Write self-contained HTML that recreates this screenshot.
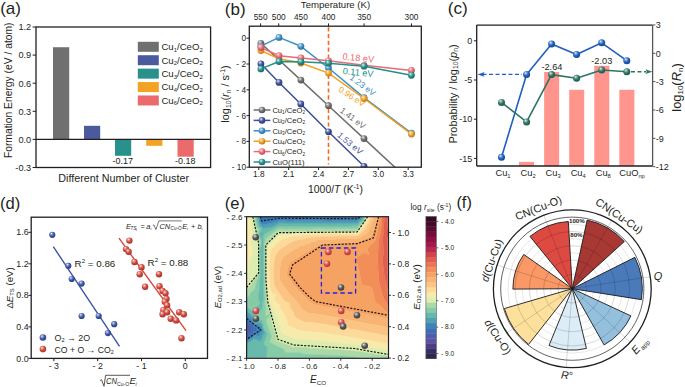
<!DOCTYPE html>
<html><head><meta charset="utf-8"><style>
html,body{margin:0;padding:0;background:#fff;}
svg{display:block;}
text{font-family:"Liberation Sans",sans-serif;}
</style></head><body>
<svg width="685" height="387" viewBox="0 0 685 387" font-family="Liberation Sans">
<defs><radialGradient id="g6e6e6e" cx="0.4" cy="0.36" r="0.68" fx="0.36" fy="0.3"><stop offset="0" stop-color="#f3f3f3"/><stop offset="0.25" stop-color="#a8a8a8"/><stop offset="0.55" stop-color="#6e6e6e"/><stop offset="1" stop-color="#4f4f4f"/></radialGradient><radialGradient id="g3f4e9a" cx="0.4" cy="0.36" r="0.68" fx="0.36" fy="0.3"><stop offset="0" stop-color="#f0f1f7"/><stop offset="0.25" stop-color="#8c95c2"/><stop offset="0.55" stop-color="#3f4e9a"/><stop offset="1" stop-color="#2d386f"/></radialGradient><radialGradient id="g3d8fc6" cx="0.4" cy="0.36" r="0.68" fx="0.36" fy="0.3"><stop offset="0" stop-color="#eff6fa"/><stop offset="0.25" stop-color="#8bbcdd"/><stop offset="0.55" stop-color="#3d8fc6"/><stop offset="1" stop-color="#2c678f"/></radialGradient><radialGradient id="gf4a020" cx="0.4" cy="0.36" r="0.68" fx="0.36" fy="0.3"><stop offset="0" stop-color="#fef7ed"/><stop offset="0.25" stop-color="#f8c679"/><stop offset="0.55" stop-color="#f4a020"/><stop offset="1" stop-color="#b07317"/></radialGradient><radialGradient id="gea6a73" cx="0.4" cy="0.36" r="0.68" fx="0.36" fy="0.3"><stop offset="0" stop-color="#fdf3f4"/><stop offset="0.25" stop-color="#f2a6ab"/><stop offset="0.55" stop-color="#ea6a73"/><stop offset="1" stop-color="#a84c53"/></radialGradient><radialGradient id="g23908a" cx="0.4" cy="0.36" r="0.68" fx="0.36" fy="0.3"><stop offset="0" stop-color="#edf6f6"/><stop offset="0.25" stop-color="#7bbcb9"/><stop offset="0.55" stop-color="#23908a"/><stop offset="1" stop-color="#196863"/></radialGradient><radialGradient id="g1f5fbf" cx="0.4" cy="0.36" r="0.68" fx="0.36" fy="0.3"><stop offset="0" stop-color="#edf2fa"/><stop offset="0.25" stop-color="#799fd9"/><stop offset="0.55" stop-color="#1f5fbf"/><stop offset="1" stop-color="#16448a"/></radialGradient><radialGradient id="g2d7565" cx="0.4" cy="0.36" r="0.68" fx="0.36" fy="0.3"><stop offset="0" stop-color="#eef4f3"/><stop offset="0.25" stop-color="#81aca3"/><stop offset="0.55" stop-color="#2d7565"/><stop offset="1" stop-color="#205449"/></radialGradient><radialGradient id="g3a56a8" cx="0.4" cy="0.36" r="0.68" fx="0.36" fy="0.3"><stop offset="0" stop-color="#eff1f8"/><stop offset="0.25" stop-color="#899acb"/><stop offset="0.55" stop-color="#3a56a8"/><stop offset="1" stop-color="#2a3e79"/></radialGradient><radialGradient id="gd4473a" cx="0.4" cy="0.36" r="0.68" fx="0.36" fy="0.3"><stop offset="0" stop-color="#fcf0ef"/><stop offset="0.25" stop-color="#e59189"/><stop offset="0.55" stop-color="#d4473a"/><stop offset="1" stop-color="#99332a"/></radialGradient><radialGradient id="ge04848" cx="0.4" cy="0.36" r="0.68" fx="0.36" fy="0.3"><stop offset="0" stop-color="#fdf0f0"/><stop offset="0.25" stop-color="#ec9191"/><stop offset="0.55" stop-color="#e04848"/><stop offset="1" stop-color="#a13434"/></radialGradient><radialGradient id="g555555" cx="0.4" cy="0.36" r="0.68" fx="0.36" fy="0.3"><stop offset="0" stop-color="#f1f1f1"/><stop offset="0.25" stop-color="#999999"/><stop offset="0.55" stop-color="#555555"/><stop offset="1" stop-color="#3d3d3d"/></radialGradient></defs>
<rect width="685" height="387" fill="#ffffff"/>
<text x="0.20" y="13.60" font-size="17.00" text-anchor="start" fill="#231f20">(a)</text>
<rect x="53.00" y="47.23" width="16.20" height="92.17" fill="#707070"/>
<rect x="84.00" y="125.80" width="16.20" height="13.60" fill="#4b5a9c"/>
<rect x="115.00" y="139.40" width="16.20" height="16.40" fill="#28918b"/>
<rect x="146.20" y="139.40" width="16.20" height="6.40" fill="#f4a221"/>
<rect x="177.50" y="139.40" width="16.20" height="17.30" fill="#eb6a6c"/>
<rect x="36.0" y="27.0" width="174.6" height="140.5" fill="none" stroke="#231f20" stroke-width="1.3"/>
<line x1="36.00" y1="139.40" x2="210.60" y2="139.40" stroke="#231f20" stroke-width="1.2"/>
<line x1="32.60" y1="27.00" x2="36.00" y2="27.00" stroke="#231f20" stroke-width="1.0"/>
<text x="31.20" y="30.30" font-size="9.20" text-anchor="end" fill="#231f20">1.2</text>
<line x1="32.60" y1="55.10" x2="36.00" y2="55.10" stroke="#231f20" stroke-width="1.0"/>
<text x="31.20" y="58.40" font-size="9.20" text-anchor="end" fill="#231f20">0.9</text>
<line x1="32.60" y1="83.20" x2="36.00" y2="83.20" stroke="#231f20" stroke-width="1.0"/>
<text x="31.20" y="86.50" font-size="9.20" text-anchor="end" fill="#231f20">0.6</text>
<line x1="32.60" y1="111.30" x2="36.00" y2="111.30" stroke="#231f20" stroke-width="1.0"/>
<text x="31.20" y="114.60" font-size="9.20" text-anchor="end" fill="#231f20">0.3</text>
<line x1="32.60" y1="139.40" x2="36.00" y2="139.40" stroke="#231f20" stroke-width="1.0"/>
<text x="31.20" y="142.70" font-size="9.20" text-anchor="end" fill="#231f20">0.0</text>
<line x1="32.60" y1="167.50" x2="36.00" y2="167.50" stroke="#231f20" stroke-width="1.0"/>
<text x="31.20" y="170.80" font-size="9.20" text-anchor="end" fill="#231f20">-0.3</text>
<text x="12.00" y="90.30" font-size="10.30" text-anchor="middle" fill="#231f20" transform="rotate(-90.00 12.00 90.30)">Formation Energy (eV / atom)</text>
<text x="122.80" y="164.00" font-size="9.00" text-anchor="middle" fill="#231f20">-0.17</text>
<text x="185.20" y="164.30" font-size="9.00" text-anchor="middle" fill="#231f20">-0.18</text>
<text x="123.70" y="182.00" font-size="10.75" text-anchor="middle" fill="#231f20">Different Number of Cluster</text>
<rect x="137.80" y="41.80" width="21.00" height="10.00" fill="#707070"/>
<text x="161.40" y="50.10" font-size="9.60" text-anchor="start" fill="#231f20">Cu<tspan dy="1.63" font-size="5.95">1</tspan><tspan dy="-1.63">&#8203;</tspan>/CeO<tspan dy="1.63" font-size="5.95">2</tspan><tspan dy="-1.63">&#8203;</tspan></text>
<rect x="137.80" y="55.22" width="21.00" height="10.00" fill="#4b5a9c"/>
<text x="161.40" y="63.52" font-size="9.60" text-anchor="start" fill="#231f20">Cu<tspan dy="1.63" font-size="5.95">2</tspan><tspan dy="-1.63">&#8203;</tspan>/CeO<tspan dy="1.63" font-size="5.95">2</tspan><tspan dy="-1.63">&#8203;</tspan></text>
<rect x="137.80" y="68.64" width="21.00" height="10.00" fill="#28918b"/>
<text x="161.40" y="76.94" font-size="9.60" text-anchor="start" fill="#231f20">Cu<tspan dy="1.63" font-size="5.95">3</tspan><tspan dy="-1.63">&#8203;</tspan>/CeO<tspan dy="1.63" font-size="5.95">2</tspan><tspan dy="-1.63">&#8203;</tspan></text>
<rect x="137.80" y="82.06" width="21.00" height="10.00" fill="#f4a221"/>
<text x="161.40" y="90.36" font-size="9.60" text-anchor="start" fill="#231f20">Cu<tspan dy="1.63" font-size="5.95">4</tspan><tspan dy="-1.63">&#8203;</tspan>/CeO<tspan dy="1.63" font-size="5.95">2</tspan><tspan dy="-1.63">&#8203;</tspan></text>
<rect x="137.80" y="95.48" width="21.00" height="10.00" fill="#eb6a6c"/>
<text x="161.40" y="103.78" font-size="9.60" text-anchor="start" fill="#231f20">Cu<tspan dy="1.63" font-size="5.95">6</tspan><tspan dy="-1.63">&#8203;</tspan>/CeO<tspan dy="1.63" font-size="5.95">2</tspan><tspan dy="-1.63">&#8203;</tspan></text>
<text x="224.80" y="14.60" font-size="17.00" text-anchor="start" fill="#231f20">(b)</text>
<clipPath id="clipb"><rect x="249.3" y="26.2" width="172.0" height="141.0"/></clipPath>
<line x1="328.50" y1="27.20" x2="328.50" y2="164.50" stroke="#f26a1b" stroke-width="1.6" stroke-dasharray="4.2,2.6"/>
<g clip-path="url(#clipb)">
<polyline points="260.90,43.30 300.90,80.10 328.50,105.70 364.00,138.60 411.40,182.50" fill="none" stroke="#6e6e6e" stroke-width="1.5" stroke-linejoin="round"/>
<polyline points="260.90,63.80 279.00,82.40 300.80,104.00 328.50,131.80 364.00,166.30 400.00,202.00" fill="none" stroke="#3f4e9a" stroke-width="1.5" stroke-linejoin="round"/>
<polyline points="260.90,46.20 279.00,37.40 300.90,46.30 328.50,68.00 364.00,97.60 411.40,133.20" fill="none" stroke="#3d8fc6" stroke-width="1.5" stroke-linejoin="round"/>
<polyline points="260.90,50.60 279.00,58.80 300.90,63.00 328.50,73.10 364.00,98.50 411.40,134.10" fill="none" stroke="#f4a020" stroke-width="1.5" stroke-linejoin="round"/>
<polyline points="260.90,47.50 279.00,55.70 300.90,57.90 328.50,60.80 364.00,65.30 411.40,70.40" fill="none" stroke="#ea6a73" stroke-width="1.5" stroke-linejoin="round"/>
<polyline points="260.90,68.90 279.00,61.50 300.90,61.80 328.50,63.20 364.00,66.20 411.40,75.30" fill="none" stroke="#23908a" stroke-width="1.5" stroke-linejoin="round"/>
<circle cx="260.90" cy="43.30" r="3.4" fill="url(#g6e6e6e)"/>
<circle cx="300.90" cy="80.10" r="3.4" fill="url(#g6e6e6e)"/>
<circle cx="328.50" cy="105.70" r="3.4" fill="url(#g6e6e6e)"/>
<circle cx="364.00" cy="138.60" r="3.4" fill="url(#g6e6e6e)"/>
<circle cx="260.90" cy="63.80" r="3.4" fill="url(#g3f4e9a)"/>
<circle cx="279.00" cy="82.40" r="3.4" fill="url(#g3f4e9a)"/>
<circle cx="300.80" cy="104.00" r="3.4" fill="url(#g3f4e9a)"/>
<circle cx="328.50" cy="131.80" r="3.4" fill="url(#g3f4e9a)"/>
<circle cx="364.00" cy="166.30" r="3.4" fill="url(#g3f4e9a)"/>
<circle cx="260.90" cy="46.20" r="3.4" fill="url(#g3d8fc6)"/>
<circle cx="279.00" cy="37.40" r="3.4" fill="url(#g3d8fc6)"/>
<circle cx="300.90" cy="46.30" r="3.4" fill="url(#g3d8fc6)"/>
<circle cx="328.50" cy="68.00" r="3.4" fill="url(#g3d8fc6)"/>
<circle cx="364.00" cy="97.60" r="3.4" fill="url(#g3d8fc6)"/>
<circle cx="411.40" cy="133.20" r="3.4" fill="url(#g3d8fc6)"/>
<circle cx="260.90" cy="50.60" r="3.4" fill="url(#gf4a020)"/>
<circle cx="279.00" cy="58.80" r="3.4" fill="url(#gf4a020)"/>
<circle cx="300.90" cy="63.00" r="3.4" fill="url(#gf4a020)"/>
<circle cx="328.50" cy="73.10" r="3.4" fill="url(#gf4a020)"/>
<circle cx="364.00" cy="98.50" r="3.4" fill="url(#gf4a020)"/>
<circle cx="411.40" cy="134.10" r="3.4" fill="url(#gf4a020)"/>
<circle cx="260.90" cy="47.50" r="3.4" fill="url(#gea6a73)"/>
<circle cx="279.00" cy="55.70" r="3.4" fill="url(#gea6a73)"/>
<circle cx="300.90" cy="57.90" r="3.4" fill="url(#gea6a73)"/>
<circle cx="328.50" cy="60.80" r="3.4" fill="url(#gea6a73)"/>
<circle cx="364.00" cy="65.30" r="3.4" fill="url(#gea6a73)"/>
<circle cx="411.40" cy="70.40" r="3.4" fill="url(#gea6a73)"/>
<circle cx="260.90" cy="68.90" r="3.4" fill="url(#g23908a)"/>
<circle cx="279.00" cy="61.50" r="3.4" fill="url(#g23908a)"/>
<circle cx="300.90" cy="61.80" r="3.4" fill="url(#g23908a)"/>
<circle cx="328.50" cy="63.20" r="3.4" fill="url(#g23908a)"/>
<circle cx="364.00" cy="66.20" r="3.4" fill="url(#g23908a)"/>
<circle cx="411.40" cy="75.30" r="3.4" fill="url(#g23908a)"/>
</g>
<rect x="249.3" y="26.2" width="172.0" height="141.0" fill="none" stroke="#231f20" stroke-width="1.3"/>
<line x1="258.80" y1="167.20" x2="258.80" y2="170.00" stroke="#231f20" stroke-width="1.0"/>
<text x="258.80" y="177.30" font-size="8.30" text-anchor="middle" fill="#231f20">1.8</text>
<line x1="288.68" y1="167.20" x2="288.68" y2="170.00" stroke="#231f20" stroke-width="1.0"/>
<text x="288.68" y="177.30" font-size="8.30" text-anchor="middle" fill="#231f20">2.1</text>
<line x1="318.56" y1="167.20" x2="318.56" y2="170.00" stroke="#231f20" stroke-width="1.0"/>
<text x="318.56" y="177.30" font-size="8.30" text-anchor="middle" fill="#231f20">2.4</text>
<line x1="348.44" y1="167.20" x2="348.44" y2="170.00" stroke="#231f20" stroke-width="1.0"/>
<text x="348.44" y="177.30" font-size="8.30" text-anchor="middle" fill="#231f20">2.7</text>
<line x1="378.32" y1="167.20" x2="378.32" y2="170.00" stroke="#231f20" stroke-width="1.0"/>
<text x="378.32" y="177.30" font-size="8.30" text-anchor="middle" fill="#231f20">3.0</text>
<line x1="408.20" y1="167.20" x2="408.20" y2="170.00" stroke="#231f20" stroke-width="1.0"/>
<text x="408.20" y="177.30" font-size="8.30" text-anchor="middle" fill="#231f20">3.3</text>
<line x1="246.50" y1="38.20" x2="249.30" y2="38.20" stroke="#231f20" stroke-width="1.0"/>
<text x="246.00" y="41.20" font-size="8.30" text-anchor="end" fill="#231f20">0</text>
<line x1="246.50" y1="64.00" x2="249.30" y2="64.00" stroke="#231f20" stroke-width="1.0"/>
<text x="246.00" y="67.00" font-size="8.30" text-anchor="end" fill="#231f20">- 2</text>
<line x1="246.50" y1="89.80" x2="249.30" y2="89.80" stroke="#231f20" stroke-width="1.0"/>
<text x="246.00" y="92.80" font-size="8.30" text-anchor="end" fill="#231f20">- 4</text>
<line x1="246.50" y1="115.60" x2="249.30" y2="115.60" stroke="#231f20" stroke-width="1.0"/>
<text x="246.00" y="118.60" font-size="8.30" text-anchor="end" fill="#231f20">- 6</text>
<line x1="246.50" y1="141.40" x2="249.30" y2="141.40" stroke="#231f20" stroke-width="1.0"/>
<text x="246.00" y="144.40" font-size="8.30" text-anchor="end" fill="#231f20">- 8</text>
<line x1="246.50" y1="167.20" x2="249.30" y2="167.20" stroke="#231f20" stroke-width="1.0"/>
<text x="246.00" y="170.20" font-size="8.30" text-anchor="end" fill="#231f20">- 10</text>
<line x1="260.61" y1="23.40" x2="260.61" y2="26.20" stroke="#231f20" stroke-width="1.0"/>
<text x="260.61" y="19.80" font-size="8.30" text-anchor="middle" fill="#231f20">550</text>
<line x1="278.72" y1="23.40" x2="278.72" y2="26.20" stroke="#231f20" stroke-width="1.0"/>
<text x="278.72" y="19.80" font-size="8.30" text-anchor="middle" fill="#231f20">500</text>
<line x1="300.85" y1="23.40" x2="300.85" y2="26.20" stroke="#231f20" stroke-width="1.0"/>
<text x="300.85" y="19.80" font-size="8.30" text-anchor="middle" fill="#231f20">450</text>
<line x1="328.52" y1="23.40" x2="328.52" y2="26.20" stroke="#231f20" stroke-width="1.0"/>
<text x="328.52" y="19.80" font-size="8.30" text-anchor="middle" fill="#231f20">400</text>
<line x1="364.09" y1="23.40" x2="364.09" y2="26.20" stroke="#231f20" stroke-width="1.0"/>
<text x="364.09" y="19.80" font-size="8.30" text-anchor="middle" fill="#231f20">350</text>
<line x1="411.52" y1="23.40" x2="411.52" y2="26.20" stroke="#231f20" stroke-width="1.0"/>
<text x="411.52" y="19.80" font-size="8.30" text-anchor="middle" fill="#231f20">300</text>
<text x="335.50" y="7.50" font-size="9.60" text-anchor="middle" fill="#231f20">Temperature (K)</text>
<text x="335.50" y="193.30" font-size="10.40" text-anchor="middle" fill="#231f20">1000/<tspan font-style="italic">T</tspan> (K<tspan dy="-3.95" font-size="6.45">-1</tspan><tspan dy="3.95">&#8203;</tspan>)</text>
<text x="229.00" y="94.00" font-size="10.90" text-anchor="middle" fill="#231f20" transform="rotate(-90.00 229.00 94.00)">log<tspan dy="1.85" font-size="6.76">10</tspan><tspan dy="-1.85">&#8203;</tspan>(<tspan font-style="italic">r</tspan><tspan dy="1.85" font-size="6.76">n</tspan><tspan dy="-1.85">&#8203;</tspan> / s<tspan dy="-4.14" font-size="6.76">-1</tspan><tspan dy="4.14">&#8203;</tspan>)</text>
<line x1="253.60" y1="110.00" x2="270.40" y2="110.00" stroke="#6e6e6e" stroke-width="1.5"/>
<circle cx="262.00" cy="110.00" r="3.3" fill="url(#g6e6e6e)"/>
<text x="272.40" y="112.80" font-size="7.60" text-anchor="start" fill="#231f20">Cu<tspan dy="1.29" font-size="4.71">1</tspan><tspan dy="-1.29">&#8203;</tspan>/CeO<tspan dy="1.29" font-size="4.71">2</tspan><tspan dy="-1.29">&#8203;</tspan></text>
<line x1="253.60" y1="120.40" x2="270.40" y2="120.40" stroke="#3f4e9a" stroke-width="1.5"/>
<circle cx="262.00" cy="120.40" r="3.3" fill="url(#g3f4e9a)"/>
<text x="272.40" y="123.20" font-size="7.60" text-anchor="start" fill="#231f20">Cu<tspan dy="1.29" font-size="4.71">2</tspan><tspan dy="-1.29">&#8203;</tspan>/CeO<tspan dy="1.29" font-size="4.71">2</tspan><tspan dy="-1.29">&#8203;</tspan></text>
<line x1="253.60" y1="130.80" x2="270.40" y2="130.80" stroke="#3d8fc6" stroke-width="1.5"/>
<circle cx="262.00" cy="130.80" r="3.3" fill="url(#g3d8fc6)"/>
<text x="272.40" y="133.60" font-size="7.60" text-anchor="start" fill="#231f20">Cu<tspan dy="1.29" font-size="4.71">3</tspan><tspan dy="-1.29">&#8203;</tspan>/CeO<tspan dy="1.29" font-size="4.71">2</tspan><tspan dy="-1.29">&#8203;</tspan></text>
<line x1="253.60" y1="141.20" x2="270.40" y2="141.20" stroke="#f4a020" stroke-width="1.5"/>
<circle cx="262.00" cy="141.20" r="3.3" fill="url(#gf4a020)"/>
<text x="272.40" y="144.00" font-size="7.60" text-anchor="start" fill="#231f20">Cu<tspan dy="1.29" font-size="4.71">4</tspan><tspan dy="-1.29">&#8203;</tspan>/CeO<tspan dy="1.29" font-size="4.71">2</tspan><tspan dy="-1.29">&#8203;</tspan></text>
<line x1="253.60" y1="151.60" x2="270.40" y2="151.60" stroke="#ea6a73" stroke-width="1.5"/>
<circle cx="262.00" cy="151.60" r="3.3" fill="url(#gea6a73)"/>
<text x="272.40" y="154.40" font-size="7.60" text-anchor="start" fill="#231f20">Cu<tspan dy="1.29" font-size="4.71">6</tspan><tspan dy="-1.29">&#8203;</tspan>/CeO<tspan dy="1.29" font-size="4.71">2</tspan><tspan dy="-1.29">&#8203;</tspan></text>
<line x1="253.60" y1="162.00" x2="270.40" y2="162.00" stroke="#23908a" stroke-width="1.5"/>
<circle cx="262.00" cy="162.00" r="3.3" fill="url(#g23908a)"/>
<text x="272.40" y="164.80" font-size="7.60" text-anchor="start" fill="#231f20">CuO(111)</text>
<text x="358.00" y="61.00" font-size="9.20" text-anchor="middle" fill="#ea6a73" transform="rotate(5.50 358.00 61.00)">0.18 eV</text>
<text x="357.80" y="75.60" font-size="9.20" text-anchor="middle" fill="#23908a" transform="rotate(6.00 357.80 75.60)">0.11 eV</text>
<text x="361.00" y="87.60" font-size="8.60" text-anchor="middle" fill="#3d8fc6" transform="rotate(36.50 361.00 87.60)">1.23 eV</text>
<text x="350.20" y="99.00" font-size="8.60" text-anchor="middle" fill="#f4a020" transform="rotate(33.00 350.20 99.00)">0.96 eV</text>
<text x="351.00" y="120.60" font-size="8.60" text-anchor="middle" fill="#6e6e6e" transform="rotate(37.00 351.00 120.60)">1.41 eV</text>
<text x="348.20" y="145.60" font-size="8.60" text-anchor="middle" fill="#3f4e9a" transform="rotate(40.00 348.20 145.60)">1.53 eV</text>
<text x="447.80" y="13.70" font-size="17.20" text-anchor="start" fill="#231f20">(c)</text>
<rect x="519.07" y="161.90" width="15.00" height="4.10" fill="#ff958c"/>
<rect x="544.14" y="72.00" width="15.00" height="94.00" fill="#ff958c"/>
<rect x="569.21" y="89.80" width="15.00" height="76.20" fill="#ff958c"/>
<rect x="594.28" y="65.80" width="15.00" height="100.20" fill="#ff958c"/>
<rect x="619.35" y="89.80" width="15.00" height="76.20" fill="#ff958c"/>
<line x1="482.50" y1="74.40" x2="522.00" y2="74.40" stroke="#1f5fbf" stroke-width="1.4" stroke-dasharray="4,2.5"/>
<path d="M477.6,74.4 L484.5,72.0 L483.2,74.4 L484.5,76.8 Z" fill="#1f5fbf"/>
<line x1="631.00" y1="71.70" x2="646.00" y2="71.70" stroke="#2d7565" stroke-width="1.4" stroke-dasharray="4,2.5"/>
<path d="M652.4,71.7 L645.5,69.3 L646.8,71.7 L645.5,74.1 Z" fill="#2d7565"/>
<polyline points="501.50,157.30 526.60,74.40 551.60,44.00 576.60,54.40 601.70,42.80 626.80,60.70" fill="none" stroke="#1f5fbf" stroke-width="1.6" stroke-linejoin="round"/>
<polyline points="501.50,102.40 526.60,121.90 551.60,74.60 576.60,78.20 601.70,70.00 626.80,71.70" fill="none" stroke="#2d7565" stroke-width="1.6" stroke-linejoin="round"/>
<circle cx="501.50" cy="157.30" r="3.5" fill="url(#g1f5fbf)"/>
<circle cx="526.60" cy="74.40" r="3.5" fill="url(#g1f5fbf)"/>
<circle cx="551.60" cy="44.00" r="3.5" fill="url(#g1f5fbf)"/>
<circle cx="576.60" cy="54.40" r="3.5" fill="url(#g1f5fbf)"/>
<circle cx="601.70" cy="42.80" r="3.5" fill="url(#g1f5fbf)"/>
<circle cx="626.80" cy="60.70" r="3.5" fill="url(#g1f5fbf)"/>
<circle cx="501.50" cy="102.40" r="3.5" fill="url(#g2d7565)"/>
<circle cx="526.60" cy="121.90" r="3.5" fill="url(#g2d7565)"/>
<circle cx="551.60" cy="74.60" r="3.5" fill="url(#g2d7565)"/>
<circle cx="576.60" cy="78.20" r="3.5" fill="url(#g2d7565)"/>
<circle cx="601.70" cy="70.00" r="3.5" fill="url(#g2d7565)"/>
<circle cx="626.80" cy="71.70" r="3.5" fill="url(#g2d7565)"/>
<line x1="476.70" y1="25.10" x2="652.60" y2="25.10" stroke="#231f20" stroke-width="1.3"/>
<line x1="476.70" y1="25.10" x2="476.70" y2="166.00" stroke="#231f20" stroke-width="1.3"/>
<line x1="476.70" y1="166.00" x2="652.60" y2="166.00" stroke="#231f20" stroke-width="1.3"/>
<line x1="652.60" y1="25.10" x2="652.60" y2="166.00" stroke="#555555" stroke-width="1.3"/>
<line x1="473.90" y1="40.80" x2="476.70" y2="40.80" stroke="#231f20" stroke-width="1.0"/>
<text x="472.30" y="44.00" font-size="9.00" text-anchor="end" fill="#231f20">0</text>
<line x1="473.90" y1="80.00" x2="476.70" y2="80.00" stroke="#231f20" stroke-width="1.0"/>
<text x="472.30" y="83.20" font-size="9.00" text-anchor="end" fill="#231f20">-5</text>
<line x1="473.90" y1="119.20" x2="476.70" y2="119.20" stroke="#231f20" stroke-width="1.0"/>
<text x="472.30" y="122.40" font-size="9.00" text-anchor="end" fill="#231f20">-10</text>
<line x1="473.90" y1="158.40" x2="476.70" y2="158.40" stroke="#231f20" stroke-width="1.0"/>
<text x="472.30" y="161.60" font-size="9.00" text-anchor="end" fill="#231f20">-15</text>
<line x1="652.60" y1="24.95" x2="655.40" y2="24.95" stroke="#555555" stroke-width="1.0"/>
<text x="655.80" y="28.15" font-size="9.00" text-anchor="start" fill="#231f20">3</text>
<line x1="652.60" y1="53.30" x2="655.40" y2="53.30" stroke="#555555" stroke-width="1.0"/>
<text x="655.80" y="56.50" font-size="9.00" text-anchor="start" fill="#231f20">0</text>
<line x1="652.60" y1="81.65" x2="655.40" y2="81.65" stroke="#555555" stroke-width="1.0"/>
<text x="655.80" y="84.85" font-size="9.00" text-anchor="start" fill="#231f20">-3</text>
<line x1="652.60" y1="110.00" x2="655.40" y2="110.00" stroke="#555555" stroke-width="1.0"/>
<text x="655.80" y="113.20" font-size="9.00" text-anchor="start" fill="#231f20">-6</text>
<line x1="652.60" y1="138.35" x2="655.40" y2="138.35" stroke="#555555" stroke-width="1.0"/>
<text x="655.80" y="141.55" font-size="9.00" text-anchor="start" fill="#231f20">-9</text>
<line x1="652.60" y1="166.70" x2="655.40" y2="166.70" stroke="#555555" stroke-width="1.0"/>
<text x="655.80" y="169.90" font-size="9.00" text-anchor="start" fill="#231f20">-12</text>
<text x="503.00" y="176.30" font-size="9.30" text-anchor="middle" fill="#231f20">Cu<tspan dy="1.58" font-size="5.77">1</tspan><tspan dy="-1.58">&#8203;</tspan></text>
<text x="528.07" y="176.30" font-size="9.30" text-anchor="middle" fill="#231f20">Cu<tspan dy="1.58" font-size="5.77">2</tspan><tspan dy="-1.58">&#8203;</tspan></text>
<text x="553.14" y="176.30" font-size="9.30" text-anchor="middle" fill="#231f20">Cu<tspan dy="1.58" font-size="5.77">3</tspan><tspan dy="-1.58">&#8203;</tspan></text>
<text x="578.21" y="176.30" font-size="9.30" text-anchor="middle" fill="#231f20">Cu<tspan dy="1.58" font-size="5.77">4</tspan><tspan dy="-1.58">&#8203;</tspan></text>
<text x="603.28" y="176.30" font-size="9.30" text-anchor="middle" fill="#231f20">Cu<tspan dy="1.58" font-size="5.77">8</tspan><tspan dy="-1.58">&#8203;</tspan></text>
<text x="632.05" y="176.30" font-size="9.30" text-anchor="middle" fill="#231f20">CuO<tspan dy="1.58" font-size="5.77">np</tspan><tspan dy="-1.58">&#8203;</tspan></text>
<text x="551.90" y="70.00" font-size="9.20" text-anchor="middle" fill="#231f20">-2.64</text>
<text x="601.80" y="64.20" font-size="9.20" text-anchor="middle" fill="#231f20">-2.03</text>
<text x="456.50" y="94.00" font-size="10.90" text-anchor="middle" fill="#231f20" transform="rotate(-90.00 456.50 94.00)">Probability / log<tspan dy="1.85" font-size="6.76">10</tspan><tspan dy="-1.85">&#8203;</tspan>(<tspan font-style="italic">p</tspan><tspan dy="1.85" font-size="6.76">n</tspan><tspan dy="-1.85">&#8203;</tspan>)</text>
<text x="680.80" y="87.50" font-size="12.90" text-anchor="middle" fill="#231f20" transform="rotate(-90.00 680.80 87.50)">log<tspan dy="2.19" font-size="8.00">10</tspan><tspan dy="-2.19">&#8203;</tspan>(<tspan font-style="italic">R</tspan><tspan dy="2.19" font-size="8.00">n</tspan><tspan dy="-2.19">&#8203;</tspan>)</text>
<text x="0.00" y="209.40" font-size="16.60" text-anchor="start" fill="#231f20">(d)</text>
<rect x="31.2" y="217.2" width="176.3" height="141.2" fill="none" stroke="#231f20" stroke-width="1.3"/>
<line x1="28.40" y1="358.40" x2="31.20" y2="358.40" stroke="#231f20" stroke-width="1.0"/>
<text x="28.60" y="361.50" font-size="8.80" text-anchor="end" fill="#231f20">0.0</text>
<line x1="28.40" y1="326.88" x2="31.20" y2="326.88" stroke="#231f20" stroke-width="1.0"/>
<text x="28.60" y="329.98" font-size="8.80" text-anchor="end" fill="#231f20">0.4</text>
<line x1="28.40" y1="295.36" x2="31.20" y2="295.36" stroke="#231f20" stroke-width="1.0"/>
<text x="28.60" y="298.46" font-size="8.80" text-anchor="end" fill="#231f20">0.8</text>
<line x1="28.40" y1="263.84" x2="31.20" y2="263.84" stroke="#231f20" stroke-width="1.0"/>
<text x="28.60" y="266.94" font-size="8.80" text-anchor="end" fill="#231f20">1.2</text>
<line x1="28.40" y1="232.32" x2="31.20" y2="232.32" stroke="#231f20" stroke-width="1.0"/>
<text x="28.60" y="235.42" font-size="8.80" text-anchor="end" fill="#231f20">1.6</text>
<line x1="53.90" y1="358.40" x2="53.90" y2="361.20" stroke="#231f20" stroke-width="1.0"/>
<text x="53.90" y="368.60" font-size="8.80" text-anchor="middle" fill="#231f20">- 3</text>
<line x1="97.70" y1="358.40" x2="97.70" y2="361.20" stroke="#231f20" stroke-width="1.0"/>
<text x="97.70" y="368.60" font-size="8.80" text-anchor="middle" fill="#231f20">- 2</text>
<line x1="141.50" y1="358.40" x2="141.50" y2="361.20" stroke="#231f20" stroke-width="1.0"/>
<text x="141.50" y="368.60" font-size="8.80" text-anchor="middle" fill="#231f20">- 1</text>
<line x1="185.30" y1="358.40" x2="185.30" y2="361.20" stroke="#231f20" stroke-width="1.0"/>
<text x="185.30" y="368.60" font-size="8.80" text-anchor="middle" fill="#231f20">0</text>
<line x1="53.30" y1="246.60" x2="119.50" y2="346.40" stroke="#3a56a8" stroke-width="1.4"/>
<line x1="119.00" y1="238.20" x2="186.00" y2="330.60" stroke="#d4473a" stroke-width="1.4"/>
<circle cx="52.30" cy="234.80" r="3.1" fill="url(#g3a56a8)"/>
<circle cx="68.30" cy="265.80" r="3.1" fill="url(#g3a56a8)"/>
<circle cx="71.70" cy="279.00" r="3.1" fill="url(#g3a56a8)"/>
<circle cx="81.60" cy="283.60" r="3.1" fill="url(#g3a56a8)"/>
<circle cx="81.60" cy="316.00" r="3.1" fill="url(#g3a56a8)"/>
<circle cx="98.70" cy="316.00" r="3.1" fill="url(#g3a56a8)"/>
<circle cx="107.90" cy="333.10" r="3.1" fill="url(#g3a56a8)"/>
<circle cx="114.20" cy="324.20" r="3.1" fill="url(#g3a56a8)"/>
<circle cx="129.40" cy="240.60" r="3.2" fill="url(#gd4473a)"/>
<circle cx="126.00" cy="249.10" r="3.2" fill="url(#gd4473a)"/>
<circle cx="128.60" cy="251.70" r="3.2" fill="url(#gd4473a)"/>
<circle cx="134.50" cy="262.00" r="3.2" fill="url(#gd4473a)"/>
<circle cx="141.50" cy="267.20" r="3.2" fill="url(#gd4473a)"/>
<circle cx="139.70" cy="274.20" r="3.2" fill="url(#gd4473a)"/>
<circle cx="159.00" cy="274.20" r="3.2" fill="url(#gd4473a)"/>
<circle cx="145.10" cy="286.70" r="3.2" fill="url(#gd4473a)"/>
<circle cx="159.50" cy="286.30" r="3.2" fill="url(#gd4473a)"/>
<circle cx="162.60" cy="290.90" r="3.2" fill="url(#gd4473a)"/>
<circle cx="165.50" cy="293.30" r="3.2" fill="url(#gd4473a)"/>
<circle cx="166.50" cy="299.00" r="3.2" fill="url(#gd4473a)"/>
<circle cx="164.80" cy="301.80" r="3.2" fill="url(#gd4473a)"/>
<circle cx="167.10" cy="305.30" r="3.2" fill="url(#gd4473a)"/>
<circle cx="163.40" cy="310.00" r="3.2" fill="url(#gd4473a)"/>
<circle cx="162.60" cy="314.20" r="3.2" fill="url(#gd4473a)"/>
<circle cx="167.10" cy="312.20" r="3.2" fill="url(#gd4473a)"/>
<circle cx="170.70" cy="318.80" r="3.2" fill="url(#gd4473a)"/>
<circle cx="176.10" cy="320.40" r="3.2" fill="url(#gd4473a)"/>
<circle cx="179.20" cy="312.20" r="3.2" fill="url(#gd4473a)"/>
<circle cx="183.80" cy="314.20" r="3.2" fill="url(#gd4473a)"/>
<circle cx="181.50" cy="338.20" r="3.2" fill="url(#gd4473a)"/>
<text x="74.60" y="266.80" font-size="9.80" text-anchor="start" fill="#231f20">R<tspan dy="-3.72" font-size="6.08">2</tspan><tspan dy="3.72">&#8203;</tspan> = 0.86</text>
<text x="147.60" y="266.20" font-size="9.80" text-anchor="start" fill="#231f20">R<tspan dy="-3.72" font-size="6.08">2</tspan><tspan dy="3.72">&#8203;</tspan> = 0.88</text>
<circle cx="42.90" cy="337.50" r="3.3" fill="url(#g3a56a8)"/>
<text x="54.50" y="340.90" font-size="8.90" text-anchor="start" fill="#231f20">O<tspan dy="1.51" font-size="5.52">2</tspan><tspan dy="-1.51">&#8203;</tspan> → 2O</text>
<circle cx="42.90" cy="349.10" r="3.3" fill="url(#gd4473a)"/>
<text x="54.50" y="352.60" font-size="8.70" text-anchor="start" fill="#231f20">CO + O → CO<tspan dy="1.48" font-size="5.39">2</tspan><tspan dy="-1.48">&#8203;</tspan></text>
<text x="12.60" y="288.00" font-size="9.60" text-anchor="middle" fill="#231f20" transform="rotate(-90.00 12.60 288.00)">Δ<tspan font-style="italic">E</tspan><tspan dy="1.63" font-size="5.95">TS</tspan><tspan dy="-1.63">&#8203;</tspan> (eV)</text>
<text x="125.90" y="228.80" font-size="7.40" font-style="italic" fill="#231f20">E</text>
<text x="130.60" y="230.30" font-size="4.60" font-style="italic" fill="#231f20">TS</text>
<text x="136.00" y="231.30" font-size="3.40" font-style="italic" fill="#231f20">i</text>
<text x="140.6" y="228.8" font-size="7.4" fill="#231f20">=</text>
<text x="146.30" y="228.80" font-size="7.40" font-style="italic" fill="#231f20">a</text>
<text x="150.60" y="230.30" font-size="4.20" font-style="italic" fill="#231f20">i</text>
<path d="M152.8,225.6 L154.0,224.9 L155.9,229.6 L158.9,220.9 L181.8,220.9" fill="none" stroke="#231f20" stroke-width="0.6"/>
<text x="159.40" y="228.80" font-size="7.40" font-style="italic" fill="#231f20">CN</text>
<text x="170.60" y="230.30" font-size="4.60" font-style="italic" fill="#231f20">Cu-O</text>
<text x="182.20" y="228.80" font-size="7.40" font-style="italic" fill="#231f20">E</text>
<text x="187.00" y="230.30" font-size="4.20" font-style="italic" fill="#231f20">i</text>
<text x="191.0" y="228.8" font-size="7.4" fill="#231f20">+</text>
<text x="197.40" y="228.80" font-size="7.40" font-style="italic" fill="#231f20">b</text>
<text x="201.60" y="230.30" font-size="4.20" font-style="italic" fill="#231f20">i</text>
<path d="M100.2,380.6 L101.5,379.7 L104.0,386.2 L105.6,375.3 L130.0,375.3" fill="none" stroke="#231f20" stroke-width="0.75"/>
<text x="105.9" y="383.6" font-size="9.2" font-style="italic" fill="#231f20" textLength="11.0" lengthAdjust="spacingAndGlyphs">CN</text>
<text x="117.0" y="385.6" font-size="5.6" fill="#231f20" textLength="12.3" lengthAdjust="spacingAndGlyphs">Cu-O</text>
<text x="129.5" y="383.6" font-size="9.2" font-style="italic" fill="#231f20" textLength="6.4" lengthAdjust="spacingAndGlyphs">E</text>
<text x="135.4" y="386.0" font-size="5.2" font-style="italic" fill="#231f20">i</text>
<text x="224.80" y="209.40" font-size="16.60" text-anchor="start" fill="#231f20">(e)</text>
<clipPath id="clipe"><rect x="246.6" y="216.7" width="141.9" height="141.60000000000002"/></clipPath>
<g clip-path="url(#clipe)">
<path d="M387.6,228.6L387.6,228.7L387.6,229.7L387.6,230.7L387.6,231.7L387.6,232.7L387.6,233.7L387.6,234.7L387.6,235.7L387.6,236.7L387.6,236.9L387.6,236.7L387.5,235.7L387.5,234.7L387.5,233.7L387.4,232.7L387.4,231.7L387.5,230.7L387.5,229.7L387.6,228.7Z" fill="#d14350" stroke="#d14350" stroke-width="0.6" fill-rule="evenodd"/>
<path d="M384.6,216.7L385.6,216.7L386.6,216.7L387.6,216.7L387.6,217.7L387.6,218.7L387.6,219.7L387.6,220.7L387.6,221.7L387.6,222.7L387.6,223.7L387.6,224.7L387.6,225.7L387.6,226.7L387.6,227.7L387.6,228.6L387.6,228.7L387.5,229.7L387.5,230.7L387.4,231.7L387.4,232.7L387.5,233.7L387.5,234.7L387.5,235.7L387.6,236.7L387.6,236.9L387.6,237.7L387.6,238.7L387.6,239.7L387.6,240.7L387.6,241.7L387.6,242.7L387.6,243.7L387.6,244.7L387.6,245.7L387.6,246.7L387.6,247.7L387.6,248.7L387.6,249.7L387.6,250.7L387.6,251.7L387.6,252.7L387.6,253.7L387.6,254.7L387.6,255.7L387.6,256.7L387.6,257.7L387.6,258.7L387.6,259.7L387.6,260.7L387.6,261.7L387.6,262.7L387.6,263.7L387.6,264.7L387.6,265.7L387.6,266.7L387.6,267.7L387.6,268.7L387.6,269.7L387.6,270.7L387.6,271.7L387.6,272.7L387.6,273.7L387.6,274.7L387.6,275.7L387.6,276.7L387.6,277.7L387.6,278.7L387.6,279.7L387.6,280.7L387.6,281.7L387.6,282.7L387.6,283.7L387.6,284.7L387.6,285.7L387.6,286.7L387.6,287.6L387.3,286.7L387.0,285.7L386.7,284.7L386.6,284.4L386.4,283.7L386.1,282.7L385.8,281.7L385.6,281.2L385.4,280.7L385.2,279.7L385.0,278.7L384.8,277.7L384.6,276.7L384.6,276.6L384.4,275.7L384.3,274.7L384.1,273.7L384.0,272.7L383.9,271.7L383.8,270.7L383.6,269.7L383.6,269.5L383.5,268.7L383.4,267.7L383.3,266.7L383.2,265.7L383.0,264.7L382.9,263.7L382.8,262.7L382.7,261.7L382.6,260.8L382.6,260.7L382.5,259.7L382.6,258.8L382.6,258.7L382.8,257.7L383.0,256.7L383.2,255.7L383.3,254.7L383.4,253.7L383.4,252.7L383.4,251.7L383.3,250.7L383.3,249.7L383.2,248.7L383.2,247.7L383.2,246.7L383.1,245.7L383.1,244.7L383.0,243.7L383.0,242.7L382.9,241.7L382.9,240.7L382.9,239.7L382.8,238.7L382.8,237.7L382.9,236.7L383.1,235.7L383.3,234.7L383.6,233.7L383.6,233.6L383.8,232.7L384.1,231.7L384.1,230.7L383.8,229.7L383.9,228.7L383.9,227.7L383.9,226.7L384.0,225.7L384.0,224.7L384.0,223.7L384.1,222.7L384.1,221.7L384.1,220.7L384.2,219.7L384.2,218.7L384.2,217.7L384.3,216.7Z" fill="#e15d50" stroke="#e15d50" stroke-width="0.6" fill-rule="evenodd"/>
<path d="M382.6,216.7L383.6,216.7L384.3,216.7L384.2,217.7L384.2,218.7L384.2,219.7L384.1,220.7L384.1,221.7L384.1,222.7L384.0,223.7L384.0,224.7L384.0,225.7L383.9,226.7L383.9,227.7L383.9,228.7L383.8,229.7L384.1,230.7L384.1,231.7L383.8,232.7L383.6,233.6L383.6,233.7L383.3,234.7L383.1,235.7L382.9,236.7L382.8,237.7L382.8,238.7L382.9,239.7L382.9,240.7L382.9,241.7L383.0,242.7L383.0,243.7L383.1,244.7L383.1,245.7L383.2,246.7L383.2,247.7L383.2,248.7L383.3,249.7L383.3,250.7L383.4,251.7L383.4,252.7L383.4,253.7L383.3,254.7L383.2,255.7L383.0,256.7L382.8,257.7L382.6,258.7L382.6,258.8L382.5,259.7L382.6,260.7L382.6,260.8L382.7,261.7L382.8,262.7L382.9,263.7L383.0,264.7L383.2,265.7L383.3,266.7L383.4,267.7L383.5,268.7L383.6,269.5L383.6,269.7L383.8,270.7L383.9,271.7L384.0,272.7L384.1,273.7L384.3,274.7L384.4,275.7L384.6,276.6L384.6,276.7L384.8,277.7L385.0,278.7L385.2,279.7L385.4,280.7L385.6,281.2L385.8,281.7L386.1,282.7L386.4,283.7L386.6,284.4L386.7,284.7L387.0,285.7L387.3,286.7L387.6,287.6L387.6,287.7L387.6,288.7L387.6,289.7L387.6,290.7L387.6,291.7L387.6,292.7L387.6,293.7L387.6,294.7L387.6,295.7L387.6,296.7L387.6,297.7L387.6,298.7L387.6,299.7L387.6,300.7L387.6,301.7L387.6,302.7L387.6,303.7L387.6,303.8L387.5,303.7L386.7,302.7L386.6,302.6L385.8,301.7L385.6,301.4L385.0,300.7L384.6,300.2L384.3,299.7L384.0,298.7L383.7,297.7L383.6,297.5L383.4,296.7L383.0,295.7L382.7,294.7L382.6,294.3L382.4,293.7L382.1,292.7L381.8,291.7L381.6,291.1L381.5,290.7L381.2,289.7L380.9,288.7L380.7,287.7L380.6,287.4L380.4,286.7L380.1,285.7L379.9,284.7L379.6,283.7L379.6,283.7L379.3,282.7L379.1,281.7L378.8,280.7L378.6,279.7L378.6,279.6L378.6,278.7L378.5,277.7L378.5,276.7L378.4,275.7L378.4,274.7L378.3,273.7L378.3,272.7L378.2,271.7L378.2,270.7L378.1,269.7L378.1,268.7L378.0,267.7L378.0,266.7L378.0,265.7L377.9,264.7L377.9,263.7L377.8,262.7L377.8,261.7L377.7,260.7L377.7,259.7L377.7,258.7L377.8,257.7L377.8,256.7L377.9,255.7L377.9,254.7L377.9,253.7L378.0,252.7L378.0,251.7L378.0,250.7L378.1,249.7L378.2,248.7L378.3,247.7L378.3,246.7L378.3,245.7L378.2,244.7L378.2,243.7L378.2,242.7L378.3,241.7L378.6,240.7L378.6,240.6L378.8,239.7L379.1,238.7L379.3,237.7L379.6,236.7L379.6,236.7L379.9,235.7L380.1,234.7L380.4,233.7L380.6,232.8L380.6,232.7L380.8,231.7L380.8,230.7L380.9,229.7L381.0,228.7L381.1,227.7L381.4,226.7L381.4,225.7L381.5,224.7L381.5,223.7L381.5,222.7L381.6,221.7L381.6,220.7L381.6,220.5L381.6,219.7L381.7,218.7L381.7,217.7L381.8,216.7Z" fill="#eb7653" stroke="#eb7653" stroke-width="0.6" fill-rule="evenodd"/>
<path d="M379.6,217.2L379.8,216.7L380.6,216.7L381.6,216.7L381.8,216.7L381.7,217.7L381.7,218.7L381.6,219.7L381.6,220.5L381.6,220.7L381.6,221.7L381.5,222.7L381.5,223.7L381.5,224.7L381.4,225.7L381.4,226.7L381.1,227.7L381.0,228.7L380.9,229.7L380.8,230.7L380.8,231.7L380.6,232.7L380.6,232.8L380.4,233.7L380.1,234.7L379.9,235.7L379.6,236.7L379.6,236.7L379.3,237.7L379.1,238.7L378.8,239.7L378.6,240.6L378.6,240.7L378.3,241.7L378.2,242.7L378.2,243.7L378.2,244.7L378.3,245.7L378.3,246.7L378.3,247.7L378.2,248.7L378.1,249.7L378.0,250.7L378.0,251.7L378.0,252.7L377.9,253.7L377.9,254.7L377.9,255.7L377.8,256.7L377.8,257.7L377.7,258.7L377.7,259.7L377.7,260.7L377.8,261.7L377.8,262.7L377.9,263.7L377.9,264.7L378.0,265.7L378.0,266.7L378.0,267.7L378.1,268.7L378.1,269.7L378.2,270.7L378.2,271.7L378.3,272.7L378.3,273.7L378.4,274.7L378.4,275.7L378.5,276.7L378.5,277.7L378.6,278.7L378.6,279.6L378.6,279.7L378.8,280.7L379.1,281.7L379.3,282.7L379.6,283.7L379.6,283.7L379.9,284.7L380.1,285.7L380.4,286.7L380.6,287.4L380.7,287.7L380.9,288.7L381.2,289.7L381.5,290.7L381.6,291.1L381.8,291.7L382.1,292.7L382.4,293.7L382.6,294.3L382.7,294.7L383.0,295.7L383.4,296.7L383.6,297.5L383.7,297.7L384.0,298.7L384.3,299.7L384.6,300.2L385.0,300.7L385.6,301.4L385.8,301.7L386.6,302.6L386.7,302.7L387.5,303.7L387.6,303.8L387.6,304.7L387.6,305.7L387.6,306.7L387.6,307.7L387.6,308.7L387.6,309.7L387.6,310.7L387.6,311.7L387.6,311.8L387.2,311.7L386.6,311.6L385.6,311.2L384.9,310.7L384.6,310.3L384.1,309.7L383.6,309.1L383.2,308.7L382.6,308.0L382.4,307.7L381.6,306.8L381.5,306.7L380.7,305.7L380.6,305.6L379.6,305.0L378.6,304.7L378.5,304.7L377.6,304.1L376.9,303.7L376.6,303.5L375.6,302.9L375.4,302.7L375.2,301.7L375.0,300.7L374.8,299.7L374.6,298.9L374.5,298.7L374.3,297.7L374.1,296.7L373.9,295.7L373.6,294.7L373.6,294.5L373.4,293.7L373.2,292.7L373.0,291.7L372.7,290.7L372.6,290.0L372.5,289.7L372.1,288.7L371.8,287.7L371.6,287.3L370.6,287.0L369.6,286.8L369.4,286.7L368.6,286.5L367.6,286.2L366.6,286.0L365.6,285.7L365.5,285.7L364.6,285.5L363.6,285.2L362.6,285.0L361.7,284.7L361.6,284.6L361.4,283.7L361.3,282.7L361.1,281.7L360.9,280.7L360.7,279.7L360.6,279.0L360.6,278.7L360.4,277.7L360.2,276.7L360.0,275.7L359.8,274.7L359.7,273.7L359.6,273.4L359.5,272.7L359.3,271.7L359.0,270.7L358.8,269.7L358.6,269.1L358.5,268.7L358.2,267.7L357.9,266.7L357.6,265.7L357.6,265.5L357.4,264.7L357.1,263.7L356.8,262.7L356.6,262.0L356.5,261.7L356.2,260.7L356.0,259.7L355.7,258.7L356.5,257.7L356.6,257.6L357.6,257.0L358.0,256.7L358.6,256.3L359.4,255.7L359.6,255.6L360.6,254.9L360.9,254.7L361.6,254.3L362.4,253.7L362.6,253.6L363.6,253.2L364.6,252.8L365.6,253.0L366.6,253.6L366.7,253.7L367.6,254.3L368.3,254.7L368.6,254.9L368.9,254.7L368.7,253.7L368.6,253.3L368.4,252.7L368.1,251.7L367.8,250.7L367.6,250.1L367.5,249.7L367.5,248.7L367.6,248.6L368.4,247.7L368.6,247.4L369.3,246.7L369.6,246.3L370.1,245.7L370.6,245.2L371.0,244.7L371.6,244.1L371.9,243.7L372.6,242.9L372.8,242.7L373.6,242.2L374.6,241.9L374.7,241.7L375.1,240.7L375.4,239.7L375.6,238.7L375.6,238.7L375.9,237.7L376.1,236.7L376.3,235.7L376.6,234.7L376.6,234.7L376.8,233.7L377.1,232.7L377.3,231.7L377.6,230.7L377.6,230.6L377.8,229.7L378.0,228.7L378.2,227.7L378.3,226.7L378.5,225.7L378.6,225.1L378.7,224.7L378.9,223.7L379.1,222.7L379.1,221.7L379.2,220.7L379.2,219.7L379.3,218.7L379.4,217.7Z" fill="#f28f59" stroke="#f28f59" stroke-width="0.6" fill-rule="evenodd"/>
<path d="M377.6,216.7L378.6,216.7L379.6,216.7L379.8,216.7L379.6,217.2L379.4,217.7L379.3,218.7L379.2,219.7L379.2,220.7L379.1,221.7L379.1,222.7L378.9,223.7L378.7,224.7L378.6,225.1L378.5,225.7L378.3,226.7L378.2,227.7L378.0,228.7L377.8,229.7L377.6,230.6L377.6,230.7L377.3,231.7L377.1,232.7L376.8,233.7L376.6,234.7L376.6,234.7L376.3,235.7L376.1,236.7L375.9,237.7L375.6,238.7L375.6,238.7L375.4,239.7L375.1,240.7L374.7,241.7L374.6,241.9L373.6,242.2L372.8,242.7L372.6,242.9L371.9,243.7L371.6,244.1L371.0,244.7L370.6,245.2L370.1,245.7L369.6,246.3L369.3,246.7L368.6,247.4L368.4,247.7L367.6,248.6L367.5,248.7L367.5,249.7L367.6,250.1L367.8,250.7L368.1,251.7L368.4,252.7L368.6,253.3L368.7,253.7L368.9,254.7L368.6,254.9L368.3,254.7L367.6,254.3L366.7,253.7L366.6,253.6L365.6,253.0L364.6,252.8L363.6,253.2L362.6,253.6L362.4,253.7L361.6,254.3L360.9,254.7L360.6,254.9L359.6,255.6L359.4,255.7L358.6,256.3L358.0,256.7L357.6,257.0L356.6,257.6L356.5,257.7L355.7,258.7L356.0,259.7L356.2,260.7L356.5,261.7L356.6,262.0L356.8,262.7L357.1,263.7L357.4,264.7L357.6,265.5L357.6,265.7L357.9,266.7L358.2,267.7L358.5,268.7L358.6,269.1L358.8,269.7L359.0,270.7L359.3,271.7L359.5,272.7L359.6,273.4L359.7,273.7L359.8,274.7L360.0,275.7L360.2,276.7L360.4,277.7L360.6,278.7L360.6,279.0L360.7,279.7L360.9,280.7L361.1,281.7L361.3,282.7L361.4,283.7L361.6,284.6L361.7,284.7L362.6,285.0L363.6,285.2L364.6,285.5L365.5,285.7L365.6,285.7L366.6,286.0L367.6,286.2L368.6,286.5L369.4,286.7L369.6,286.8L370.6,287.0L371.6,287.3L371.8,287.7L372.1,288.7L372.5,289.7L372.6,290.0L372.7,290.7L373.0,291.7L373.2,292.7L373.4,293.7L373.6,294.5L373.6,294.7L373.9,295.7L374.1,296.7L374.3,297.7L374.5,298.7L374.6,298.9L374.8,299.7L375.0,300.7L375.2,301.7L375.4,302.7L375.6,302.9L376.6,303.5L376.9,303.7L377.6,304.1L378.5,304.7L378.6,304.7L379.6,305.0L380.6,305.6L380.7,305.7L381.5,306.7L381.6,306.8L382.4,307.7L382.6,308.0L383.2,308.7L383.6,309.1L384.1,309.7L384.6,310.3L384.9,310.7L385.6,311.2L386.6,311.6L387.2,311.7L387.6,311.8L387.6,312.7L387.6,313.7L387.6,314.7L387.6,315.7L387.6,316.7L387.6,317.7L387.6,318.3L386.6,318.1L385.6,317.9L384.6,317.7L384.5,317.7L383.6,317.5L382.6,317.3L381.6,317.2L380.6,317.0L379.6,316.8L379.2,316.7L378.6,316.6L377.6,316.4L376.6,316.2L375.6,316.0L374.6,315.8L373.9,315.7L373.6,315.6L372.6,315.5L371.6,315.3L370.6,315.1L369.6,314.9L368.6,314.7L368.6,314.7L367.6,314.5L366.6,314.3L365.6,314.1L364.6,313.9L363.6,313.8L363.3,313.7L362.6,313.6L361.6,313.4L360.6,313.2L359.6,313.0L358.6,312.8L358.1,312.7L357.6,312.6L356.6,312.4L355.6,312.2L354.6,312.0L353.6,311.8L352.8,311.7L352.6,311.7L351.6,311.5L350.6,311.3L349.6,311.1L348.6,310.9L347.6,310.7L347.6,310.7L346.6,310.5L345.6,310.3L344.6,310.1L343.6,309.9L342.6,309.7L342.4,309.7L341.6,309.5L340.6,309.4L339.6,309.2L338.6,309.0L337.6,308.8L337.2,308.7L336.6,308.6L335.6,308.4L334.6,308.2L333.6,308.0L332.6,307.8L331.9,307.7L331.6,307.6L330.6,307.4L329.6,307.3L328.6,307.1L327.6,306.9L326.7,306.7L326.6,306.7L325.6,306.5L324.6,306.3L323.6,306.1L322.6,306.0L321.6,305.8L321.2,305.7L320.6,305.6L319.6,305.4L318.6,305.2L317.6,305.1L316.6,304.9L315.6,304.7L315.6,304.7L314.6,304.5L313.6,304.3L312.6,303.7L312.6,303.7L311.6,303.0L311.2,302.7L310.6,302.2L309.9,301.7L309.6,301.5L308.6,300.7L308.6,300.7L307.6,300.0L307.3,299.7L306.7,298.7L306.6,298.6L305.7,297.7L305.6,297.6L304.8,296.7L304.6,296.5L303.8,295.7L303.6,295.4L302.9,294.7L302.6,294.4L301.9,293.7L301.6,293.4L300.9,292.7L300.6,292.4L299.9,291.7L299.6,291.4L298.9,290.7L298.6,290.4L297.8,289.7L297.6,289.5L297.1,288.7L296.6,288.1L296.3,287.7L295.6,286.8L295.5,286.7L294.8,285.7L294.6,285.5L294.0,284.7L293.6,284.2L293.1,283.7L292.6,283.0L292.4,282.7L291.7,281.7L291.6,281.6L290.9,280.7L290.6,280.3L290.1,279.7L289.6,279.1L289.2,278.7L288.8,277.7L288.6,277.5L288.0,276.7L287.6,276.2L287.2,275.7L286.7,274.7L286.7,273.7L286.9,272.7L287.3,271.7L287.6,270.7L287.6,270.3L287.6,269.7L287.9,268.7L288.2,267.7L288.5,266.7L288.6,266.5L289.0,265.7L289.3,264.7L289.6,263.8L289.6,263.7L290.3,262.7L290.6,262.4L291.6,261.7L291.6,261.7L292.6,261.0L293.1,260.7L293.6,260.4L294.6,259.7L294.6,259.7L295.6,259.1L296.2,258.7L296.6,258.5L297.6,257.8L297.8,257.7L298.6,257.2L299.3,256.7L299.6,256.5L300.6,255.9L300.8,255.7L301.6,255.0L302.6,254.7L302.6,254.7L303.6,254.1L304.2,253.7L304.6,253.3L305.3,252.7L305.6,252.4L306.6,251.8L306.7,251.7L307.6,251.4L308.6,251.3L309.5,250.7L309.6,250.6L310.6,249.7L310.6,249.7L311.6,249.1L312.3,248.7L312.6,248.5L313.6,248.3L314.6,247.8L314.8,247.7L315.6,246.9L315.9,246.7L316.6,246.3L317.6,245.7L317.6,245.7L318.6,245.2L319.6,245.1L320.4,244.7L320.6,244.6L321.5,243.7L321.6,243.6L322.6,243.5L323.6,243.5L324.6,243.5L325.6,243.4L326.6,243.4L327.6,243.4L328.6,243.3L329.6,243.3L330.6,243.2L331.6,243.2L332.6,243.2L333.6,243.1L334.6,243.1L335.6,243.0L336.6,243.0L337.6,243.0L338.6,242.9L339.6,242.9L340.6,242.8L341.6,242.8L342.6,242.8L343.6,242.7L344.4,242.7L344.6,242.7L345.6,242.7L346.6,242.6L347.6,242.6L348.6,242.5L349.6,242.5L350.6,242.5L351.6,242.4L352.6,242.4L353.6,242.3L354.6,242.3L355.6,242.3L356.6,242.2L357.6,242.1L358.6,241.8L358.8,241.7L359.6,241.4L360.6,241.0L361.6,240.7L361.6,240.7L362.6,240.3L363.6,239.7L363.6,239.7L364.6,239.2L365.6,238.8L366.0,238.7L366.6,238.5L367.6,238.3L368.6,238.0L369.4,237.7L369.6,237.6L370.6,236.9L370.8,236.7L371.6,235.8L371.7,235.7L372.3,234.7L372.6,233.7L372.6,233.6L372.8,232.7L373.1,231.7L373.3,230.7L373.6,229.7L373.6,229.7L373.9,228.7L374.2,227.7L374.5,226.7L374.6,226.4L374.8,225.7L375.1,224.7L375.3,223.7L375.6,222.8L375.6,222.7L376.0,221.7L376.3,220.7L376.5,219.7L376.6,219.5L376.8,218.7L377.0,217.7L377.3,216.7Z" fill="#f6a262" stroke="#f6a262" stroke-width="0.6" fill-rule="evenodd"/>
<path d="M374.6,216.7L375.6,216.7L376.6,216.7L377.3,216.7L377.0,217.7L376.8,218.7L376.6,219.5L376.5,219.7L376.3,220.7L376.0,221.7L375.6,222.7L375.6,222.8L375.3,223.7L375.1,224.7L374.8,225.7L374.6,226.4L374.5,226.7L374.2,227.7L373.9,228.7L373.6,229.7L373.6,229.7L373.3,230.7L373.1,231.7L372.8,232.7L372.6,233.6L372.6,233.7L372.3,234.7L371.7,235.7L371.6,235.8L370.8,236.7L370.6,236.9L369.6,237.6L369.4,237.7L368.6,238.0L367.6,238.3L366.6,238.5L366.0,238.7L365.6,238.8L364.6,239.2L363.6,239.7L363.6,239.7L362.6,240.3L361.6,240.7L361.6,240.7L360.6,241.0L359.6,241.4L358.8,241.7L358.6,241.8L357.6,242.1L356.6,242.2L355.6,242.3L354.6,242.3L353.6,242.3L352.6,242.4L351.6,242.4L350.6,242.5L349.6,242.5L348.6,242.5L347.6,242.6L346.6,242.6L345.6,242.7L344.6,242.7L344.4,242.7L343.6,242.7L342.6,242.8L341.6,242.8L340.6,242.8L339.6,242.9L338.6,242.9L337.6,243.0L336.6,243.0L335.6,243.0L334.6,243.1L333.6,243.1L332.6,243.2L331.6,243.2L330.6,243.2L329.6,243.3L328.6,243.3L327.6,243.4L326.6,243.4L325.6,243.4L324.6,243.5L323.6,243.5L322.6,243.5L321.6,243.6L321.5,243.7L320.6,244.6L320.4,244.7L319.6,245.1L318.6,245.2L317.6,245.7L317.6,245.7L316.6,246.3L315.9,246.7L315.6,246.9L314.8,247.7L314.6,247.8L313.6,248.3L312.6,248.5L312.3,248.7L311.6,249.1L310.6,249.7L310.6,249.7L309.6,250.6L309.5,250.7L308.6,251.3L307.6,251.4L306.7,251.7L306.6,251.8L305.6,252.4L305.3,252.7L304.6,253.3L304.2,253.7L303.6,254.1L302.6,254.7L302.6,254.7L301.6,255.0L300.8,255.7L300.6,255.9L299.6,256.5L299.3,256.7L298.6,257.2L297.8,257.7L297.6,257.8L296.6,258.5L296.2,258.7L295.6,259.1L294.6,259.7L294.6,259.7L293.6,260.4L293.1,260.7L292.6,261.0L291.6,261.7L291.6,261.7L290.6,262.4L290.3,262.7L289.6,263.7L289.6,263.8L289.3,264.7L289.0,265.7L288.6,266.5L288.5,266.7L288.2,267.7L287.9,268.7L287.6,269.7L287.6,270.3L287.6,270.7L287.3,271.7L286.9,272.7L286.7,273.7L286.7,274.7L287.2,275.7L287.6,276.2L288.0,276.7L288.6,277.5L288.8,277.7L289.2,278.7L289.6,279.1L290.1,279.7L290.6,280.3L290.9,280.7L291.6,281.6L291.7,281.7L292.4,282.7L292.6,283.0L293.1,283.7L293.6,284.2L294.0,284.7L294.6,285.5L294.8,285.7L295.5,286.7L295.6,286.8L296.3,287.7L296.6,288.1L297.1,288.7L297.6,289.5L297.8,289.7L298.6,290.4L298.9,290.7L299.6,291.4L299.9,291.7L300.6,292.4L300.9,292.7L301.6,293.4L301.9,293.7L302.6,294.4L302.9,294.7L303.6,295.4L303.8,295.7L304.6,296.5L304.8,296.7L305.6,297.6L305.7,297.7L306.6,298.6L306.7,298.7L307.3,299.7L307.6,300.0L308.6,300.7L308.6,300.7L309.6,301.5L309.9,301.7L310.6,302.2L311.2,302.7L311.6,303.0L312.6,303.7L312.6,303.7L313.6,304.3L314.6,304.5L315.6,304.7L315.6,304.7L316.6,304.9L317.6,305.1L318.6,305.2L319.6,305.4L320.6,305.6L321.2,305.7L321.6,305.8L322.6,306.0L323.6,306.1L324.6,306.3L325.6,306.5L326.6,306.7L326.7,306.7L327.6,306.9L328.6,307.1L329.6,307.3L330.6,307.4L331.6,307.6L331.9,307.7L332.6,307.8L333.6,308.0L334.6,308.2L335.6,308.4L336.6,308.6L337.2,308.7L337.6,308.8L338.6,309.0L339.6,309.2L340.6,309.4L341.6,309.5L342.4,309.7L342.6,309.7L343.6,309.9L344.6,310.1L345.6,310.3L346.6,310.5L347.6,310.7L347.6,310.7L348.6,310.9L349.6,311.1L350.6,311.3L351.6,311.5L352.6,311.7L352.8,311.7L353.6,311.8L354.6,312.0L355.6,312.2L356.6,312.4L357.6,312.6L358.1,312.7L358.6,312.8L359.6,313.0L360.6,313.2L361.6,313.4L362.6,313.6L363.3,313.7L363.6,313.8L364.6,313.9L365.6,314.1L366.6,314.3L367.6,314.5L368.6,314.7L368.6,314.7L369.6,314.9L370.6,315.1L371.6,315.3L372.6,315.5L373.6,315.6L373.9,315.7L374.6,315.8L375.6,316.0L376.6,316.2L377.6,316.4L378.6,316.6L379.2,316.7L379.6,316.8L380.6,317.0L381.6,317.2L382.6,317.3L383.6,317.5L384.5,317.7L384.6,317.7L385.6,317.9L386.6,318.1L387.6,318.3L387.6,318.7L387.6,319.7L387.6,320.7L387.6,321.7L387.6,322.7L387.6,323.7L387.6,324.7L387.6,325.7L387.6,326.7L387.6,327.2L386.6,327.1L385.6,326.9L384.6,326.7L384.5,326.7L383.6,326.5L382.6,326.3L381.6,326.2L380.6,326.0L379.6,325.8L379.2,325.7L378.6,325.6L377.6,325.4L376.6,325.2L375.6,325.0L374.6,324.8L373.9,324.7L373.6,324.6L372.6,324.5L371.6,324.3L370.6,324.1L369.6,323.9L368.6,323.7L368.6,323.7L367.6,323.5L366.6,323.3L365.6,323.1L364.6,322.9L363.6,322.8L363.3,322.7L362.6,322.6L361.6,322.4L360.6,322.2L359.6,322.0L358.6,321.8L358.1,321.7L357.6,321.6L356.6,321.4L355.6,321.2L354.6,321.0L353.6,320.8L352.9,320.7L352.6,320.7L351.6,320.5L350.6,320.3L349.6,320.1L348.6,319.9L347.6,319.7L347.6,319.7L346.6,319.5L345.6,319.3L344.6,319.1L343.6,318.9L342.6,318.7L342.4,318.7L341.6,318.5L340.6,318.4L339.6,318.2L338.6,318.0L337.6,317.8L337.2,317.7L336.6,317.6L335.6,317.4L334.6,317.2L333.6,317.0L332.6,316.8L332.0,316.7L331.6,316.6L330.6,316.4L329.6,316.3L328.6,316.1L327.6,315.9L326.8,315.7L326.6,315.7L325.6,315.5L324.6,315.3L323.6,315.1L322.6,315.0L321.6,314.8L321.1,314.7L320.6,314.6L319.6,314.5L318.6,314.4L317.6,314.2L316.6,314.1L315.6,313.9L314.7,313.7L314.6,313.7L313.6,313.5L312.6,313.5L311.6,313.4L310.6,313.4L309.6,313.1L308.6,312.9L307.9,312.7L307.6,312.6L306.6,312.1L306.1,311.7L305.6,311.4L304.6,310.7L304.5,310.7L303.6,310.1L303.0,309.7L302.6,309.4L301.7,308.7L301.6,308.6L300.6,307.7L300.6,307.7L300.3,306.7L299.9,305.7L299.6,305.2L299.3,304.7L298.6,303.7L298.6,303.7L297.8,302.7L297.6,302.4L297.1,301.7L296.6,301.1L296.2,300.7L295.6,300.0L295.4,299.7L294.6,298.9L294.4,298.7L293.6,297.9L293.4,297.7L292.6,296.9L292.4,296.7L291.6,295.9L291.4,295.7L290.6,294.9L290.4,294.7L289.7,293.7L289.6,293.6L288.9,292.7L288.6,292.3L288.1,291.7L287.6,291.1L287.3,290.7L286.6,289.8L286.6,289.7L286.0,288.7L285.6,288.3L285.3,287.7L284.6,286.8L284.5,286.7L283.6,285.9L283.3,285.7L282.6,284.8L282.6,284.7L282.3,283.7L282.2,282.7L281.6,281.7L281.6,281.7L280.6,281.2L279.8,280.7L279.6,279.9L279.5,279.7L279.5,278.7L279.6,278.3L279.8,277.7L279.9,276.7L279.6,275.7L279.6,275.6L279.3,274.7L279.3,273.7L279.3,272.7L279.4,271.7L279.6,270.9L279.6,270.7L279.8,269.7L279.8,268.7L279.8,267.7L279.9,266.7L280.4,265.7L280.6,265.0L280.7,264.7L280.6,264.4L280.5,263.7L280.6,263.0L280.7,262.7L281.0,261.7L281.3,260.7L281.6,259.9L281.7,259.7L282.3,258.7L282.6,258.2L282.9,257.7L283.6,256.9L283.7,256.7L284.6,255.8L284.8,255.7L285.6,255.0L286.1,254.7L286.6,254.4L287.6,253.7L287.6,253.7L288.6,253.1L289.2,252.7L289.6,252.4L290.6,251.7L290.7,251.7L291.6,251.1L292.2,250.7L292.6,250.4L293.6,249.7L293.6,249.7L294.6,249.1L295.6,248.8L296.0,248.7L296.6,248.5L297.6,248.0L298.2,247.7L298.6,247.3L299.1,246.7L299.6,245.7L299.7,245.7L300.6,245.4L301.4,245.7L301.6,245.8L302.6,246.0L303.6,245.7L303.6,245.7L304.6,244.8L304.7,244.7L305.6,244.0L306.6,243.7L307.6,244.0L308.6,244.0L309.2,243.7L309.6,243.4L310.3,242.7L310.6,242.4L311.6,241.8L312.6,241.8L313.6,242.0L314.6,241.9L314.9,241.7L315.6,240.9L316.1,240.7L316.6,240.5L317.6,240.2L318.6,239.8L319.6,239.8L320.6,240.0L321.3,239.7L321.6,239.5L322.6,239.5L323.6,239.5L324.6,239.5L325.6,239.4L326.6,239.4L327.6,239.4L328.6,239.4L329.6,239.3L330.6,239.3L331.6,239.3L332.6,239.3L333.6,239.2L334.6,239.2L335.6,239.2L336.6,239.1L337.6,239.1L338.6,239.1L339.6,239.0L340.6,239.0L341.6,239.0L342.6,239.0L343.6,238.9L344.6,238.9L345.6,238.9L346.6,238.8L347.6,238.8L348.6,238.8L349.6,238.8L350.6,238.7L351.6,238.7L351.9,238.7L352.6,238.7L353.6,238.7L354.6,238.6L355.6,238.6L356.6,238.6L357.6,238.5L358.6,238.1L359.6,237.7L359.6,237.7L360.6,237.2L361.3,236.7L361.6,236.3L362.4,235.7L362.6,235.6L363.6,235.2L364.6,234.8L365.3,234.7L365.6,234.5L366.3,233.7L366.6,233.4L367.2,232.7L367.6,232.2L368.1,231.7L368.5,230.7L368.6,230.4L368.8,229.7L369.2,228.7L369.6,227.7L369.6,227.6L370.0,226.7L370.5,225.7L370.6,225.5L370.9,224.7L371.2,223.7L371.6,222.8L371.7,222.7L372.1,221.7L372.6,220.7L372.6,220.7L373.1,219.7L373.4,218.7L373.6,217.7L373.6,217.7L373.9,216.7Z" fill="#f9b373" stroke="#f9b373" stroke-width="0.6" fill-rule="evenodd"/>
<path d="M371.6,217.2L372.6,216.8L372.7,216.7L373.6,216.7L373.9,216.7L373.6,217.7L373.6,217.7L373.4,218.7L373.1,219.7L372.6,220.7L372.6,220.7L372.1,221.7L371.7,222.7L371.6,222.8L371.2,223.7L370.9,224.7L370.6,225.5L370.5,225.7L370.0,226.7L369.6,227.6L369.6,227.7L369.2,228.7L368.8,229.7L368.6,230.4L368.5,230.7L368.1,231.7L367.6,232.2L367.2,232.7L366.6,233.4L366.3,233.7L365.6,234.5L365.3,234.7L364.6,234.8L363.6,235.2L362.6,235.6L362.4,235.7L361.6,236.3L361.3,236.7L360.6,237.2L359.6,237.7L359.6,237.7L358.6,238.1L357.6,238.5L356.6,238.6L355.6,238.6L354.6,238.6L353.6,238.7L352.6,238.7L351.9,238.7L351.6,238.7L350.6,238.7L349.6,238.8L348.6,238.8L347.6,238.8L346.6,238.8L345.6,238.9L344.6,238.9L343.6,238.9L342.6,239.0L341.6,239.0L340.6,239.0L339.6,239.0L338.6,239.1L337.6,239.1L336.6,239.1L335.6,239.2L334.6,239.2L333.6,239.2L332.6,239.3L331.6,239.3L330.6,239.3L329.6,239.3L328.6,239.4L327.6,239.4L326.6,239.4L325.6,239.4L324.6,239.5L323.6,239.5L322.6,239.5L321.6,239.5L321.3,239.7L320.6,240.0L319.6,239.8L318.6,239.8L317.6,240.2L316.6,240.5L316.1,240.7L315.6,240.9L314.9,241.7L314.6,241.9L313.6,242.0L312.6,241.8L311.6,241.8L310.6,242.4L310.3,242.7L309.6,243.4L309.2,243.7L308.6,244.0L307.6,244.0L306.6,243.7L305.6,244.0L304.7,244.7L304.6,244.8L303.6,245.7L303.6,245.7L302.6,246.0L301.6,245.8L301.4,245.7L300.6,245.4L299.7,245.7L299.6,245.7L299.1,246.7L298.6,247.3L298.2,247.7L297.6,248.0L296.6,248.5L296.0,248.7L295.6,248.8L294.6,249.1L293.6,249.7L293.6,249.7L292.6,250.4L292.2,250.7L291.6,251.1L290.7,251.7L290.6,251.7L289.6,252.4L289.2,252.7L288.6,253.1L287.6,253.7L287.6,253.7L286.6,254.4L286.1,254.7L285.6,255.0L284.8,255.7L284.6,255.8L283.7,256.7L283.6,256.9L282.9,257.7L282.6,258.2L282.3,258.7L281.7,259.7L281.6,259.9L281.3,260.7L281.0,261.7L280.7,262.7L280.6,263.0L280.5,263.7L280.6,264.4L280.7,264.7L280.6,265.0L280.4,265.7L279.9,266.7L279.8,267.7L279.8,268.7L279.8,269.7L279.6,270.7L279.6,270.9L279.4,271.7L279.3,272.7L279.3,273.7L279.3,274.7L279.6,275.6L279.6,275.7L279.9,276.7L279.8,277.7L279.6,278.3L279.5,278.7L279.5,279.7L279.6,279.9L279.8,280.7L280.6,281.2L281.6,281.7L281.6,281.7L282.2,282.7L282.3,283.7L282.6,284.7L282.6,284.8L283.3,285.7L283.6,285.9L284.5,286.7L284.6,286.8L285.3,287.7L285.6,288.3L286.0,288.7L286.6,289.7L286.6,289.8L287.3,290.7L287.6,291.1L288.1,291.7L288.6,292.3L288.9,292.7L289.6,293.6L289.7,293.7L290.4,294.7L290.6,294.9L291.4,295.7L291.6,295.9L292.4,296.7L292.6,296.9L293.4,297.7L293.6,297.9L294.4,298.7L294.6,298.9L295.4,299.7L295.6,300.0L296.2,300.7L296.6,301.1L297.1,301.7L297.6,302.4L297.8,302.7L298.6,303.7L298.6,303.7L299.3,304.7L299.6,305.2L299.9,305.7L300.3,306.7L300.6,307.7L300.6,307.7L301.6,308.6L301.7,308.7L302.6,309.4L303.0,309.7L303.6,310.1L304.5,310.7L304.6,310.7L305.6,311.4L306.1,311.7L306.6,312.1L307.6,312.6L307.9,312.7L308.6,312.9L309.6,313.1L310.6,313.4L311.6,313.4L312.6,313.5L313.6,313.5L314.6,313.7L314.7,313.7L315.6,313.9L316.6,314.1L317.6,314.2L318.6,314.4L319.6,314.5L320.6,314.6L321.1,314.7L321.6,314.8L322.6,315.0L323.6,315.1L324.6,315.3L325.6,315.5L326.6,315.7L326.8,315.7L327.6,315.9L328.6,316.1L329.6,316.3L330.6,316.4L331.6,316.6L332.0,316.7L332.6,316.8L333.6,317.0L334.6,317.2L335.6,317.4L336.6,317.6L337.2,317.7L337.6,317.8L338.6,318.0L339.6,318.2L340.6,318.4L341.6,318.5L342.4,318.7L342.6,318.7L343.6,318.9L344.6,319.1L345.6,319.3L346.6,319.5L347.6,319.7L347.6,319.7L348.6,319.9L349.6,320.1L350.6,320.3L351.6,320.5L352.6,320.7L352.9,320.7L353.6,320.8L354.6,321.0L355.6,321.2L356.6,321.4L357.6,321.6L358.1,321.7L358.6,321.8L359.6,322.0L360.6,322.2L361.6,322.4L362.6,322.6L363.3,322.7L363.6,322.8L364.6,322.9L365.6,323.1L366.6,323.3L367.6,323.5L368.6,323.7L368.6,323.7L369.6,323.9L370.6,324.1L371.6,324.3L372.6,324.5L373.6,324.6L373.9,324.7L374.6,324.8L375.6,325.0L376.6,325.2L377.6,325.4L378.6,325.6L379.2,325.7L379.6,325.8L380.6,326.0L381.6,326.2L382.6,326.3L383.6,326.5L384.5,326.7L384.6,326.7L385.6,326.9L386.6,327.1L387.6,327.2L387.6,327.7L387.6,328.7L387.6,329.7L387.6,330.7L387.6,331.7L387.6,332.7L387.6,333.7L387.6,334.7L387.6,335.7L386.6,335.6L385.6,335.5L384.6,335.3L383.6,335.1L382.6,334.9L381.6,334.7L381.3,334.7L380.6,334.6L379.6,334.4L378.6,334.2L377.6,334.0L376.6,333.8L376.0,333.7L375.6,333.6L374.6,333.4L373.6,333.2L372.6,333.1L371.6,332.9L370.7,332.7L370.6,332.7L369.6,332.5L368.6,332.3L367.6,332.1L366.6,331.9L365.6,331.7L365.4,331.7L364.6,331.6L363.6,331.4L362.6,331.2L361.6,331.0L360.6,330.8L360.0,330.7L359.6,330.6L358.6,330.4L357.6,330.2L356.6,330.0L355.6,329.8L354.6,329.7L354.6,329.7L353.6,329.5L352.6,329.3L351.6,329.2L350.6,328.9L349.6,328.7L349.2,328.7L348.6,328.6L347.6,328.4L346.6,328.3L345.6,328.1L344.6,327.9L343.8,327.7L343.6,327.7L342.6,327.5L341.6,327.4L340.6,327.2L339.6,327.0L338.6,326.8L338.3,326.7L337.6,326.6L336.6,326.5L335.6,326.3L334.6,326.1L333.6,325.9L332.7,325.7L332.6,325.7L331.6,325.5L330.6,325.4L329.6,325.2L328.6,325.0L327.6,324.8L327.1,324.7L326.6,324.6L325.6,324.4L324.6,324.3L323.6,324.1L322.6,323.9L321.6,323.7L321.4,323.7L320.6,323.5L319.6,323.4L318.6,323.3L317.6,323.2L316.6,323.1L315.6,323.0L314.6,322.8L314.2,322.7L313.6,322.6L312.6,322.5L311.6,322.5L310.6,322.4L309.6,322.4L308.6,322.3L307.6,322.2L306.6,322.2L305.6,322.1L304.6,321.9L304.2,321.7L303.6,321.5L302.6,321.2L301.6,320.8L301.3,320.7L300.6,320.4L299.6,319.8L299.4,319.7L298.6,319.3L297.6,318.7L297.6,318.7L296.6,317.9L296.3,317.7L295.6,317.0L295.3,316.7L294.6,316.1L294.3,315.7L293.8,314.7L293.6,313.9L293.6,313.7L293.3,312.7L292.7,311.7L292.6,311.5L292.1,310.7L291.6,309.8L291.6,309.7L291.0,308.7L290.6,308.1L290.4,307.7L290.0,306.7L289.8,305.7L289.7,304.7L289.6,303.9L289.5,303.7L289.0,302.7L288.6,302.5L287.6,302.5L286.6,302.6L285.6,302.1L285.3,301.7L284.6,300.8L284.5,300.7L283.8,299.7L283.6,299.5L283.0,298.7L282.6,298.1L282.3,297.7L281.6,296.7L281.6,296.6L280.9,295.7L280.6,295.3L280.2,294.7L279.6,293.8L279.5,293.7L278.9,292.7L278.6,292.3L278.2,291.7L277.6,290.9L277.5,290.7L276.8,289.7L276.6,289.4L276.2,288.7L275.6,287.9L275.5,287.7L275.2,286.7L274.6,285.9L274.3,285.7L274.0,284.7L274.1,283.7L274.1,282.7L274.0,281.7L273.9,280.7L273.6,279.9L273.5,279.7L273.4,278.7L273.4,277.7L273.5,276.7L273.4,275.7L273.3,274.7L273.3,273.7L273.3,272.7L273.3,271.7L273.4,270.7L273.4,269.7L273.4,268.7L273.5,267.7L273.6,266.9L273.6,266.7L273.7,265.7L273.7,264.7L273.7,263.7L273.8,262.7L273.9,261.7L274.0,260.7L274.2,259.7L274.5,258.7L274.6,258.1L274.7,257.7L275.0,256.7L275.4,255.7L275.6,255.1L275.8,254.7L276.3,253.7L276.6,253.2L276.9,252.7L277.6,251.9L277.8,251.7L278.6,250.8L278.7,250.7L279.6,249.9L279.8,249.7L280.6,249.0L281.0,248.7L281.6,248.3L282.4,247.7L282.6,247.6L283.6,246.9L283.9,246.7L284.6,246.2L285.3,245.7L285.6,245.5L286.6,244.8L286.8,244.7L287.6,244.3L288.6,243.8L288.7,243.7L289.6,243.2L290.4,242.7L290.6,242.6L291.6,242.0L292.1,241.7L292.6,241.5L293.6,240.9L294.0,240.7L294.6,240.4L295.6,240.1L296.6,240.2L297.6,239.9L298.2,239.7L298.6,239.5L299.6,239.3L300.6,239.3L301.6,239.3L302.6,239.2L303.6,238.9L304.2,238.7L304.6,238.5L305.6,238.3L306.6,238.1L307.6,238.2L308.6,238.0L309.5,237.7L309.6,237.7L310.6,237.3L311.6,237.1L312.6,237.0L313.6,237.2L314.6,237.2L315.6,236.9L316.4,236.7L316.6,236.6L317.6,236.4L318.6,236.4L319.6,236.4L320.6,236.4L321.6,236.3L322.6,236.3L323.6,236.3L324.6,236.3L325.6,236.3L326.6,236.3L327.6,236.2L328.6,236.2L329.6,236.2L330.6,236.2L331.6,236.2L332.6,236.2L333.6,236.1L334.6,236.1L335.6,236.1L336.6,236.1L337.6,236.1L338.6,236.0L339.6,236.0L340.6,236.0L341.6,236.0L342.6,236.0L343.6,235.9L344.6,235.9L345.6,235.9L346.6,235.9L347.6,235.9L348.6,235.8L349.6,235.8L350.6,235.8L351.6,235.8L352.6,235.7L353.6,235.7L354.6,235.7L355.6,235.7L356.6,235.8L356.9,235.7L357.6,235.6L358.6,235.1L359.0,234.7L359.6,234.1L360.1,233.7L360.6,233.1L361.1,232.7L361.6,232.3L362.2,231.7L362.6,231.1L363.2,230.7L363.6,230.4L364.6,229.8L364.7,229.7L365.3,228.7L365.6,228.0L365.7,227.7L366.1,226.7L366.6,225.7L366.6,225.7L367.2,224.7L367.6,223.9L367.7,223.7L368.2,222.7L368.6,222.0L368.8,221.7L369.3,220.7L369.6,220.2L369.9,219.7L370.4,218.7L370.6,218.3L371.0,217.7Z" fill="#fcc484" stroke="#fcc484" stroke-width="0.6" fill-rule="evenodd"/>
<path d="M369.6,216.7L370.6,216.7L371.6,216.7L372.6,216.7L372.7,216.7L372.6,216.8L371.6,217.2L371.0,217.7L370.6,218.3L370.4,218.7L369.9,219.7L369.6,220.2L369.3,220.7L368.8,221.7L368.6,222.0L368.2,222.7L367.7,223.7L367.6,223.9L367.2,224.7L366.6,225.7L366.6,225.7L366.1,226.7L365.7,227.7L365.6,228.0L365.3,228.7L364.7,229.7L364.6,229.8L363.6,230.4L363.2,230.7L362.6,231.1L362.2,231.7L361.6,232.3L361.1,232.7L360.6,233.1L360.1,233.7L359.6,234.1L359.0,234.7L358.6,235.1L357.6,235.6L356.9,235.7L356.6,235.8L355.6,235.7L354.6,235.7L353.6,235.7L352.6,235.7L351.6,235.8L350.6,235.8L349.6,235.8L348.6,235.8L347.6,235.9L346.6,235.9L345.6,235.9L344.6,235.9L343.6,235.9L342.6,236.0L341.6,236.0L340.6,236.0L339.6,236.0L338.6,236.0L337.6,236.1L336.6,236.1L335.6,236.1L334.6,236.1L333.6,236.1L332.6,236.2L331.6,236.2L330.6,236.2L329.6,236.2L328.6,236.2L327.6,236.2L326.6,236.3L325.6,236.3L324.6,236.3L323.6,236.3L322.6,236.3L321.6,236.3L320.6,236.4L319.6,236.4L318.6,236.4L317.6,236.4L316.6,236.6L316.4,236.7L315.6,236.9L314.6,237.2L313.6,237.2L312.6,237.0L311.6,237.1L310.6,237.3L309.6,237.7L309.5,237.7L308.6,238.0L307.6,238.2L306.6,238.1L305.6,238.3L304.6,238.5L304.2,238.7L303.6,238.9L302.6,239.2L301.6,239.3L300.6,239.3L299.6,239.3L298.6,239.5L298.2,239.7L297.6,239.9L296.6,240.2L295.6,240.1L294.6,240.4L294.0,240.7L293.6,240.9L292.6,241.5L292.1,241.7L291.6,242.0L290.6,242.6L290.4,242.7L289.6,243.2L288.7,243.7L288.6,243.8L287.6,244.3L286.8,244.7L286.6,244.8L285.6,245.5L285.3,245.7L284.6,246.2L283.9,246.7L283.6,246.9L282.6,247.6L282.4,247.7L281.6,248.3L281.0,248.7L280.6,249.0L279.8,249.7L279.6,249.9L278.7,250.7L278.6,250.8L277.8,251.7L277.6,251.9L276.9,252.7L276.6,253.2L276.3,253.7L275.8,254.7L275.6,255.1L275.4,255.7L275.0,256.7L274.7,257.7L274.6,258.1L274.5,258.7L274.2,259.7L274.0,260.7L273.9,261.7L273.8,262.7L273.7,263.7L273.7,264.7L273.7,265.7L273.6,266.7L273.6,266.9L273.5,267.7L273.4,268.7L273.4,269.7L273.4,270.7L273.3,271.7L273.3,272.7L273.3,273.7L273.3,274.7L273.4,275.7L273.5,276.7L273.4,277.7L273.4,278.7L273.5,279.7L273.6,279.9L273.9,280.7L274.0,281.7L274.1,282.7L274.1,283.7L274.0,284.7L274.3,285.7L274.6,285.9L275.2,286.7L275.5,287.7L275.6,287.9L276.2,288.7L276.6,289.4L276.8,289.7L277.5,290.7L277.6,290.9L278.2,291.7L278.6,292.3L278.9,292.7L279.5,293.7L279.6,293.8L280.2,294.7L280.6,295.3L280.9,295.7L281.6,296.6L281.6,296.7L282.3,297.7L282.6,298.1L283.0,298.7L283.6,299.5L283.8,299.7L284.5,300.7L284.6,300.8L285.3,301.7L285.6,302.1L286.6,302.6L287.6,302.5L288.6,302.5L289.0,302.7L289.5,303.7L289.6,303.9L289.7,304.7L289.8,305.7L290.0,306.7L290.4,307.7L290.6,308.1L291.0,308.7L291.6,309.7L291.6,309.8L292.1,310.7L292.6,311.5L292.7,311.7L293.3,312.7L293.6,313.7L293.6,313.9L293.8,314.7L294.3,315.7L294.6,316.1L295.3,316.7L295.6,317.0L296.3,317.7L296.6,317.9L297.6,318.7L297.6,318.7L298.6,319.3L299.4,319.7L299.6,319.8L300.6,320.4L301.3,320.7L301.6,320.8L302.6,321.2L303.6,321.5L304.2,321.7L304.6,321.9L305.6,322.1L306.6,322.2L307.6,322.2L308.6,322.3L309.6,322.4L310.6,322.4L311.6,322.5L312.6,322.5L313.6,322.6L314.2,322.7L314.6,322.8L315.6,323.0L316.6,323.1L317.6,323.2L318.6,323.3L319.6,323.4L320.6,323.5L321.4,323.7L321.6,323.7L322.6,323.9L323.6,324.1L324.6,324.3L325.6,324.4L326.6,324.6L327.1,324.7L327.6,324.8L328.6,325.0L329.6,325.2L330.6,325.4L331.6,325.5L332.6,325.7L332.7,325.7L333.6,325.9L334.6,326.1L335.6,326.3L336.6,326.5L337.6,326.6L338.3,326.7L338.6,326.8L339.6,327.0L340.6,327.2L341.6,327.4L342.6,327.5L343.6,327.7L343.8,327.7L344.6,327.9L345.6,328.1L346.6,328.3L347.6,328.4L348.6,328.6L349.2,328.7L349.6,328.7L350.6,328.9L351.6,329.2L352.6,329.3L353.6,329.5L354.6,329.7L354.6,329.7L355.6,329.8L356.6,330.0L357.6,330.2L358.6,330.4L359.6,330.6L360.0,330.7L360.6,330.8L361.6,331.0L362.6,331.2L363.6,331.4L364.6,331.6L365.4,331.7L365.6,331.7L366.6,331.9L367.6,332.1L368.6,332.3L369.6,332.5L370.6,332.7L370.7,332.7L371.6,332.9L372.6,333.1L373.6,333.2L374.6,333.4L375.6,333.6L376.0,333.7L376.6,333.8L377.6,334.0L378.6,334.2L379.6,334.4L380.6,334.6L381.3,334.7L381.6,334.7L382.6,334.9L383.6,335.1L384.6,335.3L385.6,335.5L386.6,335.6L387.6,335.7L387.6,335.7L387.6,336.7L387.6,337.7L387.6,338.7L387.6,339.7L387.6,340.7L387.6,341.7L387.6,342.7L387.6,343.6L386.6,343.5L385.6,343.4L384.6,343.3L383.6,343.1L382.6,342.9L381.6,342.7L381.4,342.7L380.6,342.6L379.6,342.4L378.6,342.2L377.6,342.0L376.6,341.8L375.9,341.7L375.6,341.6L374.6,341.5L373.6,341.3L372.6,341.1L371.6,340.9L370.6,340.7L370.5,340.7L369.6,340.5L368.6,340.3L367.6,340.2L366.6,340.0L365.6,339.8L365.1,339.7L364.6,339.6L363.6,339.4L362.6,339.2L361.6,339.0L360.6,338.9L359.7,338.7L359.6,338.7L358.6,338.5L357.6,338.3L356.6,338.1L355.6,337.9L354.6,337.7L354.2,337.7L353.6,337.6L352.6,337.5L351.6,337.3L350.6,337.2L349.6,337.0L348.6,336.8L347.6,336.7L347.6,336.7L346.6,336.6L345.6,336.4L344.6,336.3L343.6,336.1L342.6,335.9L341.6,335.8L341.0,335.7L340.6,335.6L339.6,335.5L338.6,335.3L337.6,335.2L336.6,335.0L335.6,334.8L334.6,334.7L334.5,334.7L333.6,334.6L332.6,334.4L331.6,334.2L330.6,334.1L329.6,333.9L328.6,333.8L328.1,333.7L327.6,333.6L326.6,333.5L325.6,333.3L324.6,333.1L323.6,333.0L322.6,332.8L321.7,332.7L321.6,332.7L320.6,332.5L319.6,332.4L318.6,332.3L317.6,332.2L316.6,332.1L315.6,332.0L314.6,331.9L313.6,331.8L312.6,331.7L312.6,331.7L311.6,331.6L310.6,331.5L309.6,331.4L308.6,331.3L307.6,331.3L306.6,331.2L305.6,331.2L304.6,331.1L303.6,331.1L302.6,331.0L301.6,330.9L300.6,330.8L300.4,330.7L299.6,330.4L298.6,330.1L297.6,329.7L297.5,329.7L296.6,329.4L295.6,329.0L294.7,328.7L294.6,328.7L293.6,328.2L292.6,327.7L292.6,327.7L291.6,327.2L290.6,326.7L290.5,326.7L289.6,326.2L288.6,325.7L288.6,325.7L287.9,324.7L287.6,323.7L287.6,323.7L287.3,322.7L287.1,321.7L286.8,320.7L286.6,320.1L286.5,319.7L286.2,318.7L285.7,317.7L285.6,317.5L285.2,316.7L284.8,315.7L284.6,315.3L284.3,314.7L283.8,313.7L283.6,313.3L283.2,312.7L282.6,311.8L282.6,311.7L281.9,310.7L281.6,310.3L281.1,309.7L280.6,309.0L280.4,308.7L279.9,307.7L280.2,306.7L279.8,305.7L279.6,305.3L279.3,304.7L278.6,304.1L277.8,303.7L277.6,303.5L276.7,302.7L276.6,302.5L276.1,301.7L275.6,300.8L275.5,300.7L274.9,299.7L274.6,299.1L274.4,298.7L274.1,297.7L274.6,297.1L275.0,296.7L275.6,295.9L275.7,295.7L275.6,295.3L275.4,294.7L274.6,293.9L274.2,293.7L273.6,293.4L273.1,293.7L272.9,294.7L272.6,295.1L272.4,294.7L272.1,293.7L271.6,292.7L271.6,292.7L271.2,291.7L270.8,290.7L270.6,290.2L270.4,289.7L270.2,288.7L269.9,287.7L269.7,286.7L269.7,285.7L269.6,285.0L269.6,284.7L269.5,283.7L269.4,282.7L269.3,281.7L269.2,280.7L269.1,279.7L269.1,278.7L269.1,277.7L269.1,276.7L269.1,275.7L269.1,274.7L269.1,273.7L269.1,272.7L269.1,271.7L269.2,270.7L269.1,269.7L269.1,268.7L269.1,267.7L269.2,266.7L269.2,265.7L269.3,264.7L269.2,263.7L269.2,262.7L269.2,261.7L269.3,260.7L269.3,259.7L269.4,258.7L269.5,257.7L269.6,257.2L269.7,256.7L269.8,255.7L270.0,254.7L270.1,253.7L270.4,252.7L270.6,251.7L270.6,251.6L270.8,250.7L271.1,249.7L271.6,248.7L271.6,248.6L272.5,247.7L272.6,247.5L273.4,246.7L273.6,246.5L274.4,245.7L274.6,245.5L275.4,244.7L275.6,244.6L276.5,243.7L276.6,243.7L277.6,242.8L277.8,242.7L278.6,242.1L279.1,241.7L279.6,241.3L280.4,240.7L280.6,240.6L281.6,239.8L281.7,239.7L282.6,239.1L283.5,238.7L283.6,238.7L284.6,238.4L285.6,238.1L286.5,237.7L286.6,237.7L287.6,237.4L288.6,237.0L289.6,236.7L289.6,236.7L290.6,236.4L291.6,236.1L292.6,235.8L293.6,235.7L293.7,235.7L294.6,235.6L295.6,235.5L296.6,235.5L297.6,235.4L298.6,235.4L299.6,235.4L300.6,235.2L301.6,235.1L302.6,235.1L303.6,235.0L304.6,234.9L305.6,234.8L306.6,234.7L306.7,234.7L307.6,234.6L308.6,234.6L309.6,234.4L310.6,234.4L311.6,234.4L312.6,234.4L313.6,234.3L314.6,234.5L315.6,234.2L316.6,234.1L317.6,234.1L318.6,234.2L319.6,234.3L320.6,234.2L321.6,234.0L322.6,234.0L323.6,234.0L324.6,234.0L325.6,234.0L326.6,234.0L327.6,234.0L328.6,234.0L329.6,233.9L330.6,233.9L331.6,233.9L332.6,233.9L333.6,233.9L334.6,233.9L335.6,233.9L336.6,233.8L337.6,233.8L338.6,233.8L339.6,233.8L340.6,233.9L341.6,234.0L342.6,233.8L343.6,233.8L344.6,233.7L345.6,233.7L346.6,233.7L347.2,233.7L347.6,233.7L348.6,233.7L349.6,233.7L350.6,233.7L351.6,233.7L352.6,233.6L353.6,233.6L354.6,233.6L355.6,233.6L356.6,233.6L357.6,233.4L358.3,232.7L358.6,232.5L359.3,231.7L359.6,231.1L360.1,230.7L360.6,230.2L360.9,229.7L361.6,228.7L361.6,228.6L362.5,227.7L362.6,227.6L363.2,226.7L363.6,226.1L363.8,225.7L364.3,224.7L364.6,224.3L365.0,223.7L365.6,222.8L365.7,222.7L366.4,221.7L366.6,221.3L366.9,220.7L367.5,219.7L367.6,219.5L368.1,218.7L368.6,218.0L368.8,217.7L369.4,216.7Z" fill="#fdda9a" stroke="#fdda9a" stroke-width="0.6" fill-rule="evenodd"/>
<path d="M247.6,216.7L248.6,216.7L249.6,216.7L250.3,216.7L250.5,217.7L250.6,218.1L250.8,218.7L251.1,219.7L251.3,220.7L251.5,221.7L251.6,222.7L251.6,223.7L251.6,224.7L251.6,225.7L251.6,226.7L251.6,227.7L251.6,228.7L251.6,228.7L251.7,229.7L251.9,230.7L252.2,231.7L252.4,232.7L252.6,233.7L252.6,233.7L252.7,234.7L252.6,235.0L252.3,235.7L251.9,236.7L251.6,237.5L251.5,237.7L251.3,238.7L251.4,239.7L251.6,240.7L251.6,241.7L251.6,241.8L251.7,242.7L251.9,243.7L252.1,244.7L252.2,245.7L252.4,246.7L252.5,247.7L252.6,248.1L252.7,248.7L252.9,249.7L253.0,250.7L253.0,251.7L253.0,252.7L253.0,253.7L253.0,254.7L252.9,255.7L252.6,256.1L252.2,256.7L251.6,257.6L251.6,257.7L250.9,258.7L250.6,259.1L250.2,259.7L249.6,260.7L249.6,260.7L249.2,261.7L249.1,262.7L249.0,263.7L248.7,264.7L248.7,265.7L248.8,266.7L248.9,267.7L249.0,268.7L249.2,269.7L249.3,270.7L249.1,271.7L248.6,272.7L248.6,272.7L248.0,273.7L247.6,274.2L247.2,274.7L246.6,275.4L246.6,274.7L246.6,273.7L246.6,272.7L246.6,271.7L246.6,270.7L246.6,269.7L246.6,268.7L246.6,267.7L246.6,266.7L246.6,265.7L246.6,264.7L246.6,263.7L246.6,262.7L246.6,261.7L246.6,260.7L246.6,259.7L246.6,258.7L246.6,257.7L246.6,256.7L246.6,255.7L246.6,254.7L246.6,253.7L246.6,252.7L246.6,251.7L246.6,250.7L246.6,249.7L246.6,248.7L246.6,247.7L246.6,246.7L246.6,245.7L246.6,244.7L246.6,243.7L246.6,242.7L246.6,241.7L246.6,240.7L246.6,239.7L246.6,238.7L246.6,237.7L246.6,236.7L246.6,235.7L246.6,234.7L246.6,233.7L246.6,232.7L246.6,231.7L246.6,230.7L246.6,229.7L246.6,228.7L246.6,227.7L246.6,226.7L246.6,225.7L246.6,224.7L246.6,223.7L246.6,222.7L246.6,221.7L246.6,220.7L246.6,219.7L246.6,218.7L246.6,217.7L246.6,216.7ZM367.6,217.6L368.3,216.7L368.6,216.7L369.4,216.7L368.8,217.7L368.6,218.0L368.1,218.7L367.6,219.5L367.5,219.7L366.9,220.7L366.6,221.3L366.4,221.7L365.7,222.7L365.6,222.8L365.0,223.7L364.6,224.3L364.3,224.7L363.8,225.7L363.6,226.1L363.2,226.7L362.6,227.6L362.5,227.7L361.6,228.6L361.6,228.7L360.9,229.7L360.6,230.2L360.1,230.7L359.6,231.1L359.3,231.7L358.6,232.5L358.3,232.7L357.6,233.4L356.6,233.6L355.6,233.6L354.6,233.6L353.6,233.6L352.6,233.6L351.6,233.7L350.6,233.7L349.6,233.7L348.6,233.7L347.6,233.7L347.2,233.7L346.6,233.7L345.6,233.7L344.6,233.7L343.6,233.8L342.6,233.8L341.6,234.0L340.6,233.9L339.6,233.8L338.6,233.8L337.6,233.8L336.6,233.8L335.6,233.9L334.6,233.9L333.6,233.9L332.6,233.9L331.6,233.9L330.6,233.9L329.6,233.9L328.6,234.0L327.6,234.0L326.6,234.0L325.6,234.0L324.6,234.0L323.6,234.0L322.6,234.0L321.6,234.0L320.6,234.2L319.6,234.3L318.6,234.2L317.6,234.1L316.6,234.1L315.6,234.2L314.6,234.5L313.6,234.3L312.6,234.4L311.6,234.4L310.6,234.4L309.6,234.4L308.6,234.6L307.6,234.6L306.7,234.7L306.6,234.7L305.6,234.8L304.6,234.9L303.6,235.0L302.6,235.1L301.6,235.1L300.6,235.2L299.6,235.4L298.6,235.4L297.6,235.4L296.6,235.5L295.6,235.5L294.6,235.6L293.7,235.7L293.6,235.7L292.6,235.8L291.6,236.1L290.6,236.4L289.6,236.7L289.6,236.7L288.6,237.0L287.6,237.4L286.6,237.7L286.5,237.7L285.6,238.1L284.6,238.4L283.6,238.7L283.5,238.7L282.6,239.1L281.7,239.7L281.6,239.8L280.6,240.6L280.4,240.7L279.6,241.3L279.1,241.7L278.6,242.1L277.8,242.7L277.6,242.8L276.6,243.7L276.5,243.7L275.6,244.6L275.4,244.7L274.6,245.5L274.4,245.7L273.6,246.5L273.4,246.7L272.6,247.5L272.5,247.7L271.6,248.6L271.6,248.7L271.1,249.7L270.8,250.7L270.6,251.6L270.6,251.7L270.4,252.7L270.1,253.7L270.0,254.7L269.8,255.7L269.7,256.7L269.6,257.2L269.5,257.7L269.4,258.7L269.3,259.7L269.3,260.7L269.2,261.7L269.2,262.7L269.2,263.7L269.3,264.7L269.2,265.7L269.2,266.7L269.1,267.7L269.1,268.7L269.1,269.7L269.2,270.7L269.1,271.7L269.1,272.7L269.1,273.7L269.1,274.7L269.1,275.7L269.1,276.7L269.1,277.7L269.1,278.7L269.1,279.7L269.2,280.7L269.3,281.7L269.4,282.7L269.5,283.7L269.6,284.7L269.6,285.0L269.7,285.7L269.7,286.7L269.9,287.7L270.2,288.7L270.4,289.7L270.6,290.2L270.8,290.7L271.2,291.7L271.6,292.7L271.6,292.7L272.1,293.7L272.4,294.7L272.6,295.1L272.9,294.7L273.1,293.7L273.6,293.4L274.2,293.7L274.6,293.9L275.4,294.7L275.6,295.3L275.7,295.7L275.6,295.9L275.0,296.7L274.6,297.1L274.1,297.7L274.4,298.7L274.6,299.1L274.9,299.7L275.5,300.7L275.6,300.8L276.1,301.7L276.6,302.5L276.7,302.7L277.6,303.5L277.8,303.7L278.6,304.1L279.3,304.7L279.6,305.3L279.8,305.7L280.2,306.7L279.9,307.7L280.4,308.7L280.6,309.0L281.1,309.7L281.6,310.3L281.9,310.7L282.6,311.7L282.6,311.8L283.2,312.7L283.6,313.3L283.8,313.7L284.3,314.7L284.6,315.3L284.8,315.7L285.2,316.7L285.6,317.5L285.7,317.7L286.2,318.7L286.5,319.7L286.6,320.1L286.8,320.7L287.1,321.7L287.3,322.7L287.6,323.7L287.6,323.7L287.9,324.7L288.6,325.7L288.6,325.7L289.6,326.2L290.5,326.7L290.6,326.7L291.6,327.2L292.6,327.7L292.6,327.7L293.6,328.2L294.6,328.7L294.7,328.7L295.6,329.0L296.6,329.4L297.5,329.7L297.6,329.7L298.6,330.1L299.6,330.4L300.4,330.7L300.6,330.8L301.6,330.9L302.6,331.0L303.6,331.1L304.6,331.1L305.6,331.2L306.6,331.2L307.6,331.3L308.6,331.3L309.6,331.4L310.6,331.5L311.6,331.6L312.6,331.7L312.6,331.7L313.6,331.8L314.6,331.9L315.6,332.0L316.6,332.1L317.6,332.2L318.6,332.3L319.6,332.4L320.6,332.5L321.6,332.7L321.7,332.7L322.6,332.8L323.6,333.0L324.6,333.1L325.6,333.3L326.6,333.5L327.6,333.6L328.1,333.7L328.6,333.8L329.6,333.9L330.6,334.1L331.6,334.2L332.6,334.4L333.6,334.6L334.5,334.7L334.6,334.7L335.6,334.8L336.6,335.0L337.6,335.2L338.6,335.3L339.6,335.5L340.6,335.6L341.0,335.7L341.6,335.8L342.6,335.9L343.6,336.1L344.6,336.3L345.6,336.4L346.6,336.6L347.6,336.7L347.6,336.7L348.6,336.8L349.6,337.0L350.6,337.2L351.6,337.3L352.6,337.5L353.6,337.6L354.2,337.7L354.6,337.7L355.6,337.9L356.6,338.1L357.6,338.3L358.6,338.5L359.6,338.7L359.7,338.7L360.6,338.9L361.6,339.0L362.6,339.2L363.6,339.4L364.6,339.6L365.1,339.7L365.6,339.8L366.6,340.0L367.6,340.2L368.6,340.3L369.6,340.5L370.5,340.7L370.6,340.7L371.6,340.9L372.6,341.1L373.6,341.3L374.6,341.5L375.6,341.6L375.9,341.7L376.6,341.8L377.6,342.0L378.6,342.2L379.6,342.4L380.6,342.6L381.4,342.7L381.6,342.7L382.6,342.9L383.6,343.1L384.6,343.3L385.6,343.4L386.6,343.5L387.6,343.6L387.6,343.7L387.6,344.7L387.6,345.7L387.6,346.7L387.6,347.7L387.6,348.7L387.6,349.7L387.6,350.7L387.6,350.9L386.6,350.7L386.3,350.7L385.6,350.6L384.6,350.4L383.6,350.3L382.6,350.1L381.6,349.9L380.6,349.8L380.2,349.7L379.6,349.6L378.6,349.4L377.6,349.2L376.6,349.0L375.6,348.8L374.7,348.7L374.6,348.7L373.6,348.5L372.6,348.3L371.6,348.1L370.6,347.9L369.6,347.8L369.1,347.7L368.6,347.6L367.6,347.4L366.6,347.2L365.6,347.0L364.6,346.9L363.6,346.7L363.6,346.7L362.6,346.5L361.6,346.3L360.6,346.1L359.6,346.0L358.6,345.8L358.0,345.7L357.6,345.6L356.6,345.4L355.6,345.2L354.6,345.1L353.6,345.0L352.6,344.9L351.6,344.8L350.9,344.7L350.6,344.7L349.6,344.6L348.6,344.4L347.6,344.3L346.6,344.2L345.6,344.1L344.6,344.0L343.6,343.9L342.6,343.8L341.7,343.7L341.6,343.7L340.6,343.6L339.6,343.5L338.6,343.4L337.6,343.3L336.6,343.1L335.6,343.0L334.6,342.9L333.6,342.8L332.7,342.7L332.6,342.7L331.6,342.6L330.6,342.5L329.6,342.4L328.6,342.3L327.6,342.1L326.6,342.0L325.6,341.9L324.6,341.8L323.8,341.7L323.6,341.7L322.6,341.6L321.6,341.5L320.6,341.4L319.6,341.3L318.6,341.1L317.6,341.1L316.6,341.0L315.6,340.9L314.6,340.9L313.6,340.8L312.8,340.7L312.6,340.7L311.6,340.6L310.6,340.6L309.6,340.5L308.6,340.4L307.6,340.3L306.6,340.3L305.6,340.2L304.6,340.2L303.6,340.1L302.6,340.0L301.6,340.0L300.6,339.9L299.6,339.9L298.6,339.8L297.6,339.8L296.7,339.7L296.6,339.7L295.6,339.3L294.6,339.0L293.8,338.7L293.6,338.6L292.6,338.3L291.6,337.9L290.9,337.7L290.6,337.6L289.6,337.2L288.6,336.9L288.1,336.7L287.6,336.5L286.6,336.1L285.6,335.7L285.6,335.7L284.6,335.3L283.6,334.9L283.1,334.7L282.6,334.5L281.7,333.7L281.6,333.5L281.4,332.7L281.1,331.7L280.8,330.7L280.6,329.8L280.6,329.7L280.3,328.7L280.0,327.7L279.8,326.7L279.6,326.1L279.5,325.7L279.2,324.7L278.8,323.7L278.6,323.1L278.5,322.7L278.1,321.7L277.8,320.7L277.6,320.2L277.4,319.7L277.0,318.7L276.6,317.8L276.5,317.7L276.0,316.7L275.6,315.7L275.6,315.7L275.1,314.7L274.6,313.7L274.6,313.7L274.2,312.7L273.7,311.7L273.6,311.5L273.3,310.7L272.9,309.7L272.6,309.0L272.5,308.7L272.1,307.7L271.7,306.7L271.6,306.5L271.3,305.7L271.0,304.7L270.6,303.9L270.5,303.7L270.2,302.7L269.9,301.7L269.6,300.9L269.5,300.7L269.4,299.7L269.2,298.7L269.0,297.7L268.8,296.7L268.6,296.0L268.5,295.7L268.4,294.7L268.3,293.7L268.1,292.7L268.0,291.7L267.9,290.7L267.8,289.7L267.6,288.7L267.6,288.6L267.5,287.7L267.4,286.7L267.3,285.7L267.3,284.7L267.2,283.7L267.1,282.7L267.0,281.7L266.9,280.7L266.8,279.7L266.8,278.7L266.8,277.7L266.8,276.7L266.8,275.7L266.8,274.7L266.8,273.7L266.8,272.7L266.8,271.7L266.8,270.7L266.8,269.7L266.8,268.7L266.8,267.7L266.8,266.7L266.8,265.7L266.8,264.7L266.8,263.7L266.8,262.7L266.8,261.7L266.8,260.7L266.8,259.7L266.8,258.7L266.9,257.7L266.9,256.7L266.9,255.7L266.9,254.7L267.0,253.7L267.0,252.7L267.0,251.7L267.1,250.7L267.2,249.7L267.2,248.7L267.3,247.7L267.3,246.7L267.6,246.1L267.9,245.7L268.6,244.9L268.8,244.7L269.6,243.9L269.8,243.7L270.6,242.9L270.8,242.7L271.6,241.9L271.8,241.7L272.6,240.9L272.8,240.7L273.6,240.0L273.9,239.7L274.6,239.0L274.9,238.7L275.6,238.1L276.0,237.7L276.6,237.2L277.1,236.7L277.6,236.3L278.2,235.7L278.6,235.3L279.3,234.7L279.6,234.5L280.6,234.5L281.6,234.4L282.6,234.3L283.6,234.1L284.6,234.0L285.6,234.0L286.6,233.9L287.6,233.8L288.6,233.7L289.6,233.7L289.7,233.7L290.6,233.6L291.6,233.5L292.6,233.5L293.6,233.5L294.6,233.4L295.6,233.4L296.6,233.4L297.6,233.4L298.6,233.3L299.6,233.3L300.6,233.3L301.6,233.3L302.6,233.2L303.6,233.2L304.6,233.1L305.6,233.1L306.6,233.1L307.6,233.0L308.6,233.0L309.6,233.0L310.6,233.0L311.6,233.0L312.6,233.0L313.6,233.0L314.6,233.0L315.6,232.9L316.6,232.9L317.6,232.9L318.6,232.9L319.6,233.0L320.6,232.9L321.6,232.8L322.6,232.8L323.6,232.8L324.6,232.8L325.6,232.8L326.6,232.8L327.6,232.8L328.6,232.8L328.8,232.7L329.6,232.3L330.6,232.6L331.4,232.7L331.6,232.7L332.6,232.7L333.1,232.7L333.6,232.7L334.6,232.7L335.6,232.7L336.6,232.6L337.6,232.6L338.6,232.6L339.6,232.6L340.0,232.7L340.6,232.8L341.1,232.7L341.6,232.6L342.6,232.6L343.6,232.5L344.6,232.5L345.6,232.5L346.6,232.5L347.6,232.5L348.6,232.5L349.6,232.5L350.6,232.5L351.6,232.4L352.6,232.4L353.6,232.4L354.6,232.4L355.6,232.4L356.6,232.3L357.6,232.0L358.0,231.7L358.4,230.7L358.6,230.4L359.1,229.7L359.6,229.2L360.2,228.7L360.5,227.7L360.6,227.6L361.3,226.7L361.6,226.3L362.0,225.7L362.6,225.0L362.8,224.7L363.6,224.1L364.0,223.7L364.5,222.7L364.6,222.5L365.3,221.7L365.6,220.8L365.7,220.7L366.0,219.7L366.6,218.7L366.6,218.7L367.5,217.7Z" fill="#f7ebab" stroke="#f7ebab" stroke-width="0.6" fill-rule="evenodd"/>
<path d="M250.6,216.7L251.6,216.7L252.6,216.7L253.5,216.7L253.6,217.2L253.7,217.7L253.9,218.7L254.1,219.7L254.3,220.7L254.5,221.7L254.6,222.2L254.7,222.7L254.9,223.7L255.2,224.7L255.4,225.7L255.6,226.5L255.6,226.7L255.9,227.7L256.1,228.7L256.6,229.6L256.7,229.7L256.6,229.8L256.3,230.7L256.5,231.7L256.6,231.9L256.8,232.7L257.0,233.7L257.2,234.7L257.4,235.7L257.6,236.4L257.7,236.7L257.9,237.7L258.2,238.7L258.5,239.7L258.6,240.1L258.7,240.7L258.9,241.7L259.1,242.7L259.1,243.7L259.1,244.7L259.1,245.7L259.1,246.7L258.9,247.7L258.9,248.7L258.9,249.7L258.9,250.7L258.9,251.7L258.9,252.7L258.9,253.7L258.9,254.7L258.9,255.7L258.9,256.7L258.9,257.7L258.9,258.7L258.9,259.7L258.9,260.7L258.9,261.7L258.9,262.7L258.9,263.7L258.9,264.7L258.9,265.7L258.9,266.7L258.9,267.7L258.9,268.7L258.9,269.7L258.9,270.7L258.9,271.7L258.9,272.7L258.7,273.7L258.6,273.8L257.9,274.7L257.6,275.0L257.0,275.7L256.6,276.4L256.3,276.7L255.9,277.7L255.6,278.0L255.1,278.7L254.6,279.3L254.2,279.7L253.8,280.7L253.6,281.1L253.1,281.7L252.6,282.3L252.3,282.7L251.6,283.5L251.4,283.7L251.3,284.7L250.8,285.7L250.6,285.9L250.0,286.7L249.6,287.1L249.1,287.7L248.6,288.2L248.1,288.7L247.6,289.1L246.9,289.7L246.6,290.0L246.6,289.7L246.6,288.7L246.6,287.7L246.6,286.7L246.6,285.7L246.6,284.7L246.6,283.7L246.6,282.7L246.6,281.7L246.6,280.7L246.6,279.7L246.6,278.7L246.6,277.7L246.6,276.7L246.6,275.7L246.6,275.4L247.2,274.7L247.6,274.2L248.0,273.7L248.6,272.7L248.6,272.7L249.1,271.7L249.3,270.7L249.2,269.7L249.0,268.7L248.9,267.7L248.8,266.7L248.7,265.7L248.7,264.7L249.0,263.7L249.1,262.7L249.2,261.7L249.6,260.7L249.6,260.7L250.2,259.7L250.6,259.1L250.9,258.7L251.6,257.7L251.6,257.6L252.2,256.7L252.6,256.1L252.9,255.7L253.0,254.7L253.0,253.7L253.0,252.7L253.0,251.7L253.0,250.7L252.9,249.7L252.7,248.7L252.6,248.1L252.5,247.7L252.4,246.7L252.2,245.7L252.1,244.7L251.9,243.7L251.7,242.7L251.6,241.8L251.6,241.7L251.6,240.7L251.4,239.7L251.3,238.7L251.5,237.7L251.6,237.5L251.9,236.7L252.3,235.7L252.6,235.0L252.7,234.7L252.6,233.7L252.6,233.7L252.4,232.7L252.2,231.7L251.9,230.7L251.7,229.7L251.6,228.7L251.6,228.7L251.6,227.7L251.6,226.7L251.6,225.7L251.6,224.7L251.6,223.7L251.6,222.7L251.5,221.7L251.3,220.7L251.1,219.7L250.8,218.7L250.6,218.1L250.5,217.7L250.3,216.7ZM366.6,217.1L367.0,216.7L367.6,216.7L368.3,216.7L367.6,217.6L367.5,217.7L366.6,218.7L366.6,218.7L366.0,219.7L365.7,220.7L365.6,220.8L365.3,221.7L364.6,222.5L364.5,222.7L364.0,223.7L363.6,224.1L362.8,224.7L362.6,225.0L362.0,225.7L361.6,226.3L361.3,226.7L360.6,227.6L360.5,227.7L360.2,228.7L359.6,229.2L359.1,229.7L358.6,230.4L358.4,230.7L358.0,231.7L357.6,232.0L356.6,232.3L355.6,232.4L354.6,232.4L353.6,232.4L352.6,232.4L351.6,232.4L350.6,232.5L349.6,232.5L348.6,232.5L347.6,232.5L346.6,232.5L345.6,232.5L344.6,232.5L343.6,232.5L342.6,232.6L341.6,232.6L341.1,232.7L340.6,232.8L340.0,232.7L339.6,232.6L338.6,232.6L337.6,232.6L336.6,232.6L335.6,232.7L334.6,232.7L333.6,232.7L333.1,232.7L332.6,232.7L331.6,232.7L331.4,232.7L330.6,232.6L329.6,232.3L328.8,232.7L328.6,232.8L327.6,232.8L326.6,232.8L325.6,232.8L324.6,232.8L323.6,232.8L322.6,232.8L321.6,232.8L320.6,232.9L319.6,233.0L318.6,232.9L317.6,232.9L316.6,232.9L315.6,232.9L314.6,233.0L313.6,233.0L312.6,233.0L311.6,233.0L310.6,233.0L309.6,233.0L308.6,233.0L307.6,233.0L306.6,233.1L305.6,233.1L304.6,233.1L303.6,233.2L302.6,233.2L301.6,233.3L300.6,233.3L299.6,233.3L298.6,233.3L297.6,233.4L296.6,233.4L295.6,233.4L294.6,233.4L293.6,233.5L292.6,233.5L291.6,233.5L290.6,233.6L289.7,233.7L289.6,233.7L288.6,233.7L287.6,233.8L286.6,233.9L285.6,234.0L284.6,234.0L283.6,234.1L282.6,234.3L281.6,234.4L280.6,234.5L279.6,234.5L279.3,234.7L278.6,235.3L278.2,235.7L277.6,236.3L277.1,236.7L276.6,237.2L276.0,237.7L275.6,238.1L274.9,238.7L274.6,239.0L273.9,239.7L273.6,240.0L272.8,240.7L272.6,240.9L271.8,241.7L271.6,241.9L270.8,242.7L270.6,242.9L269.8,243.7L269.6,243.9L268.8,244.7L268.6,244.9L267.9,245.7L267.6,246.1L267.3,246.7L267.3,247.7L267.2,248.7L267.2,249.7L267.1,250.7L267.0,251.7L267.0,252.7L267.0,253.7L266.9,254.7L266.9,255.7L266.9,256.7L266.9,257.7L266.8,258.7L266.8,259.7L266.8,260.7L266.8,261.7L266.8,262.7L266.8,263.7L266.8,264.7L266.8,265.7L266.8,266.7L266.8,267.7L266.8,268.7L266.8,269.7L266.8,270.7L266.8,271.7L266.8,272.7L266.8,273.7L266.8,274.7L266.8,275.7L266.8,276.7L266.8,277.7L266.8,278.7L266.8,279.7L266.9,280.7L267.0,281.7L267.1,282.7L267.2,283.7L267.3,284.7L267.3,285.7L267.4,286.7L267.5,287.7L267.6,288.6L267.6,288.7L267.8,289.7L267.9,290.7L268.0,291.7L268.1,292.7L268.3,293.7L268.4,294.7L268.5,295.7L268.6,296.0L268.8,296.7L269.0,297.7L269.2,298.7L269.4,299.7L269.5,300.7L269.6,300.9L269.9,301.7L270.2,302.7L270.5,303.7L270.6,303.9L271.0,304.7L271.3,305.7L271.6,306.5L271.7,306.7L272.1,307.7L272.5,308.7L272.6,309.0L272.9,309.7L273.3,310.7L273.6,311.5L273.7,311.7L274.2,312.7L274.6,313.7L274.6,313.7L275.1,314.7L275.6,315.7L275.6,315.7L276.0,316.7L276.5,317.7L276.6,317.8L277.0,318.7L277.4,319.7L277.6,320.2L277.8,320.7L278.1,321.7L278.5,322.7L278.6,323.1L278.8,323.7L279.2,324.7L279.5,325.7L279.6,326.1L279.8,326.7L280.0,327.7L280.3,328.7L280.6,329.7L280.6,329.8L280.8,330.7L281.1,331.7L281.4,332.7L281.6,333.5L281.7,333.7L282.6,334.5L283.1,334.7L283.6,334.9L284.6,335.3L285.6,335.7L285.6,335.7L286.6,336.1L287.6,336.5L288.1,336.7L288.6,336.9L289.6,337.2L290.6,337.6L290.9,337.7L291.6,337.9L292.6,338.3L293.6,338.6L293.8,338.7L294.6,339.0L295.6,339.3L296.6,339.7L296.7,339.7L297.6,339.8L298.6,339.8L299.6,339.9L300.6,339.9L301.6,340.0L302.6,340.0L303.6,340.1L304.6,340.2L305.6,340.2L306.6,340.3L307.6,340.3L308.6,340.4L309.6,340.5L310.6,340.6L311.6,340.6L312.6,340.7L312.8,340.7L313.6,340.8L314.6,340.9L315.6,340.9L316.6,341.0L317.6,341.1L318.6,341.1L319.6,341.3L320.6,341.4L321.6,341.5L322.6,341.6L323.6,341.7L323.8,341.7L324.6,341.8L325.6,341.9L326.6,342.0L327.6,342.1L328.6,342.3L329.6,342.4L330.6,342.5L331.6,342.6L332.6,342.7L332.7,342.7L333.6,342.8L334.6,342.9L335.6,343.0L336.6,343.1L337.6,343.3L338.6,343.4L339.6,343.5L340.6,343.6L341.6,343.7L341.7,343.7L342.6,343.8L343.6,343.9L344.6,344.0L345.6,344.1L346.6,344.2L347.6,344.3L348.6,344.4L349.6,344.6L350.6,344.7L350.9,344.7L351.6,344.8L352.6,344.9L353.6,345.0L354.6,345.1L355.6,345.2L356.6,345.4L357.6,345.6L358.0,345.7L358.6,345.8L359.6,346.0L360.6,346.1L361.6,346.3L362.6,346.5L363.6,346.7L363.6,346.7L364.6,346.9L365.6,347.0L366.6,347.2L367.6,347.4L368.6,347.6L369.1,347.7L369.6,347.8L370.6,347.9L371.6,348.1L372.6,348.3L373.6,348.5L374.6,348.7L374.7,348.7L375.6,348.8L376.6,349.0L377.6,349.2L378.6,349.4L379.6,349.6L380.2,349.7L380.6,349.8L381.6,349.9L382.6,350.1L383.6,350.3L384.6,350.4L385.6,350.6L386.3,350.7L386.6,350.7L387.6,350.9L387.6,351.7L387.6,352.7L387.6,353.7L387.6,354.7L387.6,355.7L387.6,356.3L386.6,356.1L385.6,355.9L384.6,355.8L384.2,355.7L383.6,355.6L382.6,355.5L381.6,355.3L380.6,355.2L379.6,355.0L378.6,354.9L377.6,354.7L377.4,354.7L376.6,354.6L375.6,354.4L374.6,354.2L373.6,354.0L372.6,353.9L371.6,353.7L371.6,353.7L370.6,353.5L369.6,353.3L368.6,353.2L367.6,353.0L366.6,352.8L365.9,352.7L365.6,352.6L364.6,352.5L363.6,352.3L362.6,352.1L361.6,352.0L360.6,351.9L359.6,351.8L359.0,351.7L358.6,351.7L357.6,351.6L356.6,351.5L355.6,351.3L354.6,351.2L353.6,351.1L352.6,350.9L351.6,350.7L351.4,350.7L350.6,350.6L349.6,350.6L348.6,350.5L347.6,350.4L346.6,350.4L345.6,350.3L344.6,350.3L343.6,350.2L342.6,350.1L341.6,350.1L340.6,350.0L339.6,350.0L338.6,349.9L337.6,349.9L336.6,349.8L335.6,349.7L334.9,349.7L334.6,349.7L333.6,349.6L332.6,349.6L331.6,349.5L330.6,349.4L329.6,349.4L328.6,349.3L327.6,349.3L326.6,349.2L325.6,349.2L324.6,349.1L323.6,349.1L322.6,349.0L321.6,349.0L320.6,349.0L319.6,348.9L318.6,348.9L317.6,348.8L316.6,348.8L315.6,348.7L315.1,348.7L314.6,348.7L313.6,348.6L312.6,348.6L311.6,348.5L310.6,348.4L309.6,348.4L308.6,348.3L307.6,348.1L306.6,347.8L305.6,347.7L305.5,347.7L304.6,347.6L303.6,347.6L302.6,347.5L301.6,347.5L300.6,347.4L299.6,347.4L298.6,347.3L297.6,347.2L296.6,347.2L295.6,347.2L294.6,347.2L293.6,347.2L292.6,347.2L291.6,347.0L291.3,346.7L290.6,346.1L289.8,345.7L289.6,345.6L288.6,345.3L287.6,344.9L287.0,344.7L286.6,344.6L285.6,344.2L284.6,343.9L284.1,343.7L283.6,343.5L282.6,343.2L281.6,342.8L281.3,342.7L280.6,342.5L279.6,342.1L278.6,341.8L278.5,341.7L277.6,341.3L276.6,340.8L276.4,340.7L275.7,339.7L276.0,338.7L275.9,337.7L275.6,336.8L275.6,336.7L275.3,335.7L275.0,334.7L274.8,333.7L274.6,333.1L274.5,332.7L274.2,331.7L273.9,330.7L273.7,329.7L273.6,329.4L273.4,328.7L272.9,327.7L272.6,326.7L272.6,326.7L272.3,325.7L272.1,324.7L271.8,323.7L271.6,323.0L271.5,322.7L271.2,321.7L271.0,320.7L270.7,319.7L270.6,318.7L271.6,317.8L271.7,317.7L271.6,317.5L271.4,316.7L271.2,315.7L271.1,314.7L270.7,313.7L270.6,313.5L270.2,312.7L269.6,311.7L269.6,311.7L268.7,310.7L268.7,309.7L268.6,308.9L268.6,308.7L268.3,307.7L268.0,306.7L267.8,305.7L267.6,305.1L267.5,304.7L267.2,303.7L266.9,302.7L267.0,301.7L267.0,300.7L266.9,299.7L266.9,298.7L266.8,297.7L266.7,296.7L266.6,295.8L266.6,295.7L266.5,294.7L266.4,293.7L266.4,292.7L266.3,291.7L266.2,290.7L266.1,289.7L266.1,288.7L266.0,287.7L265.9,286.7L265.8,285.7L265.8,284.7L265.7,283.7L265.6,282.7L265.6,282.6L265.5,281.7L265.5,280.7L265.4,279.7L265.4,278.7L265.4,277.7L265.4,276.7L265.4,275.7L265.4,274.7L265.4,273.7L265.4,272.7L265.4,271.7L265.4,270.7L265.4,269.7L265.4,268.7L265.4,267.7L265.4,266.7L265.4,265.7L265.4,264.7L265.4,263.7L265.4,262.7L265.4,261.7L265.4,260.7L265.4,259.7L265.4,258.7L265.4,257.7L265.4,256.7L265.4,255.7L265.4,254.7L265.4,253.7L265.4,252.7L265.4,251.7L265.4,250.7L265.4,249.7L265.4,248.7L265.3,247.7L265.3,246.7L265.3,245.7L265.4,244.7L265.6,244.1L266.0,243.7L266.6,243.1L267.0,242.7L267.6,242.1L267.9,241.7L268.3,240.7L268.6,240.4L269.3,239.7L269.6,239.4L270.3,238.7L270.6,238.4L271.6,237.7L271.6,237.7L272.6,236.8L272.7,236.7L273.6,235.8L273.7,235.7L274.6,234.8L274.7,234.7L275.6,233.8L275.7,233.7L276.6,232.8L276.7,232.7L277.6,232.0L278.3,231.7L278.6,231.6L279.6,231.6L280.6,231.6L281.6,231.6L282.6,231.6L283.6,231.6L284.6,231.6L285.6,231.5L286.6,231.5L287.6,231.5L288.6,231.5L289.6,231.5L290.6,231.5L291.6,231.5L292.6,231.5L293.6,231.5L294.6,231.5L295.6,231.5L296.6,231.5L297.6,231.5L298.6,231.4L299.6,231.4L300.6,231.4L301.6,231.4L302.6,231.4L303.6,231.4L304.6,231.4L305.6,231.4L306.6,231.4L307.6,231.4L308.6,231.4L309.6,231.4L310.6,231.3L311.6,231.3L312.6,231.3L313.6,231.3L314.6,231.3L315.6,231.3L316.6,231.3L317.6,231.3L318.6,231.3L319.6,231.3L320.6,231.3L321.6,231.3L322.6,231.3L323.6,231.2L324.6,231.3L325.6,231.3L326.6,231.3L327.6,231.3L328.6,231.2L329.6,230.7L329.6,230.7L329.7,230.7L330.6,230.8L331.6,231.2L332.6,231.2L333.6,231.2L334.6,231.2L335.6,231.2L336.6,231.1L337.6,231.1L338.6,231.1L339.6,231.1L340.6,231.1L341.6,231.1L342.6,231.1L343.6,231.1L344.6,231.1L345.6,231.1L346.6,231.1L347.6,231.1L348.6,231.1L349.6,231.0L350.6,231.0L351.6,231.0L352.6,231.0L353.6,230.9L354.6,230.9L355.6,230.9L356.6,230.9L356.8,230.7L357.6,230.2L357.9,229.7L358.4,228.7L358.6,228.4L359.3,227.7L359.6,227.2L359.8,226.7L360.6,225.8L360.7,225.7L361.5,224.7L361.6,224.6L362.6,223.8L362.7,223.7L363.6,223.2L363.9,222.7L364.6,221.7L364.6,221.5L364.8,220.7L364.8,219.7L365.1,218.7L365.6,218.1L366.0,217.7Z" fill="#dcedb0" stroke="#dcedb0" stroke-width="0.6" fill-rule="evenodd"/>
<path d="M253.6,216.7L254.6,216.7L255.3,216.7L255.4,217.7L255.5,218.7L255.6,219.4L255.6,219.7L255.8,220.7L256.0,221.7L256.2,222.7L256.4,223.7L256.6,224.3L256.8,224.7L257.0,225.7L257.3,226.7L257.5,227.7L257.6,227.9L258.4,228.7L258.6,228.9L259.3,229.7L258.6,230.6L258.5,230.7L257.8,231.7L257.9,232.7L258.1,233.7L258.4,234.7L258.6,235.7L258.6,235.8L258.8,236.7L259.2,237.7L259.6,238.5L259.7,238.7L260.1,239.7L260.3,240.7L260.5,241.7L260.5,242.7L260.5,243.7L260.5,244.7L260.4,245.7L260.1,246.7L259.6,247.7L259.6,248.7L259.6,249.7L259.6,250.7L259.6,251.7L259.6,252.7L259.6,253.7L259.6,254.7L259.6,255.7L259.6,256.7L259.6,257.7L259.6,258.7L259.6,259.7L259.6,260.7L259.6,261.7L259.6,262.7L259.6,263.7L259.6,264.7L259.6,265.7L259.6,266.7L259.6,267.7L259.6,268.7L259.6,269.7L259.6,270.7L259.6,271.7L259.6,272.7L259.6,273.7L259.6,274.2L259.5,274.7L258.7,275.7L258.6,276.0L258.2,276.7L258.2,277.7L258.0,278.7L257.6,279.2L257.2,279.7L256.8,280.7L256.8,281.7L256.6,282.4L256.5,282.7L255.7,283.7L255.6,284.0L255.5,284.7L255.5,285.7L255.5,286.7L255.4,287.7L255.1,288.7L254.6,289.3L254.2,289.7L253.6,290.3L253.1,290.7L252.6,291.2L252.0,291.7L251.6,292.0L250.8,292.7L250.6,292.9L249.8,293.7L249.8,294.7L249.8,295.7L249.6,296.0L248.7,296.7L248.6,296.8L247.6,297.5L247.3,297.7L246.6,298.2L246.6,297.7L246.6,296.7L246.6,295.7L246.6,294.7L246.6,293.7L246.6,292.7L246.6,291.7L246.6,290.7L246.6,290.0L246.9,289.7L247.6,289.1L248.1,288.7L248.6,288.2L249.1,287.7L249.6,287.1L250.0,286.7L250.6,285.9L250.8,285.7L251.3,284.7L251.4,283.7L251.6,283.5L252.3,282.7L252.6,282.3L253.1,281.7L253.6,281.1L253.8,280.7L254.2,279.7L254.6,279.3L255.1,278.7L255.6,278.0L255.9,277.7L256.3,276.7L256.6,276.4L257.0,275.7L257.6,275.0L257.9,274.7L258.6,273.8L258.7,273.7L258.9,272.7L258.9,271.7L258.9,270.7L258.9,269.7L258.9,268.7L258.9,267.7L258.9,266.7L258.9,265.7L258.9,264.7L258.9,263.7L258.9,262.7L258.9,261.7L258.9,260.7L258.9,259.7L258.9,258.7L258.9,257.7L258.9,256.7L258.9,255.7L258.9,254.7L258.9,253.7L258.9,252.7L258.9,251.7L258.9,250.7L258.9,249.7L258.9,248.7L258.9,247.7L259.1,246.7L259.1,245.7L259.1,244.7L259.1,243.7L259.1,242.7L258.9,241.7L258.7,240.7L258.6,240.1L258.5,239.7L258.2,238.7L257.9,237.7L257.7,236.7L257.6,236.4L257.4,235.7L257.2,234.7L257.0,233.7L256.8,232.7L256.6,231.9L256.5,231.7L256.3,230.7L256.6,229.8L256.7,229.7L256.6,229.6L256.1,228.7L255.9,227.7L255.6,226.7L255.6,226.5L255.4,225.7L255.2,224.7L254.9,223.7L254.7,222.7L254.6,222.2L254.5,221.7L254.3,220.7L254.1,219.7L253.9,218.7L253.7,217.7L253.6,217.2L253.5,216.7ZM364.6,217.4L365.4,216.7L365.6,216.7L366.6,216.7L367.0,216.7L366.6,217.1L366.0,217.7L365.6,218.1L365.1,218.7L364.8,219.7L364.8,220.7L364.6,221.5L364.6,221.7L363.9,222.7L363.6,223.2L362.7,223.7L362.6,223.8L361.6,224.6L361.5,224.7L360.7,225.7L360.6,225.8L359.8,226.7L359.6,227.2L359.3,227.7L358.6,228.4L358.4,228.7L357.9,229.7L357.6,230.2L356.8,230.7L356.6,230.9L355.6,230.9L354.6,230.9L353.6,230.9L352.6,231.0L351.6,231.0L350.6,231.0L349.6,231.0L348.6,231.1L347.6,231.1L346.6,231.1L345.6,231.1L344.6,231.1L343.6,231.1L342.6,231.1L341.6,231.1L340.6,231.1L339.6,231.1L338.6,231.1L337.6,231.1L336.6,231.1L335.6,231.2L334.6,231.2L333.6,231.2L332.6,231.2L331.6,231.2L330.6,230.8L329.7,230.7L329.6,230.7L329.6,230.7L328.6,231.2L327.6,231.3L326.6,231.3L325.6,231.3L324.6,231.3L323.6,231.2L322.6,231.3L321.6,231.3L320.6,231.3L319.6,231.3L318.6,231.3L317.6,231.3L316.6,231.3L315.6,231.3L314.6,231.3L313.6,231.3L312.6,231.3L311.6,231.3L310.6,231.3L309.6,231.4L308.6,231.4L307.6,231.4L306.6,231.4L305.6,231.4L304.6,231.4L303.6,231.4L302.6,231.4L301.6,231.4L300.6,231.4L299.6,231.4L298.6,231.4L297.6,231.5L296.6,231.5L295.6,231.5L294.6,231.5L293.6,231.5L292.6,231.5L291.6,231.5L290.6,231.5L289.6,231.5L288.6,231.5L287.6,231.5L286.6,231.5L285.6,231.5L284.6,231.6L283.6,231.6L282.6,231.6L281.6,231.6L280.6,231.6L279.6,231.6L278.6,231.6L278.3,231.7L277.6,232.0L276.7,232.7L276.6,232.8L275.7,233.7L275.6,233.8L274.7,234.7L274.6,234.8L273.7,235.7L273.6,235.8L272.7,236.7L272.6,236.8L271.6,237.7L271.6,237.7L270.6,238.4L270.3,238.7L269.6,239.4L269.3,239.7L268.6,240.4L268.3,240.7L267.9,241.7L267.6,242.1L267.0,242.7L266.6,243.1L266.0,243.7L265.6,244.1L265.4,244.7L265.3,245.7L265.3,246.7L265.3,247.7L265.4,248.7L265.4,249.7L265.4,250.7L265.4,251.7L265.4,252.7L265.4,253.7L265.4,254.7L265.4,255.7L265.4,256.7L265.4,257.7L265.4,258.7L265.4,259.7L265.4,260.7L265.4,261.7L265.4,262.7L265.4,263.7L265.4,264.7L265.4,265.7L265.4,266.7L265.4,267.7L265.4,268.7L265.4,269.7L265.4,270.7L265.4,271.7L265.4,272.7L265.4,273.7L265.4,274.7L265.4,275.7L265.4,276.7L265.4,277.7L265.4,278.7L265.4,279.7L265.5,280.7L265.5,281.7L265.6,282.6L265.6,282.7L265.7,283.7L265.8,284.7L265.8,285.7L265.9,286.7L266.0,287.7L266.1,288.7L266.1,289.7L266.2,290.7L266.3,291.7L266.4,292.7L266.4,293.7L266.5,294.7L266.6,295.7L266.6,295.8L266.7,296.7L266.8,297.7L266.9,298.7L266.9,299.7L267.0,300.7L267.0,301.7L266.9,302.7L267.2,303.7L267.5,304.7L267.6,305.1L267.8,305.7L268.0,306.7L268.3,307.7L268.6,308.7L268.6,308.9L268.7,309.7L268.7,310.7L269.6,311.7L269.6,311.7L270.2,312.7L270.6,313.5L270.7,313.7L271.1,314.7L271.2,315.7L271.4,316.7L271.6,317.5L271.7,317.7L271.6,317.8L270.6,318.7L270.7,319.7L271.0,320.7L271.2,321.7L271.5,322.7L271.6,323.0L271.8,323.7L272.1,324.7L272.3,325.7L272.6,326.7L272.6,326.7L272.9,327.7L273.4,328.7L273.6,329.4L273.7,329.7L273.9,330.7L274.2,331.7L274.5,332.7L274.6,333.1L274.8,333.7L275.0,334.7L275.3,335.7L275.6,336.7L275.6,336.8L275.9,337.7L276.0,338.7L275.7,339.7L276.4,340.7L276.6,340.8L277.6,341.3L278.5,341.7L278.6,341.8L279.6,342.1L280.6,342.5L281.3,342.7L281.6,342.8L282.6,343.2L283.6,343.5L284.1,343.7L284.6,343.9L285.6,344.2L286.6,344.6L287.0,344.7L287.6,344.9L288.6,345.3L289.6,345.6L289.8,345.7L290.6,346.1L291.3,346.7L291.6,347.0L292.6,347.2L293.6,347.2L294.6,347.2L295.6,347.2L296.6,347.2L297.6,347.2L298.6,347.3L299.6,347.4L300.6,347.4L301.6,347.5L302.6,347.5L303.6,347.6L304.6,347.6L305.5,347.7L305.6,347.7L306.6,347.8L307.6,348.1L308.6,348.3L309.6,348.4L310.6,348.4L311.6,348.5L312.6,348.6L313.6,348.6L314.6,348.7L315.1,348.7L315.6,348.7L316.6,348.8L317.6,348.8L318.6,348.9L319.6,348.9L320.6,349.0L321.6,349.0L322.6,349.0L323.6,349.1L324.6,349.1L325.6,349.2L326.6,349.2L327.6,349.3L328.6,349.3L329.6,349.4L330.6,349.4L331.6,349.5L332.6,349.6L333.6,349.6L334.6,349.7L334.9,349.7L335.6,349.7L336.6,349.8L337.6,349.9L338.6,349.9L339.6,350.0L340.6,350.0L341.6,350.1L342.6,350.1L343.6,350.2L344.6,350.3L345.6,350.3L346.6,350.4L347.6,350.4L348.6,350.5L349.6,350.6L350.6,350.6L351.4,350.7L351.6,350.7L352.6,350.9L353.6,351.1L354.6,351.2L355.6,351.3L356.6,351.5L357.6,351.6L358.6,351.7L359.0,351.7L359.6,351.8L360.6,351.9L361.6,352.0L362.6,352.1L363.6,352.3L364.6,352.5L365.6,352.6L365.9,352.7L366.6,352.8L367.6,353.0L368.6,353.2L369.6,353.3L370.6,353.5L371.6,353.7L371.6,353.7L372.6,353.9L373.6,354.0L374.6,354.2L375.6,354.4L376.6,354.6L377.4,354.7L377.6,354.7L378.6,354.9L379.6,355.0L380.6,355.2L381.6,355.3L382.6,355.5L383.6,355.6L384.2,355.7L384.6,355.8L385.6,355.9L386.6,356.1L387.6,356.3L387.6,356.7L387.6,357.7L386.6,357.7L385.6,357.7L384.6,357.7L383.6,357.7L382.6,357.7L381.6,357.7L380.6,357.7L379.6,357.7L378.6,357.7L377.6,357.7L376.6,357.7L375.6,357.7L374.6,357.7L373.6,357.7L372.6,357.7L371.6,357.7L370.6,357.7L369.6,357.7L368.6,357.7L367.6,357.7L366.6,357.7L365.6,357.7L364.6,357.7L363.6,357.7L362.6,357.7L361.6,357.7L360.6,357.7L359.6,357.7L358.7,357.7L358.6,357.7L357.6,357.6L356.6,357.5L355.6,357.4L354.6,357.3L353.6,357.2L352.6,357.1L351.6,357.0L350.6,356.9L349.6,356.7L349.1,356.7L348.6,356.6L347.6,356.5L346.6,356.4L345.6,356.3L344.6,356.2L343.6,356.1L342.6,356.0L341.6,355.9L340.6,355.9L339.6,355.8L338.6,355.7L337.8,355.7L337.6,355.7L336.6,355.6L335.6,355.6L334.6,355.5L333.6,355.5L332.6,355.5L331.6,355.4L330.6,355.4L329.6,355.3L328.6,355.3L327.6,355.3L326.6,355.2L325.6,355.2L324.6,355.1L323.6,355.1L322.6,355.1L321.6,355.0L320.6,355.0L319.6,354.9L318.6,354.9L317.6,354.9L316.6,354.8L315.6,354.8L314.6,354.8L313.6,354.7L313.2,354.7L312.6,354.7L311.6,354.6L310.6,354.6L309.6,354.6L308.6,354.5L307.6,354.5L306.6,354.4L305.6,354.4L304.6,354.3L303.6,354.2L302.6,353.9L302.1,353.7L301.6,353.5L300.6,353.0L299.6,352.7L299.2,352.7L298.6,352.7L297.6,352.6L296.6,352.6L295.6,352.7L294.6,352.7L294.1,352.7L293.6,352.7L292.6,352.7L291.6,352.8L290.6,352.8L289.6,352.8L288.6,352.9L287.6,352.9L286.6,352.9L285.6,352.8L285.5,352.7L284.9,351.7L284.6,351.1L284.3,350.7L283.8,349.7L283.6,349.4L282.9,348.7L282.6,348.6L281.6,348.3L280.6,347.9L280.0,347.7L279.6,347.6L278.6,347.1L277.9,346.7L277.6,346.6L276.6,346.0L275.9,345.7L275.6,345.5L274.6,345.0L273.9,344.7L273.6,344.5L272.6,344.0L272.0,343.7L271.6,343.5L270.6,343.0L270.0,342.7L269.6,341.7L269.9,340.7L270.3,339.7L270.6,338.7L270.6,338.6L270.9,337.7L271.2,336.7L271.1,335.7L270.8,334.7L270.6,333.9L270.5,333.7L270.2,332.7L269.8,331.7L269.6,331.2L269.3,330.7L268.8,329.7L268.6,329.2L268.3,328.7L268.0,327.7L267.8,326.7L267.6,326.1L267.5,325.7L267.2,324.7L266.9,323.7L266.6,322.7L266.6,322.6L266.3,321.7L266.1,320.7L265.8,319.7L266.6,318.7L266.6,318.7L267.6,317.8L267.7,317.7L268.6,316.9L268.8,316.7L269.6,316.0L269.8,315.7L269.6,314.7L269.6,314.7L269.5,314.7L268.6,315.1L267.6,315.5L267.0,315.7L266.6,315.8L265.6,316.2L265.0,315.7L265.0,314.7L265.1,313.7L265.2,312.7L265.2,311.7L265.3,310.7L265.4,309.7L265.5,308.7L265.5,307.7L265.4,306.7L265.1,305.7L264.8,304.7L264.6,303.8L264.6,303.7L264.6,303.4L264.7,302.7L264.8,301.7L265.0,300.7L265.1,299.7L265.2,298.7L265.1,297.7L265.0,296.7L264.9,295.7L264.8,294.7L264.8,293.7L264.8,292.7L264.7,291.7L264.7,290.7L264.6,289.7L264.6,288.7L264.6,288.2L264.6,287.7L264.5,286.7L264.4,285.7L264.4,284.7L264.4,283.7L264.3,282.7L264.2,281.7L264.2,280.7L264.2,279.7L264.2,278.7L264.2,277.7L264.2,276.7L264.2,275.7L264.2,274.7L264.2,273.7L264.2,272.7L264.2,271.7L264.2,270.7L264.2,269.7L264.2,268.7L264.2,267.7L264.2,266.7L264.2,265.7L264.2,264.7L264.2,263.7L264.2,262.7L264.2,261.7L264.2,260.7L264.2,259.7L264.2,258.7L264.2,257.7L264.2,256.7L264.2,255.7L264.2,254.7L264.2,253.7L264.2,252.7L264.2,251.7L264.2,250.7L264.2,249.7L264.2,248.7L264.2,247.7L264.2,246.7L264.2,245.7L264.2,244.7L264.2,243.7L264.3,242.7L264.6,242.2L265.1,241.7L265.6,240.9L265.7,240.7L265.6,240.4L265.4,239.7L265.4,238.7L265.6,238.5L266.5,237.7L266.6,237.7L267.6,236.9L267.9,236.7L268.6,236.1L269.2,235.7L269.6,235.4L270.5,234.7L270.6,234.6L271.6,233.9L271.8,233.7L272.6,233.0L272.9,232.7L273.6,232.0L273.9,231.7L274.6,231.1L275.0,230.7L275.6,230.3L276.6,229.8L276.7,229.7L277.6,229.3L278.6,228.8L279.6,228.8L280.6,228.8L281.6,228.8L282.6,228.8L283.6,228.8L284.6,228.9L285.6,228.9L286.6,228.9L287.6,228.9L288.6,228.8L289.6,228.8L290.6,228.8L291.6,228.8L292.6,228.9L293.6,228.9L294.6,228.8L295.6,228.8L296.6,228.8L297.6,228.7L298.6,228.7L299.6,228.7L300.6,228.7L300.9,228.7L301.6,228.7L302.6,228.7L303.6,228.7L304.6,228.7L305.6,228.7L306.6,228.7L307.6,228.7L308.6,228.7L309.6,228.7L310.6,228.7L311.6,228.7L312.6,228.7L313.6,228.6L314.6,228.6L315.6,228.6L316.6,228.6L317.6,228.6L318.6,228.6L319.6,228.6L320.6,228.6L321.6,228.6L322.6,228.6L323.6,228.6L324.6,228.6L325.6,228.7L326.0,228.7L326.6,228.7L327.6,228.7L328.6,228.7L329.6,228.7L330.6,228.7L331.6,228.7L332.2,228.7L332.6,228.7L333.6,228.7L334.6,228.6L335.6,228.6L336.6,228.5L337.6,228.5L338.6,228.5L339.6,228.5L340.6,228.5L341.6,228.5L342.6,228.5L343.6,228.5L344.6,228.5L345.6,228.5L346.6,228.5L347.6,228.5L348.6,228.5L349.6,228.5L350.6,228.5L351.6,228.4L352.6,228.4L353.6,228.3L354.6,228.2L355.6,228.1L356.6,228.0L357.6,228.0L357.7,227.7L358.6,226.7L358.6,226.7L359.2,225.7L359.6,225.2L360.0,224.7L360.6,223.7L360.6,223.7L361.6,222.8L361.9,222.7L362.6,222.5L363.6,222.2L363.9,221.7L364.0,220.7L364.0,219.7L364.0,218.7L364.4,217.7Z" fill="#abdaa8" stroke="#abdaa8" stroke-width="0.6" fill-rule="evenodd"/>
<path d="M255.6,216.7L256.6,216.7L256.8,216.7L256.9,217.7L257.0,218.7L257.1,219.7L257.3,220.7L257.5,221.7L257.6,222.3L257.7,222.7L258.0,223.7L258.4,224.7L258.6,225.4L258.7,225.7L259.0,226.7L259.6,227.4L260.1,227.7L260.6,228.1L261.4,228.7L261.6,229.3L261.7,229.7L261.6,229.9L261.0,230.7L260.6,231.3L260.3,231.7L259.6,232.7L259.6,232.7L259.3,233.7L259.5,234.7L259.6,235.1L259.7,235.7L260.1,236.7L260.6,237.7L260.6,237.7L261.1,238.7L261.6,239.6L261.7,239.7L261.9,240.7L261.9,241.7L261.9,242.7L261.9,243.7L261.9,244.7L261.6,245.1L261.3,245.7L261.1,246.7L260.6,247.4L260.5,247.7L260.4,248.7L260.4,249.7L260.4,250.7L260.4,251.7L260.4,252.7L260.4,253.7L260.4,254.7L260.4,255.7L260.4,256.7L260.4,257.7L260.4,258.7L260.4,259.7L260.4,260.7L260.4,261.7L260.4,262.7L260.4,263.7L260.4,264.7L260.4,265.7L260.4,266.7L260.4,267.7L260.4,268.7L260.4,269.7L260.4,270.7L260.4,271.7L260.4,272.7L260.4,273.7L260.4,274.7L260.3,275.7L260.2,276.7L260.2,277.7L260.2,278.7L260.1,279.7L259.9,280.7L259.9,281.7L259.9,282.7L259.8,283.7L259.6,284.7L259.6,285.7L259.6,286.7L259.6,287.7L259.6,288.7L259.6,289.7L259.6,290.7L259.6,290.9L259.3,291.7L258.7,292.7L258.7,293.7L258.7,294.7L258.7,295.7L258.7,296.7L258.7,297.7L258.7,298.7L259.1,299.7L259.5,300.7L259.6,301.1L259.8,301.7L260.2,302.7L260.4,303.7L259.6,304.6L259.5,304.7L258.6,305.4L258.2,305.7L257.6,306.2L257.0,306.7L256.6,307.1L255.8,307.7L255.6,307.9L254.6,308.7L254.6,308.7L253.6,309.5L253.4,309.7L252.6,310.4L252.2,310.7L251.6,311.0L251.3,310.7L250.6,310.4L249.8,309.7L249.6,309.5L248.7,308.7L248.6,308.6L247.6,307.7L247.6,307.7L246.6,306.8L246.6,306.7L246.6,305.7L246.6,304.7L246.6,303.7L246.6,302.7L246.6,301.7L246.6,300.7L246.6,299.7L246.6,298.7L246.6,298.2L247.3,297.7L247.6,297.5L248.6,296.8L248.7,296.7L249.6,296.0L249.8,295.7L249.8,294.7L249.8,293.7L250.6,292.9L250.8,292.7L251.6,292.0L252.0,291.7L252.6,291.2L253.1,290.7L253.6,290.3L254.2,289.7L254.6,289.3L255.1,288.7L255.4,287.7L255.5,286.7L255.5,285.7L255.5,284.7L255.6,284.0L255.7,283.7L256.5,282.7L256.6,282.4L256.8,281.7L256.8,280.7L257.2,279.7L257.6,279.2L258.0,278.7L258.2,277.7L258.2,276.7L258.6,276.0L258.7,275.7L259.5,274.7L259.6,274.2L259.6,273.7L259.6,272.7L259.6,271.7L259.6,270.7L259.6,269.7L259.6,268.7L259.6,267.7L259.6,266.7L259.6,265.7L259.6,264.7L259.6,263.7L259.6,262.7L259.6,261.7L259.6,260.7L259.6,259.7L259.6,258.7L259.6,257.7L259.6,256.7L259.6,255.7L259.6,254.7L259.6,253.7L259.6,252.7L259.6,251.7L259.6,250.7L259.6,249.7L259.6,248.7L259.6,247.7L260.1,246.7L260.4,245.7L260.5,244.7L260.5,243.7L260.5,242.7L260.5,241.7L260.3,240.7L260.1,239.7L259.7,238.7L259.6,238.5L259.2,237.7L258.8,236.7L258.6,235.8L258.6,235.7L258.4,234.7L258.1,233.7L257.9,232.7L257.8,231.7L258.5,230.7L258.6,230.6L259.3,229.7L258.6,228.9L258.4,228.7L257.6,227.9L257.5,227.7L257.3,226.7L257.0,225.7L256.8,224.7L256.6,224.3L256.4,223.7L256.2,222.7L256.0,221.7L255.8,220.7L255.6,219.7L255.6,219.4L255.5,218.7L255.4,217.7L255.3,216.7ZM363.6,216.8L363.7,216.7L364.6,216.7L365.4,216.7L364.6,217.4L364.4,217.7L364.0,218.7L364.0,219.7L364.0,220.7L363.9,221.7L363.6,222.2L362.6,222.5L361.9,222.7L361.6,222.8L360.6,223.7L360.6,223.7L360.0,224.7L359.6,225.2L359.2,225.7L358.6,226.7L358.6,226.7L357.7,227.7L357.6,228.0L356.6,228.0L355.6,228.1L354.6,228.2L353.6,228.3L352.6,228.4L351.6,228.4L350.6,228.5L349.6,228.5L348.6,228.5L347.6,228.5L346.6,228.5L345.6,228.5L344.6,228.5L343.6,228.5L342.6,228.5L341.6,228.5L340.6,228.5L339.6,228.5L338.6,228.5L337.6,228.5L336.6,228.5L335.6,228.6L334.6,228.6L333.6,228.7L332.6,228.7L332.2,228.7L331.6,228.7L330.6,228.7L329.6,228.7L328.6,228.7L327.6,228.7L326.6,228.7L326.0,228.7L325.6,228.7L324.6,228.6L323.6,228.6L322.6,228.6L321.6,228.6L320.6,228.6L319.6,228.6L318.6,228.6L317.6,228.6L316.6,228.6L315.6,228.6L314.6,228.6L313.6,228.6L312.6,228.7L311.6,228.7L310.6,228.7L309.6,228.7L308.6,228.7L307.6,228.7L306.6,228.7L305.6,228.7L304.6,228.7L303.6,228.7L302.6,228.7L301.6,228.7L300.9,228.7L300.6,228.7L299.6,228.7L298.6,228.7L297.6,228.7L296.6,228.8L295.6,228.8L294.6,228.8L293.6,228.9L292.6,228.9L291.6,228.8L290.6,228.8L289.6,228.8L288.6,228.8L287.6,228.9L286.6,228.9L285.6,228.9L284.6,228.9L283.6,228.8L282.6,228.8L281.6,228.8L280.6,228.8L279.6,228.8L278.6,228.8L277.6,229.3L276.7,229.7L276.6,229.8L275.6,230.3L275.0,230.7L274.6,231.1L273.9,231.7L273.6,232.0L272.9,232.7L272.6,233.0L271.8,233.7L271.6,233.9L270.6,234.6L270.5,234.7L269.6,235.4L269.2,235.7L268.6,236.1L267.9,236.7L267.6,236.9L266.6,237.7L266.5,237.7L265.6,238.5L265.4,238.7L265.4,239.7L265.6,240.4L265.7,240.7L265.6,240.9L265.1,241.7L264.6,242.2L264.3,242.7L264.2,243.7L264.2,244.7L264.2,245.7L264.2,246.7L264.2,247.7L264.2,248.7L264.2,249.7L264.2,250.7L264.2,251.7L264.2,252.7L264.2,253.7L264.2,254.7L264.2,255.7L264.2,256.7L264.2,257.7L264.2,258.7L264.2,259.7L264.2,260.7L264.2,261.7L264.2,262.7L264.2,263.7L264.2,264.7L264.2,265.7L264.2,266.7L264.2,267.7L264.2,268.7L264.2,269.7L264.2,270.7L264.2,271.7L264.2,272.7L264.2,273.7L264.2,274.7L264.2,275.7L264.2,276.7L264.2,277.7L264.2,278.7L264.2,279.7L264.2,280.7L264.2,281.7L264.3,282.7L264.4,283.7L264.4,284.7L264.4,285.7L264.5,286.7L264.6,287.7L264.6,288.2L264.6,288.7L264.6,289.7L264.7,290.7L264.7,291.7L264.8,292.7L264.8,293.7L264.8,294.7L264.9,295.7L265.0,296.7L265.1,297.7L265.2,298.7L265.1,299.7L265.0,300.7L264.8,301.7L264.7,302.7L264.6,303.4L264.6,303.7L264.6,303.8L264.8,304.7L265.1,305.7L265.4,306.7L265.5,307.7L265.5,308.7L265.4,309.7L265.3,310.7L265.2,311.7L265.2,312.7L265.1,313.7L265.0,314.7L265.0,315.7L265.6,316.2L266.6,315.8L267.0,315.7L267.6,315.5L268.6,315.1L269.5,314.7L269.6,314.7L269.6,314.7L269.8,315.7L269.6,316.0L268.8,316.7L268.6,316.9L267.7,317.7L267.6,317.8L266.6,318.7L266.6,318.7L265.8,319.7L266.1,320.7L266.3,321.7L266.6,322.6L266.6,322.7L266.9,323.7L267.2,324.7L267.5,325.7L267.6,326.1L267.8,326.7L268.0,327.7L268.3,328.7L268.6,329.2L268.8,329.7L269.3,330.7L269.6,331.2L269.8,331.7L270.2,332.7L270.5,333.7L270.6,333.9L270.8,334.7L271.1,335.7L271.2,336.7L270.9,337.7L270.6,338.6L270.6,338.7L270.3,339.7L269.9,340.7L269.6,341.7L270.0,342.7L270.6,343.0L271.6,343.5L272.0,343.7L272.6,344.0L273.6,344.5L273.9,344.7L274.6,345.0L275.6,345.5L275.9,345.7L276.6,346.0L277.6,346.6L277.9,346.7L278.6,347.1L279.6,347.6L280.0,347.7L280.6,347.9L281.6,348.3L282.6,348.6L282.9,348.7L283.6,349.4L283.8,349.7L284.3,350.7L284.6,351.1L284.9,351.7L285.5,352.7L285.6,352.8L286.6,352.9L287.6,352.9L288.6,352.9L289.6,352.8L290.6,352.8L291.6,352.8L292.6,352.7L293.6,352.7L294.1,352.7L294.6,352.7L295.6,352.7L296.6,352.6L297.6,352.6L298.6,352.7L299.2,352.7L299.6,352.7L300.6,353.0L301.6,353.5L302.1,353.7L302.6,353.9L303.6,354.2L304.6,354.3L305.6,354.4L306.6,354.4L307.6,354.5L308.6,354.5L309.6,354.6L310.6,354.6L311.6,354.6L312.6,354.7L313.2,354.7L313.6,354.7L314.6,354.8L315.6,354.8L316.6,354.8L317.6,354.9L318.6,354.9L319.6,354.9L320.6,355.0L321.6,355.0L322.6,355.1L323.6,355.1L324.6,355.1L325.6,355.2L326.6,355.2L327.6,355.3L328.6,355.3L329.6,355.3L330.6,355.4L331.6,355.4L332.6,355.5L333.6,355.5L334.6,355.5L335.6,355.6L336.6,355.6L337.6,355.7L337.8,355.7L338.6,355.7L339.6,355.8L340.6,355.9L341.6,355.9L342.6,356.0L343.6,356.1L344.6,356.2L345.6,356.3L346.6,356.4L347.6,356.5L348.6,356.6L349.1,356.7L349.6,356.7L350.6,356.9L351.6,357.0L352.6,357.1L353.6,357.2L354.6,357.3L355.6,357.4L356.6,357.5L357.6,357.6L358.6,357.7L358.7,357.7L358.6,357.7L357.6,357.7L356.6,357.7L355.6,357.7L354.6,357.7L353.6,357.7L352.6,357.7L351.6,357.7L350.6,357.7L349.6,357.7L348.6,357.7L347.6,357.7L346.6,357.7L345.6,357.7L344.6,357.7L343.6,357.7L342.6,357.7L341.6,357.7L340.6,357.7L339.6,357.7L338.6,357.7L337.6,357.7L336.6,357.7L335.6,357.7L334.6,357.7L333.6,357.7L332.6,357.7L331.6,357.7L330.6,357.7L329.6,357.7L328.6,357.7L327.6,357.7L326.6,357.7L325.6,357.7L324.6,357.7L323.6,357.7L322.6,357.7L321.6,357.7L320.6,357.7L319.6,357.7L318.6,357.7L317.6,357.7L316.6,357.7L315.6,357.7L314.6,357.7L313.6,357.7L312.6,357.7L311.6,357.7L310.6,357.7L309.6,357.7L308.6,357.7L307.6,357.7L306.6,357.7L305.6,357.7L304.6,357.7L303.6,357.7L302.6,357.7L301.6,357.7L300.6,357.7L299.6,357.7L298.6,357.7L297.6,357.7L296.6,357.7L295.6,357.7L294.6,357.7L293.6,357.7L292.6,357.7L291.6,357.7L290.6,357.7L289.6,357.7L288.6,357.7L287.6,357.7L286.6,357.7L285.6,357.7L284.6,357.7L283.6,357.7L282.6,357.7L281.6,357.7L280.6,357.7L279.6,357.7L278.6,357.7L277.6,357.7L276.6,357.7L275.6,357.7L274.6,357.7L273.6,357.7L272.6,357.7L271.6,357.7L270.6,357.7L269.6,357.7L268.6,357.7L267.6,357.7L266.6,357.7L266.0,357.7L266.3,356.7L266.6,355.8L266.6,355.7L266.7,354.7L266.7,353.7L266.7,352.7L266.7,351.7L266.7,350.7L266.7,349.7L266.7,348.7L266.7,347.7L266.7,346.7L266.6,346.7L265.6,345.9L265.5,345.7L264.6,345.2L263.6,344.7L263.5,344.7L263.5,343.7L263.6,343.5L263.8,342.7L264.2,341.7L264.5,340.7L264.6,340.5L265.0,339.7L265.3,338.7L265.6,338.0L265.7,337.7L266.1,336.7L266.5,335.7L266.6,335.5L267.0,334.7L266.9,333.7L266.6,333.4L266.2,332.7L265.6,332.0L265.4,331.7L264.7,330.7L264.6,330.5L264.2,329.7L263.9,328.7L263.6,328.2L263.5,327.7L263.4,326.7L263.3,325.7L263.0,324.7L262.6,323.7L262.6,323.7L262.4,322.7L262.2,321.7L261.8,320.7L261.6,320.4L260.6,320.2L259.6,319.9L258.9,319.7L258.6,319.3L258.1,318.7L257.6,318.1L257.3,317.7L256.6,316.9L256.5,316.7L255.7,315.7L255.6,315.6L254.9,314.7L254.6,314.1L254.3,313.7L254.6,313.2L255.6,312.7L255.6,312.7L256.6,312.3L257.6,311.8L257.8,311.7L258.6,311.4L259.6,310.9L260.0,310.7L260.6,310.5L261.6,310.0L261.6,309.7L261.7,308.7L261.9,307.7L262.0,306.7L262.1,305.7L261.9,304.7L262.1,303.7L262.4,302.7L262.6,302.3L262.7,301.7L262.8,300.7L263.0,299.7L263.1,298.7L263.3,297.7L263.3,296.7L263.3,295.7L263.2,294.7L263.2,293.7L263.2,292.7L263.2,291.7L263.2,290.7L263.2,289.7L263.2,288.7L263.1,287.7L263.1,286.7L263.1,285.7L263.1,284.7L263.1,283.7L263.1,282.7L263.1,281.7L263.1,280.7L263.1,279.7L263.1,278.7L263.1,277.7L263.1,276.7L263.0,275.7L263.0,274.7L263.0,273.7L263.0,272.7L263.0,271.7L263.0,270.7L263.0,269.7L263.0,268.7L263.0,267.7L263.0,266.7L263.0,265.7L263.0,264.7L263.0,263.7L263.0,262.7L263.0,261.7L263.0,260.7L263.0,259.7L263.0,258.7L263.0,257.7L263.0,256.7L263.0,255.7L263.0,254.7L263.0,253.7L263.0,252.7L263.0,251.7L263.0,250.7L263.0,249.7L263.0,248.7L263.0,247.7L263.0,246.7L263.0,245.7L263.0,244.7L263.0,243.7L263.0,242.7L263.0,241.7L263.3,240.7L263.4,239.7L263.2,238.7L263.1,237.7L263.2,236.7L263.5,235.7L263.6,235.3L264.0,234.7L264.6,233.7L264.6,233.7L265.6,233.1L266.4,232.7L266.6,232.6L267.6,232.0L268.2,231.7L268.6,231.5L269.6,230.9L270.0,230.7L270.6,230.4L271.6,230.0L272.0,229.7L272.6,229.4L273.6,228.7L273.6,228.7L274.6,228.1L275.4,227.7L275.6,227.6L276.6,227.1L277.5,226.7L277.6,226.7L278.6,226.2L279.6,226.0L280.6,226.0L281.6,226.0L282.6,226.0L283.6,226.0L284.6,226.1L285.6,226.1L286.6,226.2L287.6,226.2L288.6,226.2L289.6,226.2L290.6,226.2L291.6,226.2L292.6,226.2L293.6,226.1L294.6,226.1L295.6,226.1L296.6,226.0L297.6,226.0L298.6,226.0L299.6,226.0L300.6,226.0L301.6,226.0L302.6,226.0L303.6,226.0L304.6,226.0L305.6,226.0L306.6,226.0L307.6,226.0L308.6,226.0L309.6,226.0L310.6,226.0L311.6,226.0L312.6,226.0L313.6,226.0L314.6,226.0L315.6,226.0L316.6,226.0L317.6,226.0L318.6,226.0L319.6,226.0L320.6,226.0L321.6,226.0L322.6,226.0L323.6,226.0L324.6,226.0L325.6,226.1L326.6,226.1L327.6,226.1L328.6,226.2L329.6,226.2L330.6,226.2L331.6,226.1L332.6,226.1L333.6,226.1L334.6,226.0L335.6,226.0L336.6,226.0L337.6,225.9L338.6,225.9L339.6,225.9L340.6,225.9L341.6,225.9L342.6,225.9L343.6,225.9L344.6,225.9L345.6,225.9L346.6,225.9L347.6,225.9L348.6,225.9L349.6,225.9L350.6,225.9L351.6,225.9L352.6,225.8L353.6,225.7L353.6,225.7L354.6,225.6L355.6,225.5L356.6,225.4L357.6,225.3L358.2,224.7L358.6,224.4L359.0,223.7L359.6,222.9L359.7,222.7L360.6,221.7L360.7,221.7L361.6,221.5L362.6,221.1L362.9,220.7L363.1,219.7L363.1,218.7L363.2,217.7ZM246.8,355.7L247.6,356.6L247.7,356.7L248.5,357.7L247.6,357.7L246.6,357.7L246.6,356.7L246.6,355.7L246.6,355.5Z" fill="#86cba8" stroke="#86cba8" stroke-width="0.6" fill-rule="evenodd"/>
<path d="M257.6,216.7L258.2,216.7L258.3,217.7L258.4,218.7L258.6,219.7L258.6,219.7L258.8,220.7L259.0,221.7L259.2,222.7L259.6,223.5L259.7,223.7L260.1,224.7L260.5,225.7L260.6,225.9L261.6,226.6L261.7,226.7L262.6,227.3L263.2,227.7L263.6,228.0L264.6,227.9L265.6,227.7L265.7,227.7L266.6,227.6L267.6,227.5L268.6,227.3L269.6,227.1L270.6,227.0L271.6,226.8L271.8,226.7L272.6,226.4L273.6,225.9L274.0,225.7L274.6,225.4L275.6,225.0L276.2,224.7L276.6,224.5L277.6,224.0L278.3,223.7L278.6,223.6L279.6,223.2L280.6,223.2L281.6,223.2L282.6,223.2L283.6,223.2L284.6,223.3L285.6,223.3L286.6,223.4L287.6,223.4L288.6,223.5L289.6,223.7L290.6,223.7L291.6,223.5L292.6,223.4L293.6,223.4L294.6,223.4L295.6,223.3L296.6,223.3L297.6,223.3L298.6,223.3L299.6,223.3L300.6,223.3L301.6,223.3L302.6,223.3L303.6,223.3L304.6,223.3L305.6,223.3L306.6,223.3L307.6,223.3L308.6,223.3L309.6,223.3L310.6,223.3L311.6,223.3L312.6,223.3L313.6,223.3L314.6,223.3L315.6,223.3L316.6,223.3L317.6,223.3L318.6,223.3L319.6,223.3L320.6,223.3L321.6,223.3L322.6,223.3L323.6,223.4L324.6,223.4L325.6,223.4L326.6,223.5L327.6,223.5L328.6,223.5L329.6,223.7L329.6,223.7L329.6,223.7L330.6,223.6L331.6,223.5L332.6,223.5L333.6,223.5L334.6,223.4L335.6,223.4L336.6,223.4L337.6,223.3L338.6,223.3L339.6,223.3L340.6,223.3L341.6,223.3L342.6,223.3L343.6,223.3L344.6,223.4L345.6,223.4L346.6,223.3L347.6,223.3L348.6,223.3L349.6,223.3L350.6,223.3L351.6,223.3L352.6,223.3L353.6,223.3L354.6,223.2L355.6,223.1L356.6,223.1L357.6,223.0L357.9,222.7L358.6,222.0L358.8,221.7L359.6,220.7L359.6,220.7L360.6,220.4L361.6,219.7L361.6,219.7L362.0,218.7L362.1,217.7L362.2,216.7L362.6,216.7L363.6,216.7L363.7,216.7L363.6,216.8L363.2,217.7L363.1,218.7L363.1,219.7L362.9,220.7L362.6,221.1L361.6,221.5L360.7,221.7L360.6,221.7L359.7,222.7L359.6,222.9L359.0,223.7L358.6,224.4L358.2,224.7L357.6,225.3L356.6,225.4L355.6,225.5L354.6,225.6L353.6,225.7L353.6,225.7L352.6,225.8L351.6,225.9L350.6,225.9L349.6,225.9L348.6,225.9L347.6,225.9L346.6,225.9L345.6,225.9L344.6,225.9L343.6,225.9L342.6,225.9L341.6,225.9L340.6,225.9L339.6,225.9L338.6,225.9L337.6,225.9L336.6,226.0L335.6,226.0L334.6,226.0L333.6,226.1L332.6,226.1L331.6,226.1L330.6,226.2L329.6,226.2L328.6,226.2L327.6,226.1L326.6,226.1L325.6,226.1L324.6,226.0L323.6,226.0L322.6,226.0L321.6,226.0L320.6,226.0L319.6,226.0L318.6,226.0L317.6,226.0L316.6,226.0L315.6,226.0L314.6,226.0L313.6,226.0L312.6,226.0L311.6,226.0L310.6,226.0L309.6,226.0L308.6,226.0L307.6,226.0L306.6,226.0L305.6,226.0L304.6,226.0L303.6,226.0L302.6,226.0L301.6,226.0L300.6,226.0L299.6,226.0L298.6,226.0L297.6,226.0L296.6,226.0L295.6,226.1L294.6,226.1L293.6,226.1L292.6,226.2L291.6,226.2L290.6,226.2L289.6,226.2L288.6,226.2L287.6,226.2L286.6,226.2L285.6,226.1L284.6,226.1L283.6,226.0L282.6,226.0L281.6,226.0L280.6,226.0L279.6,226.0L278.6,226.2L277.6,226.7L277.5,226.7L276.6,227.1L275.6,227.6L275.4,227.7L274.6,228.1L273.6,228.7L273.6,228.7L272.6,229.4L272.0,229.7L271.6,230.0L270.6,230.4L270.0,230.7L269.6,230.9L268.6,231.5L268.2,231.7L267.6,232.0L266.6,232.6L266.4,232.7L265.6,233.1L264.6,233.7L264.6,233.7L264.0,234.7L263.6,235.3L263.5,235.7L263.2,236.7L263.1,237.7L263.2,238.7L263.4,239.7L263.3,240.7L263.0,241.7L263.0,242.7L263.0,243.7L263.0,244.7L263.0,245.7L263.0,246.7L263.0,247.7L263.0,248.7L263.0,249.7L263.0,250.7L263.0,251.7L263.0,252.7L263.0,253.7L263.0,254.7L263.0,255.7L263.0,256.7L263.0,257.7L263.0,258.7L263.0,259.7L263.0,260.7L263.0,261.7L263.0,262.7L263.0,263.7L263.0,264.7L263.0,265.7L263.0,266.7L263.0,267.7L263.0,268.7L263.0,269.7L263.0,270.7L263.0,271.7L263.0,272.7L263.0,273.7L263.0,274.7L263.0,275.7L263.1,276.7L263.1,277.7L263.1,278.7L263.1,279.7L263.1,280.7L263.1,281.7L263.1,282.7L263.1,283.7L263.1,284.7L263.1,285.7L263.1,286.7L263.1,287.7L263.2,288.7L263.2,289.7L263.2,290.7L263.2,291.7L263.2,292.7L263.2,293.7L263.2,294.7L263.3,295.7L263.3,296.7L263.3,297.7L263.1,298.7L263.0,299.7L262.8,300.7L262.7,301.7L262.6,302.3L262.4,302.7L262.1,303.7L261.9,304.7L262.1,305.7L262.0,306.7L261.9,307.7L261.7,308.7L261.6,309.7L261.6,310.0L260.6,310.5L260.0,310.7L259.6,310.9L258.6,311.4L257.8,311.7L257.6,311.8L256.6,312.3L255.6,312.7L255.6,312.7L254.6,313.2L254.3,313.7L254.6,314.1L254.9,314.7L255.6,315.6L255.7,315.7L256.5,316.7L256.6,316.9L257.3,317.7L257.6,318.1L258.1,318.7L258.6,319.3L258.9,319.7L259.6,319.9L260.6,320.2L261.6,320.4L261.8,320.7L262.2,321.7L262.4,322.7L262.6,323.7L262.6,323.7L263.0,324.7L263.3,325.7L263.4,326.7L263.5,327.7L263.6,328.2L263.9,328.7L264.2,329.7L264.6,330.5L264.7,330.7L265.4,331.7L265.6,332.0L266.2,332.7L266.6,333.4L266.9,333.7L267.0,334.7L266.6,335.5L266.5,335.7L266.1,336.7L265.7,337.7L265.6,338.0L265.3,338.7L265.0,339.7L264.6,340.5L264.5,340.7L264.2,341.7L263.8,342.7L263.6,343.5L263.5,343.7L263.5,344.7L263.6,344.7L264.6,345.2L265.5,345.7L265.6,345.9L266.6,346.7L266.7,346.7L266.7,347.7L266.7,348.7L266.7,349.7L266.7,350.7L266.7,351.7L266.7,352.7L266.7,353.7L266.7,354.7L266.6,355.7L266.6,355.8L266.3,356.7L266.0,357.7L265.6,357.7L264.6,357.7L263.6,357.7L262.6,357.7L261.6,357.7L260.6,357.7L259.6,357.7L258.6,357.7L257.6,357.7L256.6,357.7L255.6,357.7L254.6,357.7L253.6,357.7L252.6,357.7L251.6,357.7L250.6,357.7L249.6,357.7L248.6,357.7L248.5,357.7L247.7,356.7L247.6,356.6L246.8,355.7L246.6,355.5L246.6,354.7L246.6,353.7L246.6,352.7L246.6,351.7L246.6,350.7L246.6,349.7L246.6,348.7L246.6,347.7L246.6,346.7L246.6,345.7L246.6,344.7L246.6,343.7L246.6,343.3L247.6,342.7L247.7,342.7L248.6,342.2L249.5,341.7L249.6,341.6L250.6,341.0L251.1,340.7L251.6,340.4L252.5,339.7L252.6,339.6L253.5,338.7L253.6,338.6L254.0,338.7L254.6,338.9L255.6,339.2L256.6,339.5L257.3,339.7L257.6,339.8L258.6,340.1L259.6,340.5L260.2,340.7L260.6,340.9L260.7,340.7L261.1,339.7L261.5,338.7L261.6,338.5L261.9,337.7L262.3,336.7L262.6,336.0L262.7,335.7L263.1,334.7L263.6,333.8L263.6,333.7L264.6,333.0L264.8,332.7L264.6,332.4L264.3,331.7L263.6,330.8L263.6,330.7L262.9,329.7L262.6,328.7L262.6,328.6L262.4,327.7L262.2,326.7L262.0,325.7L261.7,324.7L261.6,324.1L261.3,323.7L260.6,323.2L259.6,322.8L258.6,322.7L258.4,322.7L257.6,322.6L256.6,322.4L255.6,322.1L255.2,321.7L254.6,321.2L254.1,320.7L253.6,320.1L253.4,319.7L252.9,318.7L252.6,318.0L252.5,317.7L252.0,316.7L251.6,315.8L251.5,315.7L250.6,314.7L250.6,314.7L249.6,313.8L249.5,313.7L248.6,312.9L248.4,312.7L247.6,312.0L247.3,311.7L246.6,311.0L246.6,310.7L246.6,309.7L246.6,308.7L246.6,307.7L246.6,306.8L247.6,307.7L247.6,307.7L248.6,308.6L248.7,308.7L249.6,309.5L249.8,309.7L250.6,310.4L251.3,310.7L251.6,311.0L252.2,310.7L252.6,310.4L253.4,309.7L253.6,309.5L254.6,308.7L254.6,308.7L255.6,307.9L255.8,307.7L256.6,307.1L257.0,306.7L257.6,306.2L258.2,305.7L258.6,305.4L259.5,304.7L259.6,304.6L260.4,303.7L260.2,302.7L259.8,301.7L259.6,301.1L259.5,300.7L259.1,299.7L258.7,298.7L258.7,297.7L258.7,296.7L258.7,295.7L258.7,294.7L258.7,293.7L258.7,292.7L259.3,291.7L259.6,290.9L259.6,290.7L259.6,289.7L259.6,288.7L259.6,287.7L259.6,286.7L259.6,285.7L259.6,284.7L259.8,283.7L259.9,282.7L259.9,281.7L259.9,280.7L260.1,279.7L260.2,278.7L260.2,277.7L260.2,276.7L260.3,275.7L260.4,274.7L260.4,273.7L260.4,272.7L260.4,271.7L260.4,270.7L260.4,269.7L260.4,268.7L260.4,267.7L260.4,266.7L260.4,265.7L260.4,264.7L260.4,263.7L260.4,262.7L260.4,261.7L260.4,260.7L260.4,259.7L260.4,258.7L260.4,257.7L260.4,256.7L260.4,255.7L260.4,254.7L260.4,253.7L260.4,252.7L260.4,251.7L260.4,250.7L260.4,249.7L260.4,248.7L260.5,247.7L260.6,247.4L261.1,246.7L261.3,245.7L261.6,245.1L261.9,244.7L261.9,243.7L261.9,242.7L261.9,241.7L261.9,240.7L261.7,239.7L261.6,239.6L261.1,238.7L260.6,237.7L260.6,237.7L260.1,236.7L259.7,235.7L259.6,235.1L259.5,234.7L259.3,233.7L259.6,232.7L259.6,232.7L260.3,231.7L260.6,231.3L261.0,230.7L261.6,229.9L261.7,229.7L261.6,229.3L261.4,228.7L260.6,228.1L260.1,227.7L259.6,227.4L259.0,226.7L258.7,225.7L258.6,225.4L258.4,224.7L258.0,223.7L257.7,222.7L257.6,222.3L257.5,221.7L257.3,220.7L257.1,219.7L257.0,218.7L256.9,217.7L256.8,216.7ZM261.3,233.7L261.4,234.7L261.6,234.8L261.6,234.7L261.9,233.7L261.6,233.3Z" fill="#67b9ab" stroke="#67b9ab" stroke-width="0.6" fill-rule="evenodd"/>
<path d="M258.6,216.7L259.5,216.7L259.6,217.3L259.7,217.7L259.9,218.7L260.1,219.7L260.3,220.7L260.5,221.7L260.6,222.0L260.9,222.7L261.4,223.7L261.6,224.2L262.4,224.7L262.6,224.8L263.2,224.7L263.6,224.6L264.6,224.4L265.6,224.1L266.6,223.9L267.2,223.7L267.6,223.6L268.6,223.4L269.6,223.2L270.6,223.1L271.6,222.9L272.6,222.7L272.8,222.7L273.6,222.6L274.6,222.4L275.6,222.2L276.6,221.9L277.0,221.7L277.6,221.4L278.6,220.9L279.1,220.7L279.6,220.5L280.6,220.4L281.6,220.5L282.6,220.5L283.6,220.5L284.6,220.5L285.6,220.6L286.6,220.7L286.6,220.7L287.6,221.0L288.6,221.2L289.6,221.4L290.6,221.3L291.6,221.2L292.6,221.0L293.6,220.8L294.0,220.7L294.6,220.6L295.6,220.6L296.6,220.5L297.6,220.5L298.6,220.5L299.6,220.5L300.6,220.5L301.6,220.6L302.6,220.6L303.6,220.6L304.6,220.6L305.6,220.6L306.6,220.6L307.6,220.6L308.6,220.6L309.6,220.6L310.6,220.6L311.6,220.6L312.6,220.6L313.6,220.6L314.6,220.6L315.6,220.6L316.6,220.6L317.6,220.6L318.6,220.6L319.6,220.6L320.6,220.7L321.6,220.7L322.6,220.7L322.7,220.7L323.6,220.7L324.6,220.8L325.6,220.8L326.6,220.8L327.6,221.0L328.6,221.2L329.6,221.4L330.6,221.3L331.6,221.0L332.6,220.8L333.6,220.8L334.6,220.8L335.6,220.8L336.6,220.8L337.6,220.7L338.6,220.7L339.6,220.7L340.6,220.8L341.6,220.8L342.6,220.8L343.6,220.8L344.6,220.8L345.6,220.8L346.6,220.8L347.6,220.8L348.6,220.8L349.6,220.8L350.6,220.8L351.6,220.8L352.6,220.8L353.6,220.8L354.6,220.8L355.6,220.8L356.6,220.7L357.3,220.7L357.6,220.7L358.6,219.7L358.6,219.7L359.6,219.2L360.1,218.7L360.6,218.2L360.8,217.7L361.0,216.7L361.6,216.7L362.2,216.7L362.1,217.7L362.0,218.7L361.6,219.7L361.6,219.7L360.6,220.4L359.6,220.7L359.6,220.7L358.8,221.7L358.6,222.0L357.9,222.7L357.6,223.0L356.6,223.1L355.6,223.1L354.6,223.2L353.6,223.3L352.6,223.3L351.6,223.3L350.6,223.3L349.6,223.3L348.6,223.3L347.6,223.3L346.6,223.3L345.6,223.4L344.6,223.4L343.6,223.3L342.6,223.3L341.6,223.3L340.6,223.3L339.6,223.3L338.6,223.3L337.6,223.3L336.6,223.4L335.6,223.4L334.6,223.4L333.6,223.5L332.6,223.5L331.6,223.5L330.6,223.6L329.6,223.7L329.6,223.7L329.6,223.7L328.6,223.5L327.6,223.5L326.6,223.5L325.6,223.4L324.6,223.4L323.6,223.4L322.6,223.3L321.6,223.3L320.6,223.3L319.6,223.3L318.6,223.3L317.6,223.3L316.6,223.3L315.6,223.3L314.6,223.3L313.6,223.3L312.6,223.3L311.6,223.3L310.6,223.3L309.6,223.3L308.6,223.3L307.6,223.3L306.6,223.3L305.6,223.3L304.6,223.3L303.6,223.3L302.6,223.3L301.6,223.3L300.6,223.3L299.6,223.3L298.6,223.3L297.6,223.3L296.6,223.3L295.6,223.3L294.6,223.4L293.6,223.4L292.6,223.4L291.6,223.5L290.6,223.7L289.6,223.7L288.6,223.5L287.6,223.4L286.6,223.4L285.6,223.3L284.6,223.3L283.6,223.2L282.6,223.2L281.6,223.2L280.6,223.2L279.6,223.2L278.6,223.6L278.3,223.7L277.6,224.0L276.6,224.5L276.2,224.7L275.6,225.0L274.6,225.4L274.0,225.7L273.6,225.9L272.6,226.4L271.8,226.7L271.6,226.8L270.6,227.0L269.6,227.1L268.6,227.3L267.6,227.5L266.6,227.6L265.7,227.7L265.6,227.7L264.6,227.9L263.6,228.0L263.2,227.7L262.6,227.3L261.7,226.7L261.6,226.6L260.6,225.9L260.5,225.7L260.1,224.7L259.7,223.7L259.6,223.5L259.2,222.7L259.0,221.7L258.8,220.7L258.6,219.7L258.6,219.7L258.4,218.7L258.3,217.7L258.2,216.7ZM261.6,233.3L261.9,233.7L261.6,234.7L261.6,234.8L261.4,234.7L261.3,233.7ZM247.3,311.7L247.6,312.0L248.4,312.7L248.6,312.9L249.5,313.7L249.6,313.8L250.6,314.7L250.6,314.7L251.5,315.7L251.6,315.8L252.0,316.7L252.5,317.7L252.6,318.0L252.9,318.7L253.4,319.7L253.6,320.1L254.1,320.7L254.6,321.2L255.2,321.7L255.6,322.1L256.6,322.4L257.6,322.6L258.4,322.7L258.6,322.7L259.6,322.8L260.6,323.2L261.3,323.7L261.6,324.1L261.7,324.7L262.0,325.7L262.2,326.7L262.4,327.7L262.6,328.6L262.6,328.7L262.9,329.7L263.6,330.7L263.6,330.8L264.3,331.7L264.6,332.4L264.8,332.7L264.6,333.0L263.6,333.7L263.6,333.8L263.1,334.7L262.7,335.7L262.6,336.0L262.3,336.7L261.9,337.7L261.6,338.5L261.5,338.7L261.1,339.7L260.7,340.7L260.6,340.9L260.2,340.7L259.6,340.5L258.6,340.1L257.6,339.8L257.3,339.7L256.6,339.5L255.6,339.2L254.6,338.9L254.0,338.7L253.6,338.6L253.5,338.7L252.6,339.6L252.5,339.7L251.6,340.4L251.1,340.7L250.6,341.0L249.6,341.6L249.5,341.7L248.6,342.2L247.7,342.7L247.6,342.7L246.6,343.3L246.6,342.7L246.6,341.7L246.6,341.1L247.4,340.7L247.6,340.6L248.6,340.0L249.0,339.7L249.6,339.3L250.5,338.7L250.6,338.6L251.6,337.9L252.0,337.7L252.6,337.3L253.1,336.7L253.6,336.2L254.1,335.7L254.6,334.7L254.6,334.7L255.6,334.4L256.1,334.7L256.6,335.0L257.6,335.5L258.0,335.7L258.6,336.0L258.9,335.7L259.3,334.7L259.6,334.1L259.7,333.7L260.3,332.7L260.6,332.5L261.6,331.8L261.8,331.7L262.4,330.7L261.8,329.7L261.6,328.9L261.5,328.7L261.1,327.7L260.6,326.7L260.6,326.7L259.6,325.9L259.4,325.7L258.6,325.2L257.6,325.1L256.6,325.0L255.6,325.0L255.3,324.7L254.6,323.9L254.5,323.7L253.8,322.7L253.6,322.4L252.7,321.7L252.6,321.6L251.6,320.7L251.6,320.7L251.2,319.7L250.7,318.7L250.6,318.6L249.6,317.8L249.4,317.7L248.6,317.1L248.2,316.7L247.6,316.2L247.1,315.7L246.6,315.3L246.6,314.7L246.6,313.7L246.6,312.7L246.6,311.7L246.6,311.0Z" fill="#50a0b4" stroke="#50a0b4" stroke-width="0.6" fill-rule="evenodd"/>
<path d="M259.6,216.7L260.6,216.7L261.5,216.7L261.6,217.0L261.8,217.7L262.0,218.7L262.2,219.7L262.6,220.0L263.6,220.0L264.6,219.9L265.6,219.7L265.6,219.7L266.6,219.6L267.6,219.4L268.6,219.2L269.6,219.1L270.6,218.9L271.6,218.8L272.2,218.7L272.6,218.6L273.6,218.5L274.6,218.3L275.6,218.2L276.6,218.2L277.6,218.1L278.6,218.1L279.6,218.1L280.6,218.1L281.6,218.1L282.6,218.1L283.6,218.1L284.6,218.1L285.6,218.2L286.6,218.2L287.6,218.2L288.6,218.2L289.6,218.2L290.6,218.2L291.6,218.2L292.6,218.2L293.6,218.2L294.6,218.2L295.6,218.2L296.6,218.2L297.6,218.2L298.6,218.2L299.6,218.2L300.6,218.2L301.6,218.2L302.6,218.2L303.6,218.2L304.6,218.2L305.6,218.2L306.6,218.2L307.6,218.2L308.6,218.2L309.6,218.2L310.6,218.2L311.6,218.2L312.6,218.2L313.6,218.2L314.6,218.2L315.6,218.2L316.6,218.2L317.6,218.2L318.6,218.2L319.6,218.2L320.6,218.2L321.6,218.2L322.6,218.2L323.6,218.2L324.6,218.2L325.6,218.2L326.6,218.2L327.6,218.3L328.6,218.3L329.6,218.3L330.6,218.3L331.6,218.3L332.6,218.3L333.6,218.3L334.6,218.3L335.6,218.3L336.6,218.3L337.6,218.3L338.6,218.3L339.6,218.3L340.6,218.3L341.6,218.3L342.6,218.3L343.6,218.2L344.6,218.2L345.6,218.2L346.6,218.2L347.6,218.2L348.6,218.2L349.6,218.2L350.6,218.2L351.6,218.2L352.6,218.2L353.6,218.3L354.6,218.3L355.6,218.3L356.6,218.2L357.6,217.8L357.8,217.7L358.6,216.9L358.8,216.7L359.6,216.7L360.6,216.7L361.0,216.7L360.8,217.7L360.6,218.2L360.1,218.7L359.6,219.2L358.6,219.7L358.6,219.7L357.6,220.7L357.3,220.7L356.6,220.7L355.6,220.8L354.6,220.8L353.6,220.8L352.6,220.8L351.6,220.8L350.6,220.8L349.6,220.8L348.6,220.8L347.6,220.8L346.6,220.8L345.6,220.8L344.6,220.8L343.6,220.8L342.6,220.8L341.6,220.8L340.6,220.8L339.6,220.7L338.6,220.7L337.6,220.7L336.6,220.8L335.6,220.8L334.6,220.8L333.6,220.8L332.6,220.8L331.6,221.0L330.6,221.3L329.6,221.4L328.6,221.2L327.6,221.0L326.6,220.8L325.6,220.8L324.6,220.8L323.6,220.7L322.7,220.7L322.6,220.7L321.6,220.7L320.6,220.7L319.6,220.6L318.6,220.6L317.6,220.6L316.6,220.6L315.6,220.6L314.6,220.6L313.6,220.6L312.6,220.6L311.6,220.6L310.6,220.6L309.6,220.6L308.6,220.6L307.6,220.6L306.6,220.6L305.6,220.6L304.6,220.6L303.6,220.6L302.6,220.6L301.6,220.6L300.6,220.5L299.6,220.5L298.6,220.5L297.6,220.5L296.6,220.5L295.6,220.6L294.6,220.6L294.0,220.7L293.6,220.8L292.6,221.0L291.6,221.2L290.6,221.3L289.6,221.4L288.6,221.2L287.6,221.0L286.6,220.7L286.6,220.7L285.6,220.6L284.6,220.5L283.6,220.5L282.6,220.5L281.6,220.5L280.6,220.4L279.6,220.5L279.1,220.7L278.6,220.9L277.6,221.4L277.0,221.7L276.6,221.9L275.6,222.2L274.6,222.4L273.6,222.6L272.8,222.7L272.6,222.7L271.6,222.9L270.6,223.1L269.6,223.2L268.6,223.4L267.6,223.6L267.2,223.7L266.6,223.9L265.6,224.1L264.6,224.4L263.6,224.6L263.2,224.7L262.6,224.8L262.4,224.7L261.6,224.2L261.4,223.7L260.9,222.7L260.6,222.0L260.5,221.7L260.3,220.7L260.1,219.7L259.9,218.7L259.7,217.7L259.6,217.3L259.5,216.7ZM247.1,315.7L247.6,316.2L248.2,316.7L248.6,317.1L249.4,317.7L249.6,317.8L250.6,318.6L250.7,318.7L251.2,319.7L251.6,320.7L251.6,320.7L252.6,321.6L252.7,321.7L253.6,322.4L253.8,322.7L254.5,323.7L254.6,323.9L255.3,324.7L255.6,325.0L256.6,325.0L257.6,325.1L258.6,325.2L259.4,325.7L259.6,325.9L260.6,326.7L260.6,326.7L261.1,327.7L261.5,328.7L261.6,328.9L261.8,329.7L262.4,330.7L261.8,331.7L261.6,331.8L260.6,332.5L260.3,332.7L259.7,333.7L259.6,334.1L259.3,334.7L258.9,335.7L258.6,336.0L258.0,335.7L257.6,335.5L256.6,335.0L256.1,334.7L255.6,334.4L254.6,334.7L254.6,334.7L254.1,335.7L253.6,336.2L253.1,336.7L252.6,337.3L252.0,337.7L251.6,337.9L250.6,338.6L250.5,338.7L249.6,339.3L249.0,339.7L248.6,340.0L247.6,340.6L247.4,340.7L246.6,341.1L246.6,340.7L246.6,339.7L246.6,338.7L246.6,337.7L246.6,336.7L246.6,335.7L246.6,334.7L246.6,333.7L246.6,332.7L246.6,331.7L246.6,330.7L246.6,329.7L246.6,328.7L246.6,327.7L246.6,326.7L246.6,325.7L246.6,324.7L246.6,323.7L246.6,322.7L246.6,321.7L246.6,320.7L246.6,319.7L246.6,318.7L246.6,317.7L246.6,316.7L246.6,315.7L246.6,315.3ZM247.2,320.7L246.9,321.7L246.8,322.7L246.8,323.7L246.8,324.7L246.8,325.7L246.8,326.7L246.8,327.7L246.8,328.7L246.8,329.7L246.8,330.7L246.8,331.7L246.8,332.7L246.8,333.7L246.8,334.7L246.8,335.7L247.0,336.7L247.3,337.7L247.6,338.0L248.0,337.7L248.6,337.3L249.5,336.7L249.6,336.6L250.6,336.0L251.0,335.7L251.6,335.3L252.5,334.7L252.6,334.6L253.3,333.7L253.4,332.7L253.4,331.7L253.6,331.4L254.6,331.4L255.6,331.3L256.3,330.7L256.3,329.7L256.3,328.7L256.3,327.7L255.6,327.3L254.6,327.2L253.6,327.0L253.4,326.7L253.4,325.7L253.2,324.7L252.6,324.0L252.2,323.7L251.6,323.2L250.9,322.7L250.6,322.5L249.6,321.7L249.6,321.7L248.6,320.9L248.3,320.7L247.6,320.2Z" fill="#3e84bb" stroke="#3e84bb" stroke-width="0.6" fill-rule="evenodd"/>
<path d="M261.6,216.7L262.6,216.7L263.6,216.7L264.6,216.7L265.6,216.7L266.6,216.7L267.6,216.7L268.6,216.7L269.6,216.7L270.6,216.7L271.6,216.7L272.6,216.7L273.6,216.7L274.6,216.7L275.6,216.7L276.6,216.7L277.6,216.7L278.6,216.7L279.6,216.7L280.1,216.7L280.6,216.7L281.6,216.7L282.6,216.7L283.6,216.7L284.6,216.8L285.6,216.8L286.6,216.8L287.6,216.8L288.6,216.8L289.6,216.8L290.6,216.8L291.6,216.8L292.6,216.8L293.6,216.8L294.6,216.8L295.6,216.8L296.6,216.8L297.6,216.8L298.6,216.8L299.6,216.8L300.6,216.8L301.6,216.7L302.6,216.7L303.6,216.7L304.6,216.7L305.6,216.7L306.6,216.7L306.6,216.7L307.6,216.7L308.6,216.7L309.6,216.7L310.6,216.7L311.6,216.7L312.6,216.7L313.6,216.7L314.6,216.7L315.6,216.7L316.6,216.7L317.6,216.7L318.6,216.7L319.6,216.7L320.6,216.7L321.6,216.7L322.6,216.7L323.6,216.7L324.6,216.7L325.6,216.7L326.6,216.7L327.6,216.7L328.6,216.7L329.6,216.7L330.6,216.7L331.6,216.7L332.6,216.7L333.6,216.7L334.6,216.7L335.6,216.7L336.6,216.7L337.6,216.7L338.6,216.7L339.6,216.7L340.6,216.7L341.6,216.7L342.6,216.7L343.6,216.7L344.6,216.7L345.6,216.7L346.6,216.7L347.6,216.7L348.6,216.7L349.6,216.7L350.6,216.7L351.6,216.7L352.6,216.7L353.6,216.7L354.6,216.7L355.6,216.7L356.6,216.7L357.6,216.7L358.6,216.7L358.8,216.7L358.6,216.9L357.8,217.7L357.6,217.8L356.6,218.2L355.6,218.3L354.6,218.3L353.6,218.3L352.6,218.2L351.6,218.2L350.6,218.2L349.6,218.2L348.6,218.2L347.6,218.2L346.6,218.2L345.6,218.2L344.6,218.2L343.6,218.2L342.6,218.3L341.6,218.3L340.6,218.3L339.6,218.3L338.6,218.3L337.6,218.3L336.6,218.3L335.6,218.3L334.6,218.3L333.6,218.3L332.6,218.3L331.6,218.3L330.6,218.3L329.6,218.3L328.6,218.3L327.6,218.3L326.6,218.2L325.6,218.2L324.6,218.2L323.6,218.2L322.6,218.2L321.6,218.2L320.6,218.2L319.6,218.2L318.6,218.2L317.6,218.2L316.6,218.2L315.6,218.2L314.6,218.2L313.6,218.2L312.6,218.2L311.6,218.2L310.6,218.2L309.6,218.2L308.6,218.2L307.6,218.2L306.6,218.2L305.6,218.2L304.6,218.2L303.6,218.2L302.6,218.2L301.6,218.2L300.6,218.2L299.6,218.2L298.6,218.2L297.6,218.2L296.6,218.2L295.6,218.2L294.6,218.2L293.6,218.2L292.6,218.2L291.6,218.2L290.6,218.2L289.6,218.2L288.6,218.2L287.6,218.2L286.6,218.2L285.6,218.2L284.6,218.1L283.6,218.1L282.6,218.1L281.6,218.1L280.6,218.1L279.6,218.1L278.6,218.1L277.6,218.1L276.6,218.2L275.6,218.2L274.6,218.3L273.6,218.5L272.6,218.6L272.2,218.7L271.6,218.8L270.6,218.9L269.6,219.1L268.6,219.2L267.6,219.4L266.6,219.6L265.6,219.7L265.6,219.7L264.6,219.9L263.6,220.0L262.6,220.0L262.2,219.7L262.0,218.7L261.8,217.7L261.6,217.0L261.5,216.7ZM247.6,320.2L248.3,320.7L248.6,320.9L249.6,321.7L249.6,321.7L250.6,322.5L250.9,322.7L251.6,323.2L252.2,323.7L252.6,324.0L253.2,324.7L253.4,325.7L253.4,326.7L253.6,327.0L254.6,327.2L255.6,327.3L256.3,327.7L256.3,328.7L256.3,329.7L256.3,330.7L255.6,331.3L254.6,331.4L253.6,331.4L253.4,331.7L253.4,332.7L253.3,333.7L252.6,334.6L252.5,334.7L251.6,335.3L251.0,335.7L250.6,336.0L249.6,336.6L249.5,336.7L248.6,337.3L248.0,337.7L247.6,338.0L247.3,337.7L247.0,336.7L246.8,335.7L246.8,334.7L246.8,333.7L246.8,332.7L246.8,331.7L246.8,330.7L246.8,329.7L246.8,328.7L246.8,327.7L246.8,326.7L246.8,325.7L246.8,324.7L246.8,323.7L246.8,322.7L246.9,321.7L247.2,320.7ZM248.4,324.7L248.0,325.7L247.9,326.7L247.8,327.7L247.8,328.7L247.8,329.7L247.8,330.7L247.9,331.7L248.1,332.7L248.6,333.6L249.6,332.9L249.9,332.7L250.6,332.2L251.1,331.7L251.4,330.7L251.6,329.7L251.6,328.9L251.6,328.7L251.6,328.6L251.5,327.7L251.2,326.7L250.6,326.1L250.1,325.7L249.6,325.3L248.8,324.7L248.6,324.5Z" fill="#3d6fb4" stroke="#3d6fb4" stroke-width="0.6" fill-rule="evenodd"/>
<path d="M280.6,216.7L281.6,216.7L282.6,216.7L283.6,216.7L284.6,216.7L285.6,216.7L286.6,216.7L287.6,216.7L288.6,216.7L289.6,216.7L290.6,216.7L291.6,216.7L292.6,216.7L293.6,216.7L294.6,216.7L295.6,216.7L296.6,216.7L297.6,216.7L298.6,216.7L299.6,216.7L300.6,216.7L301.6,216.7L302.6,216.7L303.6,216.7L304.6,216.7L305.6,216.7L306.6,216.7L305.6,216.7L304.6,216.7L303.6,216.7L302.6,216.7L301.6,216.7L300.6,216.8L299.6,216.8L298.6,216.8L297.6,216.8L296.6,216.8L295.6,216.8L294.6,216.8L293.6,216.8L292.6,216.8L291.6,216.8L290.6,216.8L289.6,216.8L288.6,216.8L287.6,216.8L286.6,216.8L285.6,216.8L284.6,216.8L283.6,216.7L282.6,216.7L281.6,216.7L280.6,216.7L280.1,216.7ZM248.6,324.5L248.8,324.7L249.6,325.3L250.1,325.7L250.6,326.1L251.2,326.7L251.5,327.7L251.6,328.6L251.6,328.7L251.6,328.9L251.6,329.7L251.4,330.7L251.1,331.7L250.6,332.2L249.9,332.7L249.6,332.9L248.6,333.6L248.1,332.7L247.9,331.7L247.8,330.7L247.8,329.7L247.8,328.7L247.8,327.7L247.9,326.7L248.0,325.7L248.4,324.7Z" fill="#4a5eab" stroke="#4a5eab" stroke-width="0.6" fill-rule="evenodd"/>
<polyline points="252.80,216.70 258.60,243.00 258.60,273.00 246.60,287.50" fill="none" stroke="#111111" stroke-width="1.15" stroke-linejoin="round" stroke-dasharray="2.1,1.4" stroke-linejoin="miter"/>
<polyline points="260.50,216.70 261.50,221.00 279.90,218.20 357.90,218.80 360.00,216.70" fill="none" stroke="#111111" stroke-width="1.15" stroke-linejoin="round" stroke-dasharray="2.1,1.4" stroke-linejoin="miter"/>
<polyline points="367.70,216.70 357.10,232.00 278.20,232.70 265.80,245.10 265.90,280.00 267.80,302.00 278.00,339.40 294.00,345.00 354.20,348.50 388.50,354.50" fill="none" stroke="#111111" stroke-width="1.15" stroke-linejoin="round" stroke-dasharray="2.1,1.4" stroke-linejoin="miter"/>
<polyline points="378.60,216.70 373.40,237.90 357.40,243.60 322.60,245.10 292.70,264.80 289.60,274.00 300.00,287.50 309.20,296.60 315.50,301.50 388.50,315.30" fill="none" stroke="#111111" stroke-width="1.15" stroke-linejoin="round" stroke-dasharray="2.1,1.4" stroke-linejoin="miter"/>
<polyline points="246.60,318.70 260.90,329.70 246.60,339.40" fill="none" stroke="#111111" stroke-width="1.15" stroke-linejoin="round" stroke-dasharray="2.1,1.4" stroke-linejoin="miter"/>
</g>
<rect x="321.4" y="248.0" width="34.2" height="45.0" fill="none" stroke="#2222e0" stroke-width="1.3" stroke-dasharray="4.5,3"/>
<circle cx="328.40" cy="251.90" r="3.3" fill="url(#ge04848)"/>
<circle cx="347.50" cy="251.90" r="3.3" fill="url(#ge04848)"/>
<circle cx="327.00" cy="263.70" r="3.3" fill="url(#ge04848)"/>
<circle cx="255.90" cy="310.90" r="3.3" fill="url(#ge04848)"/>
<circle cx="341.20" cy="310.90" r="3.3" fill="url(#ge04848)"/>
<circle cx="341.20" cy="322.20" r="3.3" fill="url(#ge04848)"/>
<circle cx="255.70" cy="237.20" r="3.3" fill="url(#g555555)"/>
<circle cx="341.00" cy="287.50" r="3.3" fill="url(#g555555)"/>
<circle cx="255.90" cy="318.70" r="3.3" fill="url(#g555555)"/>
<circle cx="357.00" cy="315.30" r="3.3" fill="url(#g555555)"/>
<circle cx="343.10" cy="326.40" r="3.3" fill="url(#g555555)"/>
<circle cx="364.70" cy="345.70" r="3.3" fill="url(#g555555)"/>
<rect x="246.6" y="216.7" width="141.9" height="141.60000000000002" fill="none" stroke="#231f20" stroke-width="1.2"/>
<line x1="244.10" y1="216.70" x2="246.60" y2="216.70" stroke="#231f20" stroke-width="0.9"/>
<text x="242.50" y="219.50" font-size="8.00" text-anchor="end" fill="#231f20">- 2.6</text>
<line x1="244.10" y1="245.02" x2="246.60" y2="245.02" stroke="#231f20" stroke-width="0.9"/>
<text x="242.50" y="247.82" font-size="8.00" text-anchor="end" fill="#231f20">- 2.5</text>
<line x1="244.10" y1="273.34" x2="246.60" y2="273.34" stroke="#231f20" stroke-width="0.9"/>
<text x="242.50" y="276.14" font-size="8.00" text-anchor="end" fill="#231f20">- 2.4</text>
<line x1="244.10" y1="301.66" x2="246.60" y2="301.66" stroke="#231f20" stroke-width="0.9"/>
<text x="242.50" y="304.46" font-size="8.00" text-anchor="end" fill="#231f20">- 2.3</text>
<line x1="244.10" y1="329.98" x2="246.60" y2="329.98" stroke="#231f20" stroke-width="0.9"/>
<text x="242.50" y="332.78" font-size="8.00" text-anchor="end" fill="#231f20">- 2.2</text>
<line x1="244.10" y1="358.30" x2="246.60" y2="358.30" stroke="#231f20" stroke-width="0.9"/>
<text x="242.50" y="361.10" font-size="8.00" text-anchor="end" fill="#231f20">- 2.1</text>
<line x1="246.60" y1="358.30" x2="246.60" y2="360.80" stroke="#231f20" stroke-width="0.9"/>
<text x="246.60" y="368.80" font-size="8.00" text-anchor="middle" fill="#231f20">- 1.0</text>
<line x1="278.00" y1="358.30" x2="278.00" y2="360.80" stroke="#231f20" stroke-width="0.9"/>
<text x="278.00" y="368.80" font-size="8.00" text-anchor="middle" fill="#231f20">- 0.8</text>
<line x1="309.40" y1="358.30" x2="309.40" y2="360.80" stroke="#231f20" stroke-width="0.9"/>
<text x="309.40" y="368.80" font-size="8.00" text-anchor="middle" fill="#231f20">- 0.6</text>
<line x1="340.80" y1="358.30" x2="340.80" y2="360.80" stroke="#231f20" stroke-width="0.9"/>
<text x="340.80" y="368.80" font-size="8.00" text-anchor="middle" fill="#231f20">- 0.4</text>
<line x1="372.20" y1="358.30" x2="372.20" y2="360.80" stroke="#231f20" stroke-width="0.9"/>
<text x="372.20" y="368.80" font-size="8.00" text-anchor="middle" fill="#231f20">- 0.2</text>
<line x1="388.50" y1="232.50" x2="391.00" y2="232.50" stroke="#231f20" stroke-width="0.9"/>
<text x="392.20" y="235.50" font-size="8.50" text-anchor="start" fill="#231f20">- 1.0</text>
<line x1="388.50" y1="263.90" x2="391.00" y2="263.90" stroke="#231f20" stroke-width="0.9"/>
<text x="392.20" y="266.90" font-size="8.50" text-anchor="start" fill="#231f20">- 0.8</text>
<line x1="388.50" y1="295.30" x2="391.00" y2="295.30" stroke="#231f20" stroke-width="0.9"/>
<text x="392.20" y="298.30" font-size="8.50" text-anchor="start" fill="#231f20">- 0.6</text>
<line x1="388.50" y1="326.70" x2="391.00" y2="326.70" stroke="#231f20" stroke-width="0.9"/>
<text x="392.20" y="329.70" font-size="8.50" text-anchor="start" fill="#231f20">- 0.4</text>
<line x1="388.50" y1="358.10" x2="391.00" y2="358.10" stroke="#231f20" stroke-width="0.9"/>
<text x="392.20" y="361.10" font-size="8.50" text-anchor="start" fill="#231f20">- 0.2</text>
<text x="318.00" y="383.30" font-size="10.00" text-anchor="middle" fill="#231f20"><tspan font-style="italic">E</tspan><tspan dy="1.70" font-size="6.20">CO</tspan><tspan dy="-1.70">&#8203;</tspan></text>
<text x="220.60" y="287.00" font-size="9.40" text-anchor="middle" fill="#231f20" transform="rotate(-90.00 220.60 287.00)"><tspan font-style="italic">E</tspan><tspan dy="1.60" font-size="5.83">O2,ad</tspan><tspan dy="-1.60">&#8203;</tspan> (eV)</text>
<text x="419.60" y="287.00" font-size="9.80" text-anchor="middle" fill="#231f20" transform="rotate(-90.00 419.60 287.00)"><tspan font-style="italic">E</tspan><tspan dy="1.67" font-size="6.08">O2,dis</tspan><tspan dy="-1.67">&#8203;</tspan> (eV)</text>
<rect x="425.90" y="216.50" width="10.40" height="5.26" fill="#330924"/>
<rect x="425.90" y="221.46" width="10.40" height="5.38" fill="#450b2c"/>
<rect x="425.90" y="226.54" width="10.40" height="5.38" fill="#5a0d34"/>
<rect x="425.90" y="231.62" width="10.40" height="5.38" fill="#730e3b"/>
<rect x="425.90" y="236.70" width="10.40" height="5.38" fill="#8b1243"/>
<rect x="425.90" y="241.78" width="10.40" height="5.38" fill="#a11a4b"/>
<rect x="425.90" y="246.86" width="10.40" height="5.38" fill="#b82850"/>
<rect x="425.90" y="251.94" width="10.40" height="5.38" fill="#d14350"/>
<rect x="425.90" y="257.02" width="10.40" height="5.38" fill="#e15d50"/>
<rect x="425.90" y="262.10" width="10.40" height="5.38" fill="#eb7653"/>
<rect x="425.90" y="267.18" width="10.40" height="5.38" fill="#f28f59"/>
<rect x="425.90" y="272.26" width="10.40" height="5.38" fill="#f6a262"/>
<rect x="425.90" y="277.34" width="10.40" height="5.38" fill="#f9b373"/>
<rect x="425.90" y="282.42" width="10.40" height="5.38" fill="#fcc484"/>
<rect x="425.90" y="287.50" width="10.40" height="5.38" fill="#fdda9a"/>
<rect x="425.90" y="292.58" width="10.40" height="5.38" fill="#f7ebab"/>
<rect x="425.90" y="297.66" width="10.40" height="5.38" fill="#dcedb0"/>
<rect x="425.90" y="302.74" width="10.40" height="5.38" fill="#abdaa8"/>
<rect x="425.90" y="307.82" width="10.40" height="5.38" fill="#86cba8"/>
<rect x="425.90" y="312.90" width="10.40" height="5.38" fill="#67b9ab"/>
<rect x="425.90" y="317.98" width="10.40" height="5.38" fill="#50a0b4"/>
<rect x="425.90" y="323.06" width="10.40" height="5.38" fill="#3e84bb"/>
<rect x="425.90" y="328.14" width="10.40" height="5.38" fill="#3d6fb4"/>
<rect x="425.90" y="333.22" width="10.40" height="5.38" fill="#4a5eab"/>
<rect x="425.90" y="338.30" width="10.40" height="5.38" fill="#5d52a2"/>
<rect x="425.90" y="343.38" width="10.40" height="5.38" fill="#493f86"/>
<rect x="425.90" y="348.46" width="10.40" height="5.38" fill="#382e63"/>
<rect x="425.90" y="353.54" width="10.40" height="5.38" fill="#2f2751"/>
<rect x="425.9" y="216.5" width="10.4" height="142.2" fill="none" stroke="#555" stroke-width="0.6"/>
<line x1="436.30" y1="221.40" x2="438.30" y2="221.40" stroke="#444" stroke-width="0.8"/>
<text x="441.00" y="223.70" font-size="6.60" text-anchor="start" fill="#231f20">- 4.0</text>
<line x1="436.30" y1="247.84" x2="438.30" y2="247.84" stroke="#444" stroke-width="0.8"/>
<text x="441.00" y="250.14" font-size="6.60" text-anchor="start" fill="#231f20">- 5.0</text>
<line x1="436.30" y1="274.28" x2="438.30" y2="274.28" stroke="#444" stroke-width="0.8"/>
<text x="441.00" y="276.58" font-size="6.60" text-anchor="start" fill="#231f20">- 6.0</text>
<line x1="436.30" y1="300.72" x2="438.30" y2="300.72" stroke="#444" stroke-width="0.8"/>
<text x="441.00" y="303.02" font-size="6.60" text-anchor="start" fill="#231f20">- 7.0</text>
<line x1="436.30" y1="327.16" x2="438.30" y2="327.16" stroke="#444" stroke-width="0.8"/>
<text x="441.00" y="329.46" font-size="6.60" text-anchor="start" fill="#231f20">- 8.0</text>
<line x1="436.30" y1="353.60" x2="438.30" y2="353.60" stroke="#444" stroke-width="0.8"/>
<text x="441.00" y="355.90" font-size="6.60" text-anchor="start" fill="#231f20">- 9.0</text>
<text x="430.90" y="210.30" font-size="8.30" text-anchor="middle" fill="#231f20">log <tspan font-style="italic">r</tspan><tspan dy="1.41" font-size="5.15">site</tspan><tspan dy="-1.41">&#8203;</tspan> (s<tspan dy="-3.15" font-size="5.15">-1</tspan><tspan dy="3.15">&#8203;</tspan>)</text>
<text x="456.40" y="207.50" font-size="16.40" text-anchor="start" fill="#231f20">(f)</text>
<circle cx="572.3" cy="288.7" r="7.16" fill="none" stroke="#d6d6d6" stroke-width="0.6"/>
<circle cx="572.3" cy="288.7" r="21.48" fill="none" stroke="#d6d6d6" stroke-width="0.6"/>
<circle cx="572.3" cy="288.7" r="35.80" fill="none" stroke="#d6d6d6" stroke-width="0.6"/>
<circle cx="572.3" cy="288.7" r="50.12" fill="none" stroke="#d6d6d6" stroke-width="0.6"/>
<circle cx="572.3" cy="288.7" r="64.44" fill="none" stroke="#d6d6d6" stroke-width="0.6"/>
<path d="M572.3,288.7 L512.90,289.11 A59.4,59.4 0 0 1 523.76,254.46 Z" fill="#fa9866"/>
<path d="M572.3,288.7 L529.95,236.40 A67.3,67.3 0 0 1 568.31,221.52 Z" fill="#dc4a42"/>
<path d="M572.3,288.7 L587.14,220.09 A70.2,70.2 0 0 1 624.30,241.55 Z" fill="#a83834"/>
<path d="M572.3,288.7 L634.89,257.36 A70.0,70.0 0 0 1 641.44,299.65 Z" fill="#4b7abb"/>
<path d="M572.3,288.7 L630.90,315.90 A64.6,64.6 0 0 1 604.11,344.92 Z" fill="#94c0de"/>
<path d="M572.3,288.7 L586.43,348.45 A61.4,61.4 0 0 1 549.00,345.51 Z" fill="#dcedf7"/>
<path d="M572.3,288.7 L528.61,344.41 A70.8,70.8 0 0 1 504.35,308.57 Z" fill="#fde09b"/>
<circle cx="572.3" cy="288.7" r="14.32" fill="none" stroke="rgba(0,0,0,0.22)" stroke-width="0.7"/>
<circle cx="572.3" cy="288.7" r="28.64" fill="none" stroke="rgba(0,0,0,0.22)" stroke-width="0.7"/>
<circle cx="572.3" cy="288.7" r="42.96" fill="none" stroke="rgba(0,0,0,0.22)" stroke-width="0.7"/>
<circle cx="572.3" cy="288.7" r="57.28" fill="none" stroke="rgba(0,0,0,0.22)" stroke-width="0.7"/>
<line x1="572.30" y1="288.70" x2="497.01" y2="265.11" stroke="rgba(0,0,0,0.22)" stroke-width="0.7"/>
<line x1="572.30" y1="288.70" x2="543.77" y2="215.14" stroke="rgba(0,0,0,0.22)" stroke-width="0.7"/>
<line x1="572.30" y1="288.70" x2="611.75" y2="220.37" stroke="rgba(0,0,0,0.22)" stroke-width="0.7"/>
<line x1="572.30" y1="288.70" x2="650.27" y2="276.63" stroke="rgba(0,0,0,0.22)" stroke-width="0.7"/>
<line x1="572.30" y1="288.70" x2="630.28" y2="342.21" stroke="rgba(0,0,0,0.22)" stroke-width="0.7"/>
<line x1="572.30" y1="288.70" x2="566.11" y2="367.36" stroke="rgba(0,0,0,0.22)" stroke-width="0.7"/>
<line x1="572.30" y1="288.70" x2="506.97" y2="332.93" stroke="rgba(0,0,0,0.22)" stroke-width="0.7"/>
<path d="M572.3,288.7 L512.90,289.11 A59.4,59.4 0 0 1 523.76,254.46 Z" fill="none" stroke="#1a1a1a" stroke-width="0.9" stroke-linejoin="miter"/>
<path d="M572.3,288.7 L529.95,236.40 A67.3,67.3 0 0 1 568.31,221.52 Z" fill="none" stroke="#1a1a1a" stroke-width="0.9" stroke-linejoin="miter"/>
<path d="M572.3,288.7 L587.14,220.09 A70.2,70.2 0 0 1 624.30,241.55 Z" fill="none" stroke="#1a1a1a" stroke-width="0.9" stroke-linejoin="miter"/>
<path d="M572.3,288.7 L634.89,257.36 A70.0,70.0 0 0 1 641.44,299.65 Z" fill="none" stroke="#1a1a1a" stroke-width="0.9" stroke-linejoin="miter"/>
<path d="M572.3,288.7 L630.90,315.90 A64.6,64.6 0 0 1 604.11,344.92 Z" fill="none" stroke="#1a1a1a" stroke-width="0.9" stroke-linejoin="miter"/>
<path d="M572.3,288.7 L586.43,348.45 A61.4,61.4 0 0 1 549.00,345.51 Z" fill="none" stroke="#1a1a1a" stroke-width="0.9" stroke-linejoin="miter"/>
<path d="M572.3,288.7 L528.61,344.41 A70.8,70.8 0 0 1 504.35,308.57 Z" fill="none" stroke="#1a1a1a" stroke-width="0.9" stroke-linejoin="miter"/>
<circle cx="572.3" cy="288.7" r="71.6" fill="none" stroke="#3a3a3a" stroke-width="0.8"/>
<circle cx="572.3" cy="288.7" r="78.9" fill="none" stroke="#1f1f1f" stroke-width="1.3"/>
<text x="576.90" y="223.20" font-size="6.20" text-anchor="middle" fill="#231f20" font-weight="bold">100%</text>
<text x="576.40" y="236.50" font-size="6.20" text-anchor="middle" fill="#231f20" font-weight="bold">80%</text>
<text x="539.79" y="211.59" font-size="10.90" text-anchor="middle" fill="#231f20" transform="rotate(-21.50 539.79 211.59)">CN(Cu-O)</text>
<text x="617.19" y="218.90" font-size="10.90" text-anchor="middle" fill="#231f20" transform="rotate(34.00 617.19 218.90)">CN(Cu-Cu)</text>
<text x="658.04" y="280.35" font-size="11.00" text-anchor="middle" fill="#231f20" transform="rotate(0.00 658.04 280.35)" font-style="italic">Q</text>
<text x="564.76" y="378.76" font-size="10.80" text-anchor="middle" fill="#231f20" transform="rotate(4.50 564.76 378.76)" font-style="italic">R</text>
<text x="569.25" y="374.80" font-size="5.80" text-anchor="start" fill="#231f20" transform="rotate(4.50 569.25 374.80)">o</text>
<text x="494.79" y="339.03" font-size="10.90" text-anchor="middle" fill="#231f20" transform="rotate(57.00 494.79 339.03)"><tspan font-style="italic">d</tspan>(Cu-O)</text>
<text x="495.22" y="261.56" font-size="10.80" text-anchor="middle" fill="#231f20" transform="rotate(-70.50 495.22 261.56)"><tspan font-style="italic">d</tspan>(Cu-Cu)</text>
<g transform="rotate(-47.6 637.28 348.04)"><text x="631.28" y="351.84" font-size="11" font-style="italic" fill="#231f20">E</text><text x="639.48" y="354.04" font-size="6.4" fill="#231f20">app</text></g>
</svg></body></html>
